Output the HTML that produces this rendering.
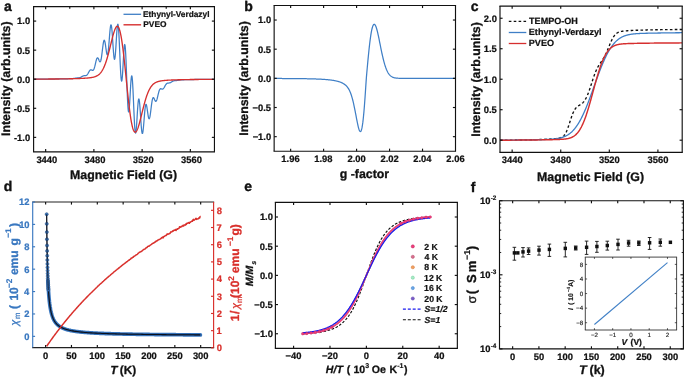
<!DOCTYPE html>
<html><head><meta charset="utf-8"><style>html,body{margin:0;padding:0;background:#fff;width:685px;height:378px;overflow:hidden}</style></head>
<body>
<svg width="685" height="378" viewBox="0 0 685 378" style="display:block;font-family:'Liberation Sans',sans-serif;will-change:transform" stroke-linejoin="round" text-rendering="geometricPrecision">
<rect width="685" height="378" fill="#fff"/>
<clipPath id="ca"><rect x="33.6" y="6.55" width="180.85" height="145.35"/></clipPath>
<g clip-path="url(#ca)" fill="none" stroke-linejoin="round">
<path d="M33.6,79.11 L33.86,79.11 L34.12,79.11 L34.38,79.11 L34.63,79.11 L34.89,79.11 L35.15,79.11 L35.41,79.11 L35.67,79.1 L35.93,79.1 L36.19,79.1 L36.45,79.1 L36.7,79.1 L36.96,79.1 L37.22,79.1 L37.48,79.1 L37.74,79.1 L38,79.1 L38.26,79.09 L38.52,79.09 L38.77,79.09 L39.03,79.09 L39.29,79.09 L39.55,79.09 L39.81,79.09 L40.07,79.09 L40.33,79.09 L40.59,79.09 L40.84,79.08 L41.1,79.08 L41.36,79.08 L41.62,79.08 L41.88,79.08 L42.14,79.08 L42.4,79.08 L42.66,79.08 L42.91,79.07 L43.17,79.07 L43.43,79.07 L43.69,79.07 L43.95,79.07 L44.21,79.07 L44.47,79.07 L44.73,79.07 L44.98,79.06 L45.24,79.06 L45.5,79.06 L45.76,79.06 L46.02,79.06 L46.28,79.06 L46.54,79.06 L46.8,79.05 L47.05,79.05 L47.31,79.05 L47.57,79.05 L47.83,79.05 L48.09,79.05 L48.35,79.05 L48.61,79.04 L48.86,79.04 L49.12,79.04 L49.38,79.04 L49.64,79.04 L49.9,79.04 L50.16,79.03 L50.42,79.03 L50.68,79.03 L50.93,79.03 L51.19,79.03 L51.45,79.03 L51.71,79.02 L51.97,79.02 L52.23,79.02 L52.49,79.02 L52.75,79.02 L53,79.01 L53.26,79.01 L53.52,79.01 L53.78,79.01 L54.04,79.01 L54.3,79 L54.56,79 L54.82,79 L55.07,79 L55.33,78.99 L55.59,78.99 L55.85,78.99 L56.11,78.99 L56.37,78.98 L56.63,78.98 L56.89,78.98 L57.14,78.98 L57.4,78.98 L57.66,78.97 L57.92,78.97 L58.18,78.97 L58.44,78.96 L58.7,78.96 L58.96,78.96 L59.21,78.96 L59.47,78.95 L59.73,78.95 L59.99,78.95 L60.25,78.94 L60.51,78.94 L60.77,78.93 L61.03,78.93 L61.28,78.93 L61.54,78.92 L61.8,78.92 L62.06,78.91 L62.32,78.91 L62.58,78.91 L62.84,78.9 L63.09,78.9 L63.35,78.89 L63.61,78.89 L63.87,78.89 L64.13,78.88 L64.39,78.88 L64.65,78.87 L64.91,78.87 L65.16,78.86 L65.42,78.86 L65.68,78.85 L65.94,78.85 L66.2,78.84 L66.46,78.83 L66.72,78.82 L66.98,78.81 L67.23,78.8 L67.49,78.79 L67.75,78.78 L68.01,78.76 L68.27,78.75 L68.53,78.74 L68.79,78.73 L69.05,78.72 L69.3,78.71 L69.56,78.7 L69.82,78.69 L70.08,78.68 L70.34,78.67 L70.6,78.66 L70.86,78.66 L71.12,78.65 L71.37,78.64 L71.63,78.63 L71.89,78.62 L72.15,78.61 L72.41,78.59 L72.67,78.57 L72.93,78.55 L73.19,78.52 L73.44,78.49 L73.7,78.46 L73.96,78.42 L74.22,78.38 L74.48,78.34 L74.74,78.29 L75,78.25 L75.26,78.2 L75.51,78.16 L75.77,78.12 L76.03,78.08 L76.29,78.05 L76.55,78.02 L76.81,77.99 L77.07,77.97 L77.32,77.96 L77.58,77.94 L77.84,77.93 L78.1,77.91 L78.36,77.9 L78.62,77.88 L78.88,77.85 L79.14,77.81 L79.39,77.76 L79.65,77.7 L79.91,77.62 L80.17,77.53 L80.43,77.42 L80.69,77.3 L80.95,77.16 L81.21,77.01 L81.46,76.86 L81.72,76.7 L81.98,76.54 L82.24,76.39 L82.5,76.24 L82.76,76.11 L83.02,75.99 L83.28,75.89 L83.53,75.81 L83.79,75.75 L84.05,75.71 L84.31,75.69 L84.57,75.68 L84.83,75.68 L85.09,75.68 L85.35,75.67 L85.6,75.64 L85.86,75.59 L86.12,75.51 L86.38,75.38 L86.64,75.21 L86.9,74.99 L87.16,74.72 L87.42,74.39 L87.67,74.02 L87.93,73.61 L88.19,73.16 L88.45,72.7 L88.71,72.22 L88.97,71.76 L89.23,71.32 L89.48,70.91 L89.74,70.55 L90,70.26 L90.26,70.03 L90.52,69.88 L90.78,69.8 L91.04,69.8 L91.3,69.85 L91.55,69.94 L91.81,70.07 L92.07,70.19 L92.33,70.3 L92.59,70.36 L92.85,70.35 L93.11,70.25 L93.37,70.03 L93.62,69.68 L93.88,69.19 L94.14,68.55 L94.4,67.78 L94.66,66.88 L94.92,65.88 L95.18,64.8 L95.44,63.68 L95.69,62.55 L95.95,61.46 L96.21,60.46 L96.47,59.57 L96.73,58.83 L96.99,58.28 L97.25,57.93 L97.51,57.79 L97.76,57.85 L98.02,58.11 L98.28,58.54 L98.54,59.08 L98.8,59.71 L99.06,60.35 L99.32,60.95 L99.58,61.44 L99.83,61.76 L100.09,61.85 L100.35,61.67 L100.61,61.19 L100.87,60.38 L101.13,59.24 L101.39,57.79 L101.65,56.07 L101.9,54.13 L102.16,52.04 L102.42,49.88 L102.68,47.74 L102.94,45.72 L103.2,43.9 L103.46,42.38 L103.71,41.23 L103.97,40.51 L104.23,40.24 L104.49,40.45 L104.75,41.13 L105.01,42.22 L105.27,43.67 L105.53,45.38 L105.78,47.25 L106.04,49.16 L106.3,50.98 L106.56,52.58 L106.82,53.83 L107.08,54.64 L107.34,54.91 L107.6,54.58 L107.85,53.63 L108.11,52.07 L108.37,49.93 L108.63,47.3 L108.89,44.28 L109.15,41.02 L109.41,37.66 L109.67,34.38 L109.92,31.36 L110.18,28.75 L110.44,26.72 L110.7,25.37 L110.96,24.81 L111.22,25.09 L111.48,26.21 L111.74,28.14 L111.99,30.79 L112.25,34.04 L112.51,37.74 L112.77,41.68 L113.03,45.67 L113.29,49.47 L113.55,52.9 L113.81,55.74 L114.06,57.84 L114.32,59.06 L114.58,59.33 L114.84,58.6 L115.1,56.92 L115.36,54.37 L115.62,51.07 L115.88,47.2 L116.13,43 L116.39,38.69 L116.65,34.54 L116.91,30.8 L117.17,27.71 L117.43,25.48 L117.69,24.28 L117.94,24.23 L118.2,25.38 L118.46,27.73 L118.72,31.2 L118.98,35.66 L119.24,40.92 L119.5,46.75 L119.76,52.86 L120.01,58.98 L120.27,64.81 L120.53,70.08 L120.79,74.53 L121.05,77.95 L121.31,80.19 L121.57,81.17 L121.83,80.86 L122.08,79.32 L122.34,76.67 L122.6,73.1 L122.86,68.84 L123.12,64.18 L123.38,59.42 L123.64,54.88 L123.9,50.86 L124.15,47.64 L124.41,45.46 L124.67,44.49 L124.93,44.87 L125.19,46.63 L125.45,49.74 L125.71,54.1 L125.97,59.53 L126.22,65.8 L126.48,72.64 L126.74,79.73 L127,86.76 L127.26,93.4 L127.52,99.35 L127.78,104.36 L128.04,108.21 L128.29,110.77 L128.55,111.96 L128.81,111.78 L129.07,110.31 L129.33,107.69 L129.59,104.14 L129.85,99.9 L130.11,95.26 L130.36,90.55 L130.62,86.07 L130.88,82.12 L131.14,78.95 L131.4,76.79 L131.66,75.8 L131.92,76.07 L132.17,77.61 L132.43,80.39 L132.69,84.29 L132.95,89.12 L133.21,94.67 L133.47,100.66 L133.73,106.82 L133.99,112.85 L134.24,118.48 L134.5,123.44 L134.76,127.52 L135.02,130.56 L135.28,132.44 L135.54,133.13 L135.8,132.64 L136.06,131.06 L136.31,128.52 L136.57,125.22 L136.83,121.36 L137.09,117.21 L137.35,113 L137.61,109.01 L137.87,105.44 L138.13,102.52 L138.38,100.39 L138.64,99.17 L138.9,98.92 L139.16,99.63 L139.42,101.26 L139.68,103.71 L139.94,106.83 L140.2,110.44 L140.45,114.34 L140.71,118.32 L140.97,122.18 L141.23,125.7 L141.49,128.72 L141.75,131.09 L142.01,132.7 L142.27,133.49 L142.52,133.45 L142.78,132.6 L143.04,131.01 L143.3,128.78 L143.56,126.06 L143.82,122.99 L144.08,119.74 L144.34,116.48 L144.59,113.39 L144.85,110.59 L145.11,108.22 L145.37,106.37 L145.63,105.1 L145.89,104.45 L146.15,104.39 L146.4,104.9 L146.66,105.9 L146.92,107.3 L147.18,108.99 L147.44,110.83 L147.7,112.71 L147.96,114.5 L148.22,116.09 L148.47,117.37 L148.73,118.28 L148.99,118.75 L149.25,118.77 L149.51,118.31 L149.77,117.42 L150.03,116.13 L150.29,114.51 L150.54,112.64 L150.8,110.59 L151.06,108.48 L151.32,106.38 L151.58,104.38 L151.84,102.56 L152.1,100.97 L152.36,99.67 L152.61,98.68 L152.87,98.01 L153.13,97.65 L153.39,97.58 L153.65,97.75 L153.91,98.12 L154.17,98.63 L154.43,99.22 L154.68,99.83 L154.94,100.39 L155.2,100.86 L155.46,101.19 L155.72,101.34 L155.98,101.31 L156.24,101.06 L156.5,100.61 L156.75,99.98 L157.01,99.17 L157.27,98.23 L157.53,97.19 L157.79,96.09 L158.05,94.97 L158.31,93.88 L158.57,92.83 L158.82,91.88 L159.08,91.03 L159.34,90.31 L159.6,89.73 L159.86,89.29 L160.12,88.99 L160.38,88.8 L160.63,88.72 L160.89,88.72 L161.15,88.78 L161.41,88.87 L161.67,88.97 L161.93,89.06 L162.19,89.11 L162.45,89.11 L162.7,89.06 L162.96,88.93 L163.22,88.73 L163.48,88.47 L163.74,88.14 L164,87.75 L164.26,87.32 L164.52,86.87 L164.77,86.39 L165.03,85.92 L165.29,85.46 L165.55,85.02 L165.81,84.63 L166.07,84.27 L166.33,83.96 L166.59,83.7 L166.84,83.49 L167.1,83.33 L167.36,83.21 L167.62,83.13 L167.88,83.08 L168.14,83.04 L168.4,83.02 L168.66,83.01 L168.91,82.99 L169.17,82.96 L169.43,82.92 L169.69,82.87 L169.95,82.79 L170.21,82.7 L170.47,82.58 L170.73,82.45 L170.98,82.31 L171.24,82.15 L171.5,81.99 L171.76,81.83 L172.02,81.67 L172.28,81.51 L172.54,81.37 L172.79,81.24 L173.05,81.12 L173.31,81.01 L173.57,80.92 L173.83,80.84 L174.09,80.78 L174.35,80.73 L174.61,80.69 L174.86,80.66 L175.12,80.64 L175.38,80.62 L175.64,80.6 L175.9,80.58 L176.16,80.56 L176.42,80.54 L176.68,80.51 L176.93,80.48 L177.19,80.45 L177.45,80.41 L177.71,80.37 L177.97,80.33 L178.23,80.28 L178.49,80.23 L178.75,80.19 L179,80.14 L179.26,80.1 L179.52,80.06 L179.78,80.02 L180.04,79.99 L180.3,79.96 L180.56,79.93 L180.82,79.91 L181.07,79.89 L181.33,79.87 L181.59,79.86 L181.85,79.84 L182.11,79.83 L182.37,79.82 L182.63,79.82 L182.89,79.81 L183.14,79.8 L183.4,79.79 L183.66,79.78 L183.92,79.77 L184.18,79.76 L184.44,79.75 L184.7,79.73 L184.96,79.72 L185.21,79.71 L185.47,79.7 L185.73,79.68 L185.99,79.67 L186.25,79.66 L186.51,79.65 L186.77,79.64 L187.02,79.63 L187.28,79.62 L187.54,79.61 L187.8,79.61 L188.06,79.6 L188.32,79.59 L188.58,79.59 L188.84,79.58 L189.09,79.58 L189.35,79.57 L189.61,79.57 L189.87,79.57 L190.13,79.56 L190.39,79.56 L190.65,79.55 L190.91,79.55 L191.16,79.55 L191.42,79.54 L191.68,79.54 L191.94,79.53 L192.2,79.53 L192.46,79.52 L192.72,79.52 L192.98,79.52 L193.23,79.51 L193.49,79.51 L193.75,79.51 L194.01,79.5 L194.27,79.5 L194.53,79.49 L194.79,79.49 L195.05,79.49 L195.3,79.49 L195.56,79.48 L195.82,79.48 L196.08,79.48 L196.34,79.48 L196.6,79.47 L196.86,79.47 L197.12,79.47 L197.37,79.47 L197.63,79.46 L197.89,79.46 L198.15,79.46 L198.41,79.46 L198.67,79.45 L198.93,79.45 L199.19,79.45 L199.44,79.45 L199.7,79.45 L199.96,79.44 L200.22,79.44 L200.48,79.44 L200.74,79.44 L201,79.43 L201.25,79.43 L201.51,79.43 L201.77,79.43 L202.03,79.43 L202.29,79.43 L202.55,79.42 L202.81,79.42 L203.07,79.42 L203.32,79.42 L203.58,79.42 L203.84,79.42 L204.1,79.41 L204.36,79.41 L204.62,79.41 L204.88,79.41 L205.14,79.41 L205.39,79.41 L205.65,79.4 L205.91,79.4 L206.17,79.4 L206.43,79.4 L206.69,79.4 L206.95,79.4 L207.21,79.39 L207.46,79.39 L207.72,79.39 L207.98,79.39 L208.24,79.39 L208.5,79.39 L208.76,79.39 L209.02,79.38 L209.28,79.38 L209.53,79.38 L209.79,79.38 L210.05,79.38 L210.31,79.38 L210.57,79.38 L210.83,79.38 L211.09,79.37 L211.35,79.37 L211.6,79.37 L211.86,79.37 L212.12,79.37 L212.38,79.37 L212.64,79.37 L212.9,79.37 L213.16,79.37 L213.42,79.36 L213.67,79.36 L213.93,79.36 L214.19,79.36 L214.45,79.36" stroke="#3f7fc6" stroke-width="1.25"/>
<path d="M33.6,79.12 L33.86,79.11 L34.12,79.11 L34.38,79.11 L34.63,79.11 L34.89,79.11 L35.15,79.11 L35.41,79.11 L35.67,79.11 L35.93,79.11 L36.19,79.11 L36.45,79.11 L36.7,79.1 L36.96,79.1 L37.22,79.1 L37.48,79.1 L37.74,79.1 L38,79.1 L38.26,79.1 L38.52,79.1 L38.77,79.1 L39.03,79.09 L39.29,79.09 L39.55,79.09 L39.81,79.09 L40.07,79.09 L40.33,79.09 L40.59,79.09 L40.84,79.09 L41.1,79.09 L41.36,79.08 L41.62,79.08 L41.88,79.08 L42.14,79.08 L42.4,79.08 L42.66,79.08 L42.91,79.08 L43.17,79.07 L43.43,79.07 L43.69,79.07 L43.95,79.07 L44.21,79.07 L44.47,79.07 L44.73,79.07 L44.98,79.07 L45.24,79.06 L45.5,79.06 L45.76,79.06 L46.02,79.06 L46.28,79.06 L46.54,79.06 L46.8,79.05 L47.05,79.05 L47.31,79.05 L47.57,79.05 L47.83,79.05 L48.09,79.05 L48.35,79.04 L48.61,79.04 L48.86,79.04 L49.12,79.04 L49.38,79.04 L49.64,79.04 L49.9,79.03 L50.16,79.03 L50.42,79.03 L50.68,79.03 L50.93,79.03 L51.19,79.02 L51.45,79.02 L51.71,79.02 L51.97,79.02 L52.23,79.02 L52.49,79.01 L52.75,79.01 L53,79.01 L53.26,79.01 L53.52,79.01 L53.78,79 L54.04,79 L54.3,79 L54.56,79 L54.82,78.99 L55.07,78.99 L55.33,78.99 L55.59,78.99 L55.85,78.98 L56.11,78.98 L56.37,78.98 L56.63,78.98 L56.89,78.97 L57.14,78.97 L57.4,78.97 L57.66,78.97 L57.92,78.96 L58.18,78.96 L58.44,78.96 L58.7,78.96 L58.96,78.95 L59.21,78.95 L59.47,78.95 L59.73,78.94 L59.99,78.94 L60.25,78.94 L60.51,78.93 L60.77,78.93 L61.03,78.93 L61.28,78.92 L61.54,78.92 L61.8,78.92 L62.06,78.91 L62.32,78.91 L62.58,78.91 L62.84,78.9 L63.09,78.9 L63.35,78.9 L63.61,78.89 L63.87,78.89 L64.13,78.88 L64.39,78.88 L64.65,78.88 L64.91,78.87 L65.16,78.87 L65.42,78.86 L65.68,78.86 L65.94,78.86 L66.2,78.85 L66.46,78.85 L66.72,78.84 L66.98,78.84 L67.23,78.83 L67.49,78.83 L67.75,78.82 L68.01,78.82 L68.27,78.81 L68.53,78.81 L68.79,78.8 L69.05,78.8 L69.3,78.79 L69.56,78.79 L69.82,78.78 L70.08,78.78 L70.34,78.77 L70.6,78.76 L70.86,78.76 L71.12,78.75 L71.37,78.75 L71.63,78.74 L71.89,78.73 L72.15,78.73 L72.41,78.72 L72.67,78.71 L72.93,78.71 L73.19,78.7 L73.44,78.69 L73.7,78.69 L73.96,78.68 L74.22,78.67 L74.48,78.67 L74.74,78.66 L75,78.65 L75.26,78.64 L75.51,78.63 L75.77,78.63 L76.03,78.62 L76.29,78.61 L76.55,78.6 L76.81,78.59 L77.07,78.58 L77.32,78.57 L77.58,78.57 L77.84,78.56 L78.1,78.55 L78.36,78.54 L78.62,78.53 L78.88,78.52 L79.14,78.51 L79.39,78.5 L79.65,78.49 L79.91,78.47 L80.17,78.46 L80.43,78.45 L80.69,78.44 L80.95,78.43 L81.21,78.42 L81.46,78.41 L81.72,78.39 L81.98,78.38 L82.24,78.37 L82.5,78.35 L82.76,78.34 L83.02,78.33 L83.28,78.31 L83.53,78.3 L83.79,78.28 L84.05,78.27 L84.31,78.25 L84.57,78.24 L84.83,78.22 L85.09,78.2 L85.35,78.19 L85.6,78.17 L85.86,78.15 L86.12,78.13 L86.38,78.11 L86.64,78.09 L86.9,78.07 L87.16,78.05 L87.42,78.03 L87.67,78 L87.93,77.98 L88.19,77.96 L88.45,77.93 L88.71,77.91 L88.97,77.88 L89.23,77.85 L89.48,77.82 L89.74,77.79 L90,77.76 L90.26,77.73 L90.52,77.69 L90.78,77.65 L91.04,77.62 L91.3,77.58 L91.55,77.53 L91.81,77.49 L92.07,77.44 L92.33,77.39 L92.59,77.34 L92.85,77.29 L93.11,77.23 L93.37,77.17 L93.62,77.11 L93.88,77.04 L94.14,76.97 L94.4,76.89 L94.66,76.81 L94.92,76.73 L95.18,76.63 L95.44,76.54 L95.69,76.44 L95.95,76.33 L96.21,76.21 L96.47,76.09 L96.73,75.96 L96.99,75.83 L97.25,75.68 L97.51,75.53 L97.76,75.36 L98.02,75.19 L98.28,75.01 L98.54,74.81 L98.8,74.6 L99.06,74.39 L99.32,74.16 L99.58,73.91 L99.83,73.65 L100.09,73.38 L100.35,73.09 L100.61,72.79 L100.87,72.47 L101.13,72.13 L101.39,71.78 L101.65,71.4 L101.9,71.01 L102.16,70.6 L102.42,70.16 L102.68,69.71 L102.94,69.24 L103.2,68.74 L103.46,68.22 L103.71,67.68 L103.97,67.11 L104.23,66.52 L104.49,65.91 L104.75,65.27 L105.01,64.61 L105.27,63.93 L105.53,63.22 L105.78,62.48 L106.04,61.72 L106.3,60.94 L106.56,60.13 L106.82,59.3 L107.08,58.44 L107.34,57.56 L107.6,56.66 L107.85,55.74 L108.11,54.8 L108.37,53.84 L108.63,52.86 L108.89,51.87 L109.15,50.86 L109.41,49.84 L109.67,48.81 L109.92,47.77 L110.18,46.72 L110.44,45.66 L110.7,44.6 L110.96,43.54 L111.22,42.49 L111.48,41.44 L111.74,40.39 L111.99,39.36 L112.25,38.34 L112.51,37.34 L112.77,36.36 L113.03,35.4 L113.29,34.47 L113.55,33.57 L113.81,32.71 L114.06,31.88 L114.32,31.1 L114.58,30.36 L114.84,29.67 L115.1,29.03 L115.36,28.45 L115.62,27.94 L115.88,27.48 L116.13,27.09 L116.39,26.78 L116.65,26.54 L116.91,26.38 L117.17,26.29 L117.43,26.3 L117.69,26.38 L117.94,26.56 L118.2,26.83 L118.46,27.19 L118.72,27.65 L118.98,28.21 L119.24,28.86 L119.5,29.61 L119.76,30.46 L120.01,31.42 L120.27,32.47 L120.53,33.62 L120.79,34.88 L121.05,36.23 L121.31,37.68 L121.57,39.22 L121.83,40.86 L122.08,42.58 L122.34,44.4 L122.6,46.29 L122.86,48.27 L123.12,50.33 L123.38,52.45 L123.64,54.65 L123.9,56.91 L124.15,59.22 L124.41,61.59 L124.67,64 L124.93,66.45 L125.19,68.93 L125.45,71.44 L125.71,73.98 L125.97,76.52 L126.22,79.08 L126.48,81.63 L126.74,84.18 L127,86.71 L127.26,89.22 L127.52,91.71 L127.78,94.17 L128.04,96.58 L128.29,98.95 L128.55,101.28 L128.81,103.54 L129.07,105.74 L129.33,107.88 L129.59,109.94 L129.85,111.93 L130.11,113.84 L130.36,115.66 L130.62,117.4 L130.88,119.04 L131.14,120.6 L131.4,122.06 L131.66,123.42 L131.92,124.68 L132.17,125.85 L132.43,126.91 L132.69,127.88 L132.95,128.74 L133.21,129.51 L133.47,130.17 L133.73,130.74 L133.99,131.21 L134.24,131.58 L134.5,131.86 L134.76,132.05 L135.02,132.15 L135.28,132.16 L135.54,132.09 L135.8,131.93 L136.06,131.7 L136.31,131.4 L136.57,131.02 L136.83,130.57 L137.09,130.06 L137.35,129.49 L137.61,128.86 L137.87,128.18 L138.13,127.44 L138.38,126.66 L138.64,125.84 L138.9,124.98 L139.16,124.09 L139.42,123.16 L139.68,122.21 L139.94,121.23 L140.2,120.23 L140.45,119.21 L140.71,118.18 L140.97,117.14 L141.23,116.09 L141.49,115.03 L141.75,113.97 L142.01,112.91 L142.27,111.86 L142.52,110.81 L142.78,109.76 L143.04,108.73 L143.3,107.71 L143.56,106.7 L143.82,105.7 L144.08,104.72 L144.34,103.76 L144.59,102.82 L144.85,101.89 L145.11,100.99 L145.37,100.11 L145.63,99.25 L145.89,98.42 L146.15,97.61 L146.4,96.82 L146.66,96.06 L146.92,95.32 L147.18,94.61 L147.44,93.92 L147.7,93.25 L147.96,92.61 L148.22,92 L148.47,91.4 L148.73,90.84 L148.99,90.29 L149.25,89.77 L149.51,89.27 L149.77,88.79 L150.03,88.34 L150.29,87.9 L150.54,87.49 L150.8,87.09 L151.06,86.72 L151.32,86.36 L151.58,86.02 L151.84,85.7 L152.1,85.39 L152.36,85.1 L152.61,84.83 L152.87,84.57 L153.13,84.32 L153.39,84.09 L153.65,83.87 L153.91,83.66 L154.17,83.47 L154.43,83.28 L154.68,83.11 L154.94,82.94 L155.2,82.79 L155.46,82.64 L155.72,82.5 L155.98,82.37 L156.24,82.25 L156.5,82.13 L156.75,82.03 L157.01,81.92 L157.27,81.83 L157.53,81.74 L157.79,81.65 L158.05,81.57 L158.31,81.49 L158.57,81.42 L158.82,81.35 L159.08,81.29 L159.34,81.23 L159.6,81.17 L159.86,81.11 L160.12,81.06 L160.38,81.01 L160.63,80.96 L160.89,80.92 L161.15,80.88 L161.41,80.84 L161.67,80.8 L161.93,80.76 L162.19,80.73 L162.45,80.69 L162.7,80.66 L162.96,80.63 L163.22,80.6 L163.48,80.57 L163.74,80.55 L164,80.52 L164.26,80.5 L164.52,80.47 L164.77,80.45 L165.03,80.43 L165.29,80.4 L165.55,80.38 L165.81,80.36 L166.07,80.34 L166.33,80.32 L166.59,80.3 L166.84,80.28 L167.1,80.27 L167.36,80.25 L167.62,80.23 L167.88,80.22 L168.14,80.2 L168.4,80.18 L168.66,80.17 L168.91,80.15 L169.17,80.14 L169.43,80.13 L169.69,80.11 L169.95,80.1 L170.21,80.08 L170.47,80.07 L170.73,80.06 L170.98,80.05 L171.24,80.03 L171.5,80.02 L171.76,80.01 L172.02,80 L172.28,79.99 L172.54,79.98 L172.79,79.97 L173.05,79.95 L173.31,79.94 L173.57,79.93 L173.83,79.92 L174.09,79.91 L174.35,79.9 L174.61,79.89 L174.86,79.89 L175.12,79.88 L175.38,79.87 L175.64,79.86 L175.9,79.85 L176.16,79.84 L176.42,79.83 L176.68,79.82 L176.93,79.82 L177.19,79.81 L177.45,79.8 L177.71,79.79 L177.97,79.79 L178.23,79.78 L178.49,79.77 L178.75,79.76 L179,79.76 L179.26,79.75 L179.52,79.74 L179.78,79.74 L180.04,79.73 L180.3,79.72 L180.56,79.72 L180.82,79.71 L181.07,79.7 L181.33,79.7 L181.59,79.69 L181.85,79.69 L182.11,79.68 L182.37,79.67 L182.63,79.67 L182.89,79.66 L183.14,79.66 L183.4,79.65 L183.66,79.65 L183.92,79.64 L184.18,79.64 L184.44,79.63 L184.7,79.63 L184.96,79.62 L185.21,79.62 L185.47,79.61 L185.73,79.61 L185.99,79.6 L186.25,79.6 L186.51,79.6 L186.77,79.59 L187.02,79.59 L187.28,79.58 L187.54,79.58 L187.8,79.57 L188.06,79.57 L188.32,79.57 L188.58,79.56 L188.84,79.56 L189.09,79.55 L189.35,79.55 L189.61,79.55 L189.87,79.54 L190.13,79.54 L190.39,79.54 L190.65,79.53 L190.91,79.53 L191.16,79.53 L191.42,79.52 L191.68,79.52 L191.94,79.52 L192.2,79.51 L192.46,79.51 L192.72,79.51 L192.98,79.5 L193.23,79.5 L193.49,79.5 L193.75,79.5 L194.01,79.49 L194.27,79.49 L194.53,79.49 L194.79,79.48 L195.05,79.48 L195.3,79.48 L195.56,79.48 L195.82,79.47 L196.08,79.47 L196.34,79.47 L196.6,79.47 L196.86,79.46 L197.12,79.46 L197.37,79.46 L197.63,79.46 L197.89,79.45 L198.15,79.45 L198.41,79.45 L198.67,79.45 L198.93,79.44 L199.19,79.44 L199.44,79.44 L199.7,79.44 L199.96,79.44 L200.22,79.43 L200.48,79.43 L200.74,79.43 L201,79.43 L201.25,79.43 L201.51,79.42 L201.77,79.42 L202.03,79.42 L202.29,79.42 L202.55,79.42 L202.81,79.41 L203.07,79.41 L203.32,79.41 L203.58,79.41 L203.84,79.41 L204.1,79.41 L204.36,79.4 L204.62,79.4 L204.88,79.4 L205.14,79.4 L205.39,79.4 L205.65,79.4 L205.91,79.39 L206.17,79.39 L206.43,79.39 L206.69,79.39 L206.95,79.39 L207.21,79.39 L207.46,79.39 L207.72,79.38 L207.98,79.38 L208.24,79.38 L208.5,79.38 L208.76,79.38 L209.02,79.38 L209.28,79.38 L209.53,79.37 L209.79,79.37 L210.05,79.37 L210.31,79.37 L210.57,79.37 L210.83,79.37 L211.09,79.37 L211.35,79.37 L211.6,79.36 L211.86,79.36 L212.12,79.36 L212.38,79.36 L212.64,79.36 L212.9,79.36 L213.16,79.36 L213.42,79.36 L213.67,79.35 L213.93,79.35 L214.19,79.35 L214.45,79.35" stroke="#d62f2f" stroke-width="1.35"/>
</g>
<line x1="33.02" y1="6.55" x2="215.02" y2="6.55" stroke="#111" stroke-width="1.15"/>
<line x1="33.02" y1="151.9" x2="215.02" y2="151.9" stroke="#111" stroke-width="1.15"/>
<line x1="33.6" y1="6.55" x2="33.6" y2="151.9" stroke="#111" stroke-width="1.15"/>
<line x1="214.45" y1="6.55" x2="214.45" y2="151.9" stroke="#111" stroke-width="1.15"/>
<line x1="45.66" y1="151.9" x2="45.66" y2="149.1" stroke="#111" stroke-width="1.15"/>
<line x1="45.66" y1="6.55" x2="45.66" y2="9.35" stroke="#111" stroke-width="1.15"/>
<line x1="93.88" y1="151.9" x2="93.88" y2="149.1" stroke="#111" stroke-width="1.15"/>
<line x1="93.88" y1="6.55" x2="93.88" y2="9.35" stroke="#111" stroke-width="1.15"/>
<line x1="142.11" y1="151.9" x2="142.11" y2="149.1" stroke="#111" stroke-width="1.15"/>
<line x1="142.11" y1="6.55" x2="142.11" y2="9.35" stroke="#111" stroke-width="1.15"/>
<line x1="190.34" y1="151.9" x2="190.34" y2="149.1" stroke="#111" stroke-width="1.15"/>
<line x1="190.34" y1="6.55" x2="190.34" y2="9.35" stroke="#111" stroke-width="1.15"/>
<line x1="69.77" y1="6.55" x2="69.77" y2="8.75" stroke="#111" stroke-width="1.15"/>
<line x1="118" y1="6.55" x2="118" y2="8.75" stroke="#111" stroke-width="1.15"/>
<line x1="166.22" y1="6.55" x2="166.22" y2="8.75" stroke="#111" stroke-width="1.15"/>
<line x1="33.6" y1="21.09" x2="36.2" y2="21.09" stroke="#111" stroke-width="1.15"/>
<line x1="214.45" y1="21.09" x2="211.85" y2="21.09" stroke="#111" stroke-width="1.15"/>
<line x1="33.6" y1="50.15" x2="36.2" y2="50.15" stroke="#111" stroke-width="1.15"/>
<line x1="214.45" y1="50.15" x2="211.85" y2="50.15" stroke="#111" stroke-width="1.15"/>
<line x1="33.6" y1="79.22" x2="36.2" y2="79.22" stroke="#111" stroke-width="1.15"/>
<line x1="214.45" y1="79.22" x2="211.85" y2="79.22" stroke="#111" stroke-width="1.15"/>
<line x1="33.6" y1="108.29" x2="36.2" y2="108.29" stroke="#111" stroke-width="1.15"/>
<line x1="214.45" y1="108.29" x2="211.85" y2="108.29" stroke="#111" stroke-width="1.15"/>
<line x1="33.6" y1="137.37" x2="36.2" y2="137.37" stroke="#111" stroke-width="1.15"/>
<line x1="214.45" y1="137.37" x2="211.85" y2="137.37" stroke="#111" stroke-width="1.15"/>
<text x="36.39" y="162.8" font-size="9.4" font-weight="bold" fill="#111" stroke="#111" stroke-width="0.24">3440</text>
<text x="84.61" y="162.8" font-size="9.4" font-weight="bold" fill="#111" stroke="#111" stroke-width="0.24">3480</text>
<text x="132.84" y="162.8" font-size="9.4" font-weight="bold" fill="#111" stroke="#111" stroke-width="0.24">3520</text>
<text x="181.07" y="162.8" font-size="9.4" font-weight="bold" fill="#111" stroke="#111" stroke-width="0.24">3560</text>
<text x="17.12" y="24.45" font-size="9.4" font-weight="bold" fill="#111" stroke="#111" stroke-width="0.24">1.0</text>
<text x="16.99" y="53.52" font-size="9.4" font-weight="bold" fill="#111" stroke="#111" stroke-width="0.24">0.5</text>
<text x="17.12" y="82.59" font-size="9.4" font-weight="bold" fill="#111" stroke="#111" stroke-width="0.24">0.0</text>
<text x="13.86" y="111.66" font-size="9.4" font-weight="bold" fill="#111" stroke="#111" stroke-width="0.24">-0.5</text>
<text x="13.99" y="140.73" font-size="9.4" font-weight="bold" fill="#111" stroke="#111" stroke-width="0.24">-1.0</text>
<text x="70.07" y="178.8" font-size="12.35" font-weight="bold" fill="#111" stroke="#111" stroke-width="0.31">Magnetic Field (G)</text>
<text transform="translate(10,136.03) rotate(-90)" font-size="12.35" font-weight="bold" fill="#111" stroke="#111" stroke-width="0.31">Intensity (arb.units)</text>
<text x="3.89" y="10.5" font-size="14" font-weight="bold" fill="#111" stroke="#111" stroke-width="0.35">a</text>
<line x1="123.5" y1="14.3" x2="141.1" y2="14.3" stroke="#3f7fc6" stroke-width="1.3"/>
<line x1="123.5" y1="24.8" x2="141.1" y2="24.8" stroke="#d62f2f" stroke-width="1.4"/>
<text x="143.04" y="17.15" font-size="8.3" font-weight="bold" fill="#111" stroke="#111" stroke-width="0.21">Ethynyl-Verdazyl</text>
<text x="143.24" y="27.25" font-size="8.4" font-weight="bold" fill="#111" stroke="#111" stroke-width="0.21">PVEO</text>
<clipPath id="cb"><rect x="274.15" y="5.45" width="181.35" height="145.8"/></clipPath>
<g clip-path="url(#cb)" fill="none"><path d="M274.15,78.46 L274.51,78.46 L274.88,78.46 L275.24,78.46 L275.6,78.47 L275.97,78.47 L276.33,78.47 L276.69,78.47 L277.06,78.47 L277.42,78.47 L277.78,78.47 L278.15,78.48 L278.51,78.48 L278.87,78.48 L279.24,78.48 L279.6,78.48 L279.96,78.48 L280.33,78.49 L280.69,78.49 L281.06,78.49 L281.42,78.49 L281.78,78.49 L282.15,78.5 L282.51,78.5 L282.87,78.5 L283.24,78.5 L283.6,78.5 L283.96,78.5 L284.33,78.51 L284.69,78.51 L285.05,78.51 L285.42,78.51 L285.78,78.52 L286.14,78.52 L286.51,78.52 L286.87,78.52 L287.23,78.52 L287.6,78.53 L287.96,78.53 L288.32,78.53 L288.69,78.53 L289.05,78.54 L289.41,78.54 L289.78,78.54 L290.14,78.54 L290.5,78.55 L290.87,78.55 L291.23,78.55 L291.59,78.56 L291.96,78.56 L292.32,78.56 L292.68,78.56 L293.05,78.57 L293.41,78.57 L293.78,78.57 L294.14,78.58 L294.5,78.58 L294.87,78.58 L295.23,78.59 L295.59,78.59 L295.96,78.6 L296.32,78.6 L296.68,78.6 L297.05,78.61 L297.41,78.61 L297.77,78.61 L298.14,78.62 L298.5,78.62 L298.86,78.63 L299.23,78.63 L299.59,78.64 L299.95,78.64 L300.32,78.65 L300.68,78.65 L301.04,78.65 L301.41,78.66 L301.77,78.67 L302.13,78.67 L302.5,78.68 L302.86,78.68 L303.22,78.69 L303.59,78.69 L303.95,78.7 L304.31,78.7 L304.68,78.71 L305.04,78.72 L305.4,78.72 L305.77,78.73 L306.13,78.74 L306.49,78.74 L306.86,78.75 L307.22,78.76 L307.59,78.76 L307.95,78.77 L308.31,78.78 L308.68,78.79 L309.04,78.79 L309.4,78.8 L309.77,78.81 L310.13,78.82 L310.49,78.83 L310.86,78.84 L311.22,78.85 L311.58,78.86 L311.95,78.87 L312.31,78.88 L312.67,78.89 L313.04,78.9 L313.4,78.91 L313.76,78.92 L314.13,78.93 L314.49,78.94 L314.85,78.95 L315.22,78.97 L315.58,78.98 L315.94,78.99 L316.31,79.01 L316.67,79.02 L317.03,79.03 L317.4,79.05 L317.76,79.06 L318.12,79.08 L318.49,79.09 L318.85,79.11 L319.21,79.13 L319.58,79.14 L319.94,79.16 L320.31,79.18 L320.67,79.2 L321.03,79.22 L321.4,79.24 L321.76,79.26 L322.12,79.28 L322.49,79.3 L322.85,79.32 L323.21,79.35 L323.58,79.37 L323.94,79.39 L324.3,79.42 L324.67,79.45 L325.03,79.47 L325.39,79.5 L325.76,79.53 L326.12,79.56 L326.48,79.59 L326.85,79.62 L327.21,79.65 L327.57,79.69 L327.94,79.72 L328.3,79.76 L328.66,79.8 L329.03,79.83 L329.39,79.87 L329.75,79.92 L330.12,79.96 L330.48,80 L330.84,80.05 L331.21,80.1 L331.57,80.15 L331.93,80.2 L332.3,80.25 L332.66,80.31 L333.03,80.36 L333.39,80.42 L333.75,80.48 L334.12,80.55 L334.48,80.61 L334.84,80.68 L335.21,80.76 L335.57,80.83 L335.93,80.91 L336.3,80.99 L336.66,81.07 L337.02,81.16 L337.39,81.25 L337.75,81.35 L338.11,81.45 L338.48,81.55 L338.84,81.66 L339.2,81.77 L339.57,81.89 L339.93,82.02 L340.29,82.15 L340.66,82.28 L341.02,82.43 L341.38,82.58 L341.75,82.74 L342.11,82.9 L342.47,83.08 L342.84,83.27 L343.2,83.47 L343.56,83.68 L343.93,83.9 L344.29,84.14 L344.65,84.4 L345.02,84.67 L345.38,84.96 L345.75,85.28 L346.11,85.62 L346.47,85.99 L346.84,86.39 L347.2,86.82 L347.56,87.28 L347.93,87.79 L348.29,88.34 L348.65,88.94 L349.02,89.58 L349.38,90.29 L349.74,91.05 L350.11,91.88 L350.47,92.77 L350.83,93.74 L351.2,94.78 L351.56,95.9 L351.92,97.1 L352.29,98.38 L352.65,99.74 L353.01,101.19 L353.38,102.72 L353.74,104.33 L354.1,106.01 L354.47,107.76 L354.83,109.56 L355.19,111.42 L355.56,113.32 L355.92,115.23 L356.28,117.16 L356.65,119.07 L357.01,120.94 L357.37,122.75 L357.74,124.48 L358.1,126.09 L358.47,127.56 L358.83,128.85 L359.19,129.93 L359.56,130.77 L359.92,131.33 L360.28,131.58 L360.65,131.49 L361.01,131.03 L361.37,130.17 L361.74,128.89 L362.1,127.18 L362.46,125.01 L362.83,122.38 L363.19,119.3 L363.55,115.77 L363.92,111.83 L364.28,107.49 L364.64,102.8 L365.01,97.81 L365.37,92.57 L365.73,87.14 L366.1,81.6 L366.46,76.64 L366.82,72.56 L367.19,68.52 L367.55,64.53 L367.91,60.64 L368.28,56.85 L368.64,53.2 L369,49.7 L369.37,46.37 L369.73,43.24 L370.09,40.32 L370.46,37.62 L370.82,35.15 L371.18,32.92 L371.55,30.95 L371.91,29.23 L372.28,27.77 L372.64,26.57 L373,25.63 L373.37,24.94 L373.73,24.5 L374.09,24.3 L374.46,24.33 L374.82,24.59 L375.18,25.05 L375.55,25.71 L375.91,26.55 L376.27,27.55 L376.64,28.71 L377,30 L377.36,31.42 L377.73,32.93 L378.09,34.54 L378.45,36.22 L378.82,37.95 L379.18,39.73 L379.54,41.54 L379.91,43.36 L380.27,45.18 L380.63,47 L381,48.8 L381.36,50.58 L381.72,52.31 L382.09,54 L382.45,55.65 L382.81,57.23 L383.18,58.76 L383.54,60.22 L383.9,61.62 L384.27,62.95 L384.63,64.21 L385,65.4 L385.36,66.51 L385.72,67.56 L386.09,68.54 L386.45,69.45 L386.81,70.3 L387.18,71.08 L387.54,71.81 L387.9,72.47 L388.27,73.08 L388.63,73.64 L388.99,74.15 L389.36,74.61 L389.72,75.03 L390.08,75.41 L390.45,75.76 L390.81,76.06 L391.17,76.34 L391.54,76.59 L391.9,76.81 L392.26,77 L392.63,77.17 L392.99,77.33 L393.35,77.46 L393.72,77.58 L394.08,77.69 L394.44,77.78 L394.81,77.86 L395.17,77.93 L395.53,77.99 L395.9,78.04 L396.26,78.09 L396.62,78.13 L396.99,78.16 L397.35,78.19 L397.72,78.22 L398.08,78.24 L398.44,78.25 L398.81,78.27 L399.17,78.28 L399.53,78.29 L399.9,78.3 L400.26,78.31 L400.62,78.32 L400.99,78.32 L401.35,78.33 L401.71,78.33 L402.08,78.34 L402.44,78.34 L402.8,78.34 L403.17,78.34 L403.53,78.34 L403.89,78.34 L404.26,78.35 L404.62,78.35 L404.98,78.35 L405.35,78.35 L405.71,78.35 L406.07,78.35 L406.44,78.35 L406.8,78.35 L407.16,78.35 L407.53,78.35 L407.89,78.35 L408.25,78.35 L408.62,78.35 L408.98,78.35 L409.34,78.35 L409.71,78.35 L410.07,78.35 L410.44,78.35 L410.8,78.35 L411.16,78.35 L411.53,78.35 L411.89,78.35 L412.25,78.35 L412.62,78.35 L412.98,78.35 L413.34,78.35 L413.71,78.35 L414.07,78.35 L414.43,78.35 L414.8,78.35 L415.16,78.35 L415.52,78.35 L415.89,78.35 L416.25,78.35 L416.61,78.35 L416.98,78.35 L417.34,78.35 L417.7,78.35 L418.07,78.35 L418.43,78.35 L418.79,78.35 L419.16,78.35 L419.52,78.35 L419.88,78.35 L420.25,78.35 L420.61,78.35 L420.97,78.35 L421.34,78.35 L421.7,78.35 L422.06,78.35 L422.43,78.35 L422.79,78.35 L423.16,78.35 L423.52,78.35 L423.88,78.35 L424.25,78.35 L424.61,78.35 L424.97,78.35 L425.34,78.35 L425.7,78.35 L426.06,78.35 L426.43,78.35 L426.79,78.35 L427.15,78.35 L427.52,78.35 L427.88,78.35 L428.24,78.35 L428.61,78.35 L428.97,78.35 L429.33,78.35 L429.7,78.35 L430.06,78.35 L430.42,78.35 L430.79,78.35 L431.15,78.35 L431.51,78.35 L431.88,78.35 L432.24,78.35 L432.6,78.35 L432.97,78.35 L433.33,78.35 L433.69,78.35 L434.06,78.35 L434.42,78.35 L434.78,78.35 L435.15,78.35 L435.51,78.35 L435.87,78.35 L436.24,78.35 L436.6,78.35 L436.97,78.35 L437.33,78.35 L437.69,78.35 L438.06,78.35 L438.42,78.35 L438.78,78.35 L439.15,78.35 L439.51,78.35 L439.87,78.35 L440.24,78.35 L440.6,78.35 L440.96,78.35 L441.33,78.35 L441.69,78.35 L442.05,78.35 L442.42,78.35 L442.78,78.35 L443.14,78.35 L443.51,78.35 L443.87,78.35 L444.23,78.35 L444.6,78.35 L444.96,78.35 L445.32,78.35 L445.69,78.35 L446.05,78.35 L446.41,78.35 L446.78,78.35 L447.14,78.35 L447.5,78.35 L447.87,78.35 L448.23,78.35 L448.59,78.35 L448.96,78.35 L449.32,78.35 L449.69,78.35 L450.05,78.35 L450.41,78.35 L450.78,78.35 L451.14,78.35 L451.5,78.35 L451.87,78.35 L452.23,78.35 L452.59,78.35 L452.96,78.35 L453.32,78.35 L453.68,78.35 L454.05,78.35 L454.41,78.35 L454.77,78.35 L455.14,78.35 L455.5,78.35" stroke="#3f7fc6" stroke-width="1.25"/></g>
<line x1="273.57" y1="5.45" x2="456.07" y2="5.45" stroke="#111" stroke-width="1.15"/>
<line x1="273.57" y1="151.25" x2="456.07" y2="151.25" stroke="#111" stroke-width="1.15"/>
<line x1="274.15" y1="5.45" x2="274.15" y2="151.25" stroke="#111" stroke-width="1.15"/>
<line x1="455.5" y1="5.45" x2="455.5" y2="151.25" stroke="#111" stroke-width="1.15"/>
<line x1="290.64" y1="151.25" x2="290.64" y2="148.65" stroke="#111" stroke-width="1.15"/>
<line x1="290.64" y1="5.45" x2="290.64" y2="8.05" stroke="#111" stroke-width="1.15"/>
<line x1="323.61" y1="151.25" x2="323.61" y2="148.65" stroke="#111" stroke-width="1.15"/>
<line x1="323.61" y1="5.45" x2="323.61" y2="8.05" stroke="#111" stroke-width="1.15"/>
<line x1="356.58" y1="151.25" x2="356.58" y2="148.65" stroke="#111" stroke-width="1.15"/>
<line x1="356.58" y1="5.45" x2="356.58" y2="8.05" stroke="#111" stroke-width="1.15"/>
<line x1="389.55" y1="151.25" x2="389.55" y2="148.65" stroke="#111" stroke-width="1.15"/>
<line x1="389.55" y1="5.45" x2="389.55" y2="8.05" stroke="#111" stroke-width="1.15"/>
<line x1="422.53" y1="151.25" x2="422.53" y2="148.65" stroke="#111" stroke-width="1.15"/>
<line x1="422.53" y1="5.45" x2="422.53" y2="8.05" stroke="#111" stroke-width="1.15"/>
<line x1="274.15" y1="20.03" x2="276.75" y2="20.03" stroke="#111" stroke-width="1.15"/>
<line x1="455.5" y1="20.03" x2="452.9" y2="20.03" stroke="#111" stroke-width="1.15"/>
<line x1="274.15" y1="49.19" x2="276.75" y2="49.19" stroke="#111" stroke-width="1.15"/>
<line x1="455.5" y1="49.19" x2="452.9" y2="49.19" stroke="#111" stroke-width="1.15"/>
<line x1="274.15" y1="78.35" x2="276.75" y2="78.35" stroke="#111" stroke-width="1.15"/>
<line x1="455.5" y1="78.35" x2="452.9" y2="78.35" stroke="#111" stroke-width="1.15"/>
<line x1="274.15" y1="107.51" x2="276.75" y2="107.51" stroke="#111" stroke-width="1.15"/>
<line x1="455.5" y1="107.51" x2="452.9" y2="107.51" stroke="#111" stroke-width="1.15"/>
<line x1="274.15" y1="136.67" x2="276.75" y2="136.67" stroke="#111" stroke-width="1.15"/>
<line x1="455.5" y1="136.67" x2="452.9" y2="136.67" stroke="#111" stroke-width="1.15"/>
<text x="281.36" y="161.7" font-size="9.4" font-weight="bold" fill="#111" stroke="#111" stroke-width="0.24">1.96</text>
<text x="314.31" y="161.7" font-size="9.4" font-weight="bold" fill="#111" stroke="#111" stroke-width="0.24">1.98</text>
<text x="347.46" y="161.7" font-size="9.4" font-weight="bold" fill="#111" stroke="#111" stroke-width="0.24">2.00</text>
<text x="380.43" y="161.7" font-size="9.4" font-weight="bold" fill="#111" stroke="#111" stroke-width="0.24">2.02</text>
<text x="413.24" y="161.7" font-size="9.4" font-weight="bold" fill="#111" stroke="#111" stroke-width="0.24">2.04</text>
<text x="446.36" y="161.7" font-size="9.4" font-weight="bold" fill="#111" stroke="#111" stroke-width="0.24">2.06</text>
<text x="258.12" y="23.4" font-size="9.4" font-weight="bold" fill="#111" stroke="#111" stroke-width="0.24">1.0</text>
<text x="257.99" y="52.56" font-size="9.4" font-weight="bold" fill="#111" stroke="#111" stroke-width="0.24">0.5</text>
<text x="258.12" y="81.72" font-size="9.4" font-weight="bold" fill="#111" stroke="#111" stroke-width="0.24">0.0</text>
<text x="252.5" y="110.88" font-size="9.4" font-weight="bold" fill="#111" stroke="#111" stroke-width="0.24">−0.5</text>
<text x="252.63" y="140.04" font-size="9.4" font-weight="bold" fill="#111" stroke="#111" stroke-width="0.24">−1.0</text>
<text x="339.79" y="177.5" font-size="12.35" font-weight="bold" fill="#111" stroke="#111" stroke-width="0.31">g -factor</text>
<text transform="translate(247.5,135.73) rotate(-90)" font-size="12.35" font-weight="bold" fill="#111" stroke="#111" stroke-width="0.31">Intensity (arb.units)</text>
<text x="244.18" y="10.5" font-size="14" font-weight="bold" fill="#111" stroke="#111" stroke-width="0.35">b</text>
<clipPath id="cc"><rect x="500.0" y="6.05" width="182.2" height="146.35"/></clipPath>
<g clip-path="url(#cc)" fill="none">
<path d="M500,140.2 L500.26,140.2 L500.52,140.2 L500.78,140.2 L501.04,140.2 L501.3,140.19 L501.56,140.19 L501.82,140.19 L502.09,140.19 L502.35,140.18 L502.61,140.18 L502.87,140.18 L503.13,140.18 L503.39,140.17 L503.65,140.17 L503.91,140.17 L504.17,140.17 L504.43,140.16 L504.69,140.16 L504.95,140.16 L505.21,140.16 L505.47,140.15 L505.73,140.15 L506,140.15 L506.26,140.15 L506.52,140.14 L506.78,140.14 L507.04,140.14 L507.3,140.14 L507.56,140.13 L507.82,140.13 L508.08,140.13 L508.34,140.13 L508.6,140.12 L508.86,140.12 L509.12,140.12 L509.38,140.11 L509.64,140.11 L509.91,140.11 L510.17,140.11 L510.43,140.1 L510.69,140.1 L510.95,140.1 L511.21,140.09 L511.47,140.09 L511.73,140.09 L511.99,140.08 L512.25,140.08 L512.51,140.08 L512.77,140.08 L513.03,140.07 L513.29,140.07 L513.55,140.07 L513.81,140.06 L514.08,140.06 L514.34,140.06 L514.6,140.05 L514.86,140.05 L515.12,140.05 L515.38,140.04 L515.64,140.04 L515.9,140.04 L516.16,140.03 L516.42,140.03 L516.68,140.03 L516.94,140.02 L517.2,140.02 L517.46,140.02 L517.72,140.01 L517.99,140.01 L518.25,140 L518.51,140 L518.77,140 L519.03,139.99 L519.29,139.99 L519.55,139.99 L519.81,139.98 L520.07,139.98 L520.33,139.97 L520.59,139.97 L520.85,139.97 L521.11,139.96 L521.37,139.96 L521.63,139.95 L521.9,139.95 L522.16,139.95 L522.42,139.94 L522.68,139.94 L522.94,139.93 L523.2,139.93 L523.46,139.92 L523.72,139.92 L523.98,139.92 L524.24,139.91 L524.5,139.91 L524.76,139.9 L525.02,139.9 L525.28,139.89 L525.54,139.89 L525.81,139.88 L526.07,139.88 L526.33,139.87 L526.59,139.87 L526.85,139.86 L527.11,139.86 L527.37,139.85 L527.63,139.85 L527.89,139.84 L528.15,139.84 L528.41,139.83 L528.67,139.83 L528.93,139.82 L529.19,139.82 L529.45,139.81 L529.72,139.81 L529.98,139.8 L530.24,139.8 L530.5,139.79 L530.76,139.78 L531.02,139.78 L531.28,139.77 L531.54,139.77 L531.8,139.76 L532.06,139.75 L532.32,139.75 L532.58,139.74 L532.84,139.74 L533.1,139.73 L533.36,139.72 L533.62,139.72 L533.89,139.71 L534.15,139.7 L534.41,139.7 L534.67,139.69 L534.93,139.68 L535.19,139.68 L535.45,139.67 L535.71,139.66 L535.97,139.65 L536.23,139.65 L536.49,139.64 L536.75,139.63 L537.01,139.62 L537.27,139.62 L537.53,139.61 L537.8,139.6 L538.06,139.59 L538.32,139.59 L538.58,139.58 L538.84,139.57 L539.1,139.56 L539.36,139.55 L539.62,139.54 L539.88,139.53 L540.14,139.53 L540.4,139.52 L540.66,139.51 L540.92,139.5 L541.18,139.49 L541.44,139.48 L541.71,139.47 L541.97,139.46 L542.23,139.45 L542.49,139.44 L542.75,139.43 L543.01,139.42 L543.27,139.41 L543.53,139.4 L543.79,139.39 L544.05,139.38 L544.31,139.37 L544.57,139.35 L544.83,139.34 L545.09,139.33 L545.35,139.32 L545.62,139.31 L545.88,139.29 L546.14,139.28 L546.4,139.27 L546.66,139.26 L546.92,139.24 L547.18,139.23 L547.44,139.22 L547.7,139.2 L547.96,139.19 L548.22,139.17 L548.48,139.16 L548.74,139.14 L549,139.13 L549.26,139.11 L549.53,139.1 L549.79,139.08 L550.05,139.06 L550.31,139.05 L550.57,139.03 L550.83,139.01 L551.09,139 L551.35,138.98 L551.61,138.96 L551.87,138.94 L552.13,138.92 L552.39,138.9 L552.65,138.88 L552.91,138.86 L553.17,138.84 L553.43,138.82 L553.7,138.79 L553.96,138.77 L554.22,138.75 L554.48,138.72 L554.74,138.7 L555,138.67 L555.26,138.65 L555.52,138.62 L555.78,138.59 L556.04,138.56 L556.3,138.53 L556.56,138.5 L556.82,138.47 L557.08,138.44 L557.34,138.4 L557.61,138.37 L557.87,138.33 L558.13,138.29 L558.39,138.24 L558.65,138.2 L558.91,138.15 L559.17,138.1 L559.43,138.04 L559.69,137.98 L559.95,137.91 L560.21,137.84 L560.47,137.76 L560.73,137.67 L560.99,137.58 L561.25,137.47 L561.52,137.36 L561.78,137.23 L562.04,137.09 L562.3,136.93 L562.56,136.77 L562.82,136.58 L563.08,136.37 L563.34,136.15 L563.6,135.9 L563.86,135.63 L564.12,135.34 L564.38,135.02 L564.64,134.68 L564.9,134.31 L565.16,133.91 L565.43,133.47 L565.69,133.01 L565.95,132.52 L566.21,132 L566.47,131.44 L566.73,130.86 L566.99,130.25 L567.25,129.6 L567.51,128.93 L567.77,128.24 L568.03,127.52 L568.29,126.78 L568.55,126.02 L568.81,125.24 L569.07,124.45 L569.34,123.65 L569.6,122.84 L569.86,122.03 L570.12,121.22 L570.38,120.41 L570.64,119.6 L570.9,118.81 L571.16,118.02 L571.42,117.26 L571.68,116.51 L571.94,115.78 L572.2,115.07 L572.46,114.39 L572.72,113.74 L572.98,113.11 L573.24,112.51 L573.51,111.94 L573.77,111.4 L574.03,110.89 L574.29,110.41 L574.55,109.95 L574.81,109.53 L575.07,109.13 L575.33,108.76 L575.59,108.42 L575.85,108.1 L576.11,107.8 L576.37,107.52 L576.63,107.26 L576.89,107.02 L577.15,106.79 L577.42,106.58 L577.68,106.38 L577.94,106.19 L578.2,106.01 L578.46,105.84 L578.72,105.67 L578.98,105.5 L579.24,105.34 L579.5,105.18 L579.76,105.02 L580.02,104.86 L580.28,104.7 L580.54,104.53 L580.8,104.35 L581.06,104.17 L581.33,103.99 L581.59,103.79 L581.85,103.58 L582.11,103.36 L582.37,103.14 L582.63,102.89 L582.89,102.64 L583.15,102.37 L583.41,102.08 L583.67,101.78 L583.93,101.46 L584.19,101.12 L584.45,100.77 L584.71,100.39 L584.97,100 L585.24,99.58 L585.5,99.14 L585.76,98.68 L586.02,98.2 L586.28,97.7 L586.54,97.18 L586.8,96.63 L587.06,96.06 L587.32,95.47 L587.58,94.86 L587.84,94.22 L588.1,93.57 L588.36,92.9 L588.62,92.2 L588.88,91.49 L589.15,90.76 L589.41,90.02 L589.67,89.26 L589.93,88.49 L590.19,87.71 L590.45,86.92 L590.71,86.12 L590.97,85.31 L591.23,84.5 L591.49,83.69 L591.75,82.87 L592.01,82.06 L592.27,81.25 L592.53,80.44 L592.79,79.64 L593.05,78.85 L593.32,78.07 L593.58,77.3 L593.84,76.54 L594.1,75.8 L594.36,75.07 L594.62,74.36 L594.88,73.67 L595.14,72.99 L595.4,72.33 L595.66,71.69 L595.92,71.07 L596.18,70.47 L596.44,69.89 L596.7,69.32 L596.96,68.78 L597.23,68.25 L597.49,67.75 L597.75,67.26 L598.01,66.78 L598.27,66.32 L598.53,65.88 L598.79,65.45 L599.05,65.03 L599.31,64.62 L599.57,64.22 L599.83,63.83 L600.09,63.44 L600.35,63.07 L600.61,62.69 L600.87,62.32 L601.14,61.94 L601.4,61.57 L601.66,61.2 L601.92,60.82 L602.18,60.43 L602.44,60.04 L602.7,59.64 L602.96,59.23 L603.22,58.82 L603.48,58.39 L603.74,57.95 L604,57.49 L604.26,57.03 L604.52,56.55 L604.78,56.05 L605.05,55.54 L605.31,55.02 L605.57,54.48 L605.83,53.93 L606.09,53.36 L606.35,52.79 L606.61,52.2 L606.87,51.6 L607.13,50.99 L607.39,50.37 L607.65,49.74 L607.91,49.1 L608.17,48.46 L608.43,47.82 L608.69,47.18 L608.96,46.54 L609.22,45.89 L609.48,45.26 L609.74,44.62 L610,44 L610.26,43.38 L610.52,42.77 L610.78,42.18 L611.04,41.59 L611.3,41.02 L611.56,40.47 L611.82,39.93 L612.08,39.41 L612.34,38.91 L612.6,38.42 L612.86,37.96 L613.13,37.51 L613.39,37.08 L613.65,36.67 L613.91,36.29 L614.17,35.92 L614.43,35.57 L614.69,35.24 L614.95,34.93 L615.21,34.64 L615.47,34.36 L615.73,34.11 L615.99,33.87 L616.25,33.64 L616.51,33.43 L616.77,33.24 L617.04,33.05 L617.3,32.89 L617.56,32.73 L617.82,32.58 L618.08,32.45 L618.34,32.33 L618.6,32.21 L618.86,32.11 L619.12,32.01 L619.38,31.92 L619.64,31.83 L619.9,31.76 L620.16,31.69 L620.42,31.62 L620.68,31.56 L620.95,31.5 L621.21,31.45 L621.47,31.4 L621.73,31.35 L621.99,31.31 L622.25,31.26 L622.51,31.23 L622.77,31.19 L623.03,31.15 L623.29,31.12 L623.55,31.09 L623.81,31.06 L624.07,31.03 L624.33,31 L624.59,30.98 L624.86,30.95 L625.12,30.93 L625.38,30.9 L625.64,30.88 L625.9,30.86 L626.16,30.84 L626.42,30.82 L626.68,30.8 L626.94,30.78 L627.2,30.76 L627.46,30.74 L627.72,30.72 L627.98,30.7 L628.24,30.68 L628.5,30.67 L628.77,30.65 L629.03,30.63 L629.29,30.62 L629.55,30.6 L629.81,30.58 L630.07,30.57 L630.33,30.55 L630.59,30.54 L630.85,30.52 L631.11,30.51 L631.37,30.5 L631.63,30.48 L631.89,30.47 L632.15,30.46 L632.41,30.44 L632.67,30.43 L632.94,30.42 L633.2,30.4 L633.46,30.39 L633.72,30.38 L633.98,30.37 L634.24,30.36 L634.5,30.35 L634.76,30.33 L635.02,30.32 L635.28,30.31 L635.54,30.3 L635.8,30.29 L636.06,30.28 L636.32,30.27 L636.58,30.26 L636.85,30.25 L637.11,30.24 L637.37,30.23 L637.63,30.22 L637.89,30.21 L638.15,30.2 L638.41,30.19 L638.67,30.18 L638.93,30.17 L639.19,30.16 L639.45,30.16 L639.71,30.15 L639.97,30.14 L640.23,30.13 L640.49,30.12 L640.76,30.11 L641.02,30.11 L641.28,30.1 L641.54,30.09 L641.8,30.08 L642.06,30.07 L642.32,30.07 L642.58,30.06 L642.84,30.05 L643.1,30.05 L643.36,30.04 L643.62,30.03 L643.88,30.02 L644.14,30.02 L644.4,30.01 L644.67,30 L644.93,30 L645.19,29.99 L645.45,29.98 L645.71,29.98 L645.97,29.97 L646.23,29.96 L646.49,29.96 L646.75,29.95 L647.01,29.95 L647.27,29.94 L647.53,29.93 L647.79,29.93 L648.05,29.92 L648.31,29.92 L648.58,29.91 L648.84,29.9 L649.1,29.9 L649.36,29.89 L649.62,29.89 L649.88,29.88 L650.14,29.88 L650.4,29.87 L650.66,29.87 L650.92,29.86 L651.18,29.86 L651.44,29.85 L651.7,29.84 L651.96,29.84 L652.22,29.83 L652.48,29.83 L652.75,29.82 L653.01,29.82 L653.27,29.82 L653.53,29.81 L653.79,29.81 L654.05,29.8 L654.31,29.8 L654.57,29.79 L654.83,29.79 L655.09,29.78 L655.35,29.78 L655.61,29.77 L655.87,29.77 L656.13,29.77 L656.39,29.76 L656.66,29.76 L656.92,29.75 L657.18,29.75 L657.44,29.74 L657.7,29.74 L657.96,29.74 L658.22,29.73 L658.48,29.73 L658.74,29.72 L659,29.72 L659.26,29.72 L659.52,29.71 L659.78,29.71 L660.04,29.7 L660.3,29.7 L660.57,29.7 L660.83,29.69 L661.09,29.69 L661.35,29.69 L661.61,29.68 L661.87,29.68 L662.13,29.68 L662.39,29.67 L662.65,29.67 L662.91,29.66 L663.17,29.66 L663.43,29.66 L663.69,29.65 L663.95,29.65 L664.21,29.65 L664.48,29.64 L664.74,29.64 L665,29.64 L665.26,29.63 L665.52,29.63 L665.78,29.63 L666.04,29.62 L666.3,29.62 L666.56,29.62 L666.82,29.62 L667.08,29.61 L667.34,29.61 L667.6,29.61 L667.86,29.6 L668.12,29.6 L668.39,29.6 L668.65,29.59 L668.91,29.59 L669.17,29.59 L669.43,29.59 L669.69,29.58 L669.95,29.58 L670.21,29.58 L670.47,29.57 L670.73,29.57 L670.99,29.57 L671.25,29.57 L671.51,29.56 L671.77,29.56 L672.03,29.56 L672.29,29.56 L672.56,29.55 L672.82,29.55 L673.08,29.55 L673.34,29.54 L673.6,29.54 L673.86,29.54 L674.12,29.54 L674.38,29.53 L674.64,29.53 L674.9,29.53 L675.16,29.53 L675.42,29.52 L675.68,29.52 L675.94,29.52 L676.2,29.52 L676.47,29.51 L676.73,29.51 L676.99,29.51 L677.25,29.51 L677.51,29.51 L677.77,29.5 L678.03,29.5 L678.29,29.5 L678.55,29.5 L678.81,29.49 L679.07,29.49 L679.33,29.49 L679.59,29.49 L679.85,29.49 L680.11,29.48 L680.38,29.48 L680.64,29.48 L680.9,29.48 L681.16,29.47 L681.42,29.47 L681.68,29.47 L681.94,29.47 L682.2,29.47" stroke="#111" stroke-width="1.35" stroke-dasharray="2.6,2.3"/>
<path d="M500,140.2 L500.26,140.2 L500.52,140.2 L500.78,140.2 L501.04,140.19 L501.3,140.19 L501.56,140.19 L501.82,140.19 L502.09,140.18 L502.35,140.18 L502.61,140.18 L502.87,140.18 L503.13,140.17 L503.39,140.17 L503.65,140.17 L503.91,140.17 L504.17,140.16 L504.43,140.16 L504.69,140.16 L504.95,140.16 L505.21,140.15 L505.47,140.15 L505.73,140.15 L506,140.14 L506.26,140.14 L506.52,140.14 L506.78,140.14 L507.04,140.13 L507.3,140.13 L507.56,140.13 L507.82,140.13 L508.08,140.12 L508.34,140.12 L508.6,140.12 L508.86,140.11 L509.12,140.11 L509.38,140.11 L509.64,140.11 L509.91,140.1 L510.17,140.1 L510.43,140.1 L510.69,140.09 L510.95,140.09 L511.21,140.09 L511.47,140.08 L511.73,140.08 L511.99,140.08 L512.25,140.08 L512.51,140.07 L512.77,140.07 L513.03,140.07 L513.29,140.06 L513.55,140.06 L513.81,140.06 L514.08,140.05 L514.34,140.05 L514.6,140.05 L514.86,140.04 L515.12,140.04 L515.38,140.04 L515.64,140.03 L515.9,140.03 L516.16,140.03 L516.42,140.02 L516.68,140.02 L516.94,140.02 L517.2,140.01 L517.46,140.01 L517.72,140.01 L517.99,140 L518.25,140 L518.51,140 L518.77,139.99 L519.03,139.99 L519.29,139.99 L519.55,139.98 L519.81,139.98 L520.07,139.98 L520.33,139.97 L520.59,139.97 L520.85,139.97 L521.11,139.96 L521.37,139.96 L521.63,139.96 L521.9,139.95 L522.16,139.95 L522.42,139.94 L522.68,139.94 L522.94,139.94 L523.2,139.93 L523.46,139.93 L523.72,139.93 L523.98,139.92 L524.24,139.92 L524.5,139.91 L524.76,139.91 L525.02,139.91 L525.28,139.9 L525.54,139.9 L525.81,139.89 L526.07,139.89 L526.33,139.89 L526.59,139.88 L526.85,139.88 L527.11,139.87 L527.37,139.87 L527.63,139.87 L527.89,139.86 L528.15,139.86 L528.41,139.85 L528.67,139.85 L528.93,139.85 L529.19,139.84 L529.45,139.84 L529.72,139.83 L529.98,139.83 L530.24,139.82 L530.5,139.82 L530.76,139.82 L531.02,139.81 L531.28,139.81 L531.54,139.8 L531.8,139.8 L532.06,139.79 L532.32,139.79 L532.58,139.78 L532.84,139.78 L533.1,139.77 L533.36,139.77 L533.62,139.76 L533.89,139.76 L534.15,139.75 L534.41,139.75 L534.67,139.75 L534.93,139.74 L535.19,139.74 L535.45,139.73 L535.71,139.73 L535.97,139.72 L536.23,139.71 L536.49,139.71 L536.75,139.7 L537.01,139.7 L537.27,139.69 L537.53,139.69 L537.8,139.68 L538.06,139.68 L538.32,139.67 L538.58,139.67 L538.84,139.66 L539.1,139.65 L539.36,139.65 L539.62,139.64 L539.88,139.64 L540.14,139.63 L540.4,139.62 L540.66,139.62 L540.92,139.61 L541.18,139.6 L541.44,139.6 L541.71,139.59 L541.97,139.58 L542.23,139.58 L542.49,139.57 L542.75,139.56 L543.01,139.55 L543.27,139.55 L543.53,139.54 L543.79,139.53 L544.05,139.52 L544.31,139.51 L544.57,139.5 L544.83,139.5 L545.09,139.49 L545.35,139.48 L545.62,139.47 L545.88,139.46 L546.14,139.45 L546.4,139.44 L546.66,139.43 L546.92,139.42 L547.18,139.41 L547.44,139.4 L547.7,139.38 L547.96,139.37 L548.22,139.36 L548.48,139.35 L548.74,139.33 L549,139.32 L549.26,139.31 L549.53,139.29 L549.79,139.28 L550.05,139.26 L550.31,139.25 L550.57,139.23 L550.83,139.21 L551.09,139.2 L551.35,139.18 L551.61,139.16 L551.87,139.14 L552.13,139.12 L552.39,139.1 L552.65,139.08 L552.91,139.05 L553.17,139.03 L553.43,139.01 L553.7,138.98 L553.96,138.96 L554.22,138.93 L554.48,138.9 L554.74,138.87 L555,138.84 L555.26,138.81 L555.52,138.78 L555.78,138.75 L556.04,138.71 L556.3,138.68 L556.56,138.64 L556.82,138.6 L557.08,138.56 L557.34,138.52 L557.61,138.48 L557.87,138.44 L558.13,138.39 L558.39,138.34 L558.65,138.29 L558.91,138.24 L559.17,138.19 L559.43,138.13 L559.69,138.08 L559.95,138.02 L560.21,137.96 L560.47,137.89 L560.73,137.83 L560.99,137.76 L561.25,137.69 L561.52,137.62 L561.78,137.54 L562.04,137.46 L562.3,137.38 L562.56,137.3 L562.82,137.21 L563.08,137.12 L563.34,137.03 L563.6,136.93 L563.86,136.84 L564.12,136.73 L564.38,136.63 L564.64,136.52 L564.9,136.41 L565.16,136.29 L565.43,136.17 L565.69,136.05 L565.95,135.92 L566.21,135.79 L566.47,135.65 L566.73,135.51 L566.99,135.37 L567.25,135.22 L567.51,135.06 L567.77,134.91 L568.03,134.74 L568.29,134.58 L568.55,134.4 L568.81,134.23 L569.07,134.04 L569.34,133.86 L569.6,133.66 L569.86,133.46 L570.12,133.26 L570.38,133.05 L570.64,132.84 L570.9,132.61 L571.16,132.39 L571.42,132.15 L571.68,131.92 L571.94,131.67 L572.2,131.42 L572.46,131.16 L572.72,130.9 L572.98,130.63 L573.24,130.35 L573.51,130.07 L573.77,129.78 L574.03,129.48 L574.29,129.18 L574.55,128.87 L574.81,128.55 L575.07,128.22 L575.33,127.89 L575.59,127.55 L575.85,127.2 L576.11,126.85 L576.37,126.49 L576.63,126.12 L576.89,125.74 L577.15,125.36 L577.42,124.97 L577.68,124.57 L577.94,124.17 L578.2,123.75 L578.46,123.33 L578.72,122.9 L578.98,122.47 L579.24,122.02 L579.5,121.57 L579.76,121.11 L580.02,120.64 L580.28,120.17 L580.54,119.69 L580.8,119.2 L581.06,118.7 L581.33,118.19 L581.59,117.68 L581.85,117.16 L582.11,116.63 L582.37,116.1 L582.63,115.56 L582.89,115.01 L583.15,114.45 L583.41,113.89 L583.67,113.32 L583.93,112.74 L584.19,112.16 L584.45,111.57 L584.71,110.97 L584.97,110.37 L585.24,109.76 L585.5,109.14 L585.76,108.52 L586.02,107.89 L586.28,107.26 L586.54,106.62 L586.8,105.97 L587.06,105.32 L587.32,104.66 L587.58,104 L587.84,103.33 L588.1,102.66 L588.36,101.99 L588.62,101.31 L588.88,100.62 L589.15,99.93 L589.41,99.24 L589.67,98.54 L589.93,97.84 L590.19,97.14 L590.45,96.43 L590.71,95.73 L590.97,95.01 L591.23,94.3 L591.49,93.58 L591.75,92.86 L592.01,92.14 L592.27,91.42 L592.53,90.69 L592.79,89.97 L593.05,89.24 L593.32,88.51 L593.58,87.78 L593.84,87.06 L594.1,86.33 L594.36,85.6 L594.62,84.87 L594.88,84.14 L595.14,83.41 L595.4,82.69 L595.66,81.96 L595.92,81.24 L596.18,80.52 L596.44,79.79 L596.7,79.08 L596.96,78.36 L597.23,77.65 L597.49,76.93 L597.75,76.22 L598.01,75.52 L598.27,74.82 L598.53,74.12 L598.79,73.42 L599.05,72.73 L599.31,72.04 L599.57,71.36 L599.83,70.68 L600.09,70.01 L600.35,69.34 L600.61,68.67 L600.87,68.01 L601.14,67.35 L601.4,66.71 L601.66,66.06 L601.92,65.42 L602.18,64.79 L602.44,64.16 L602.7,63.54 L602.96,62.93 L603.22,62.32 L603.48,61.72 L603.74,61.12 L604,60.53 L604.26,59.95 L604.52,59.38 L604.78,58.81 L605.05,58.25 L605.31,57.69 L605.57,57.14 L605.83,56.6 L606.09,56.07 L606.35,55.55 L606.61,55.03 L606.87,54.52 L607.13,54.02 L607.39,53.52 L607.65,53.03 L607.91,52.55 L608.17,52.08 L608.43,51.61 L608.69,51.16 L608.96,50.71 L609.22,50.26 L609.48,49.83 L609.74,49.4 L610,48.98 L610.26,48.57 L610.52,48.17 L610.78,47.77 L611.04,47.38 L611.3,47 L611.56,46.63 L611.82,46.26 L612.08,45.9 L612.34,45.55 L612.6,45.2 L612.86,44.87 L613.13,44.54 L613.39,44.21 L613.65,43.9 L613.91,43.59 L614.17,43.29 L614.43,42.99 L614.69,42.7 L614.95,42.42 L615.21,42.14 L615.47,41.88 L615.73,41.61 L615.99,41.36 L616.25,41.11 L616.51,40.86 L616.77,40.63 L617.04,40.4 L617.3,40.17 L617.56,39.95 L617.82,39.74 L618.08,39.53 L618.34,39.33 L618.6,39.13 L618.86,38.94 L619.12,38.75 L619.38,38.57 L619.64,38.39 L619.9,38.22 L620.16,38.06 L620.42,37.9 L620.68,37.74 L620.95,37.59 L621.21,37.44 L621.47,37.3 L621.73,37.16 L621.99,37.02 L622.25,36.89 L622.51,36.76 L622.77,36.64 L623.03,36.52 L623.29,36.41 L623.55,36.3 L623.81,36.19 L624.07,36.08 L624.33,35.98 L624.59,35.88 L624.86,35.79 L625.12,35.7 L625.38,35.61 L625.64,35.52 L625.9,35.44 L626.16,35.36 L626.42,35.28 L626.68,35.21 L626.94,35.14 L627.2,35.07 L627.46,35 L627.72,34.93 L627.98,34.87 L628.24,34.81 L628.5,34.75 L628.77,34.69 L629.03,34.64 L629.29,34.59 L629.55,34.54 L629.81,34.49 L630.07,34.44 L630.33,34.4 L630.59,34.35 L630.85,34.31 L631.11,34.27 L631.37,34.23 L631.63,34.19 L631.89,34.15 L632.15,34.12 L632.41,34.09 L632.67,34.05 L632.94,34.02 L633.2,33.99 L633.46,33.96 L633.72,33.93 L633.98,33.91 L634.24,33.88 L634.5,33.85 L634.76,33.83 L635.02,33.81 L635.28,33.78 L635.54,33.76 L635.8,33.74 L636.06,33.72 L636.32,33.7 L636.58,33.68 L636.85,33.66 L637.11,33.64 L637.37,33.63 L637.63,33.61 L637.89,33.59 L638.15,33.58 L638.41,33.56 L638.67,33.55 L638.93,33.53 L639.19,33.52 L639.45,33.51 L639.71,33.49 L639.97,33.48 L640.23,33.47 L640.49,33.46 L640.76,33.44 L641.02,33.43 L641.28,33.42 L641.54,33.41 L641.8,33.4 L642.06,33.39 L642.32,33.38 L642.58,33.37 L642.84,33.36 L643.1,33.35 L643.36,33.34 L643.62,33.34 L643.88,33.33 L644.14,33.32 L644.4,33.31 L644.67,33.3 L644.93,33.3 L645.19,33.29 L645.45,33.28 L645.71,33.27 L645.97,33.27 L646.23,33.26 L646.49,33.25 L646.75,33.24 L647.01,33.24 L647.27,33.23 L647.53,33.23 L647.79,33.22 L648.05,33.21 L648.31,33.21 L648.58,33.2 L648.84,33.19 L649.1,33.19 L649.36,33.18 L649.62,33.18 L649.88,33.17 L650.14,33.16 L650.4,33.16 L650.66,33.15 L650.92,33.15 L651.18,33.14 L651.44,33.14 L651.7,33.13 L651.96,33.13 L652.22,33.12 L652.48,33.12 L652.75,33.11 L653.01,33.11 L653.27,33.1 L653.53,33.1 L653.79,33.09 L654.05,33.09 L654.31,33.08 L654.57,33.08 L654.83,33.07 L655.09,33.07 L655.35,33.06 L655.61,33.06 L655.87,33.05 L656.13,33.05 L656.39,33.04 L656.66,33.04 L656.92,33.04 L657.18,33.03 L657.44,33.03 L657.7,33.02 L657.96,33.02 L658.22,33.01 L658.48,33.01 L658.74,33.01 L659,33 L659.26,33 L659.52,32.99 L659.78,32.99 L660.04,32.98 L660.3,32.98 L660.57,32.98 L660.83,32.97 L661.09,32.97 L661.35,32.96 L661.61,32.96 L661.87,32.96 L662.13,32.95 L662.39,32.95 L662.65,32.94 L662.91,32.94 L663.17,32.94 L663.43,32.93 L663.69,32.93 L663.95,32.92 L664.21,32.92 L664.48,32.92 L664.74,32.91 L665,32.91 L665.26,32.91 L665.52,32.9 L665.78,32.9 L666.04,32.89 L666.3,32.89 L666.56,32.89 L666.82,32.88 L667.08,32.88 L667.34,32.88 L667.6,32.87 L667.86,32.87 L668.12,32.87 L668.39,32.86 L668.65,32.86 L668.91,32.85 L669.17,32.85 L669.43,32.85 L669.69,32.84 L669.95,32.84 L670.21,32.84 L670.47,32.83 L670.73,32.83 L670.99,32.83 L671.25,32.82 L671.51,32.82 L671.77,32.82 L672.03,32.81 L672.29,32.81 L672.56,32.81 L672.82,32.8 L673.08,32.8 L673.34,32.8 L673.6,32.8 L673.86,32.79 L674.12,32.79 L674.38,32.79 L674.64,32.78 L674.9,32.78 L675.16,32.78 L675.42,32.77 L675.68,32.77 L675.94,32.77 L676.2,32.76 L676.47,32.76 L676.73,32.76 L676.99,32.76 L677.25,32.75 L677.51,32.75 L677.77,32.75 L678.03,32.74 L678.29,32.74 L678.55,32.74 L678.81,32.73 L679.07,32.73 L679.33,32.73 L679.59,32.73 L679.85,32.72 L680.11,32.72 L680.38,32.72 L680.64,32.71 L680.9,32.71 L681.16,32.71 L681.42,32.71 L681.68,32.7 L681.94,32.7 L682.2,32.7" stroke="#3f7fc6" stroke-width="1.3"/>
<path d="M500,140.2 L500.26,140.2 L500.52,140.2 L500.78,140.2 L501.04,140.2 L501.3,140.2 L501.56,140.2 L501.82,140.2 L502.09,140.19 L502.35,140.19 L502.61,140.19 L502.87,140.19 L503.13,140.19 L503.39,140.19 L503.65,140.19 L503.91,140.18 L504.17,140.18 L504.43,140.18 L504.69,140.18 L504.95,140.18 L505.21,140.18 L505.47,140.18 L505.73,140.17 L506,140.17 L506.26,140.17 L506.52,140.17 L506.78,140.17 L507.04,140.17 L507.3,140.17 L507.56,140.16 L507.82,140.16 L508.08,140.16 L508.34,140.16 L508.6,140.16 L508.86,140.16 L509.12,140.16 L509.38,140.15 L509.64,140.15 L509.91,140.15 L510.17,140.15 L510.43,140.15 L510.69,140.15 L510.95,140.14 L511.21,140.14 L511.47,140.14 L511.73,140.14 L511.99,140.14 L512.25,140.14 L512.51,140.13 L512.77,140.13 L513.03,140.13 L513.29,140.13 L513.55,140.13 L513.81,140.13 L514.08,140.12 L514.34,140.12 L514.6,140.12 L514.86,140.12 L515.12,140.12 L515.38,140.12 L515.64,140.11 L515.9,140.11 L516.16,140.11 L516.42,140.11 L516.68,140.11 L516.94,140.1 L517.2,140.1 L517.46,140.1 L517.72,140.1 L517.99,140.1 L518.25,140.09 L518.51,140.09 L518.77,140.09 L519.03,140.09 L519.29,140.09 L519.55,140.08 L519.81,140.08 L520.07,140.08 L520.33,140.08 L520.59,140.08 L520.85,140.07 L521.11,140.07 L521.37,140.07 L521.63,140.07 L521.9,140.07 L522.16,140.06 L522.42,140.06 L522.68,140.06 L522.94,140.06 L523.2,140.06 L523.46,140.05 L523.72,140.05 L523.98,140.05 L524.24,140.05 L524.5,140.04 L524.76,140.04 L525.02,140.04 L525.28,140.04 L525.54,140.04 L525.81,140.03 L526.07,140.03 L526.33,140.03 L526.59,140.03 L526.85,140.02 L527.11,140.02 L527.37,140.02 L527.63,140.02 L527.89,140.01 L528.15,140.01 L528.41,140.01 L528.67,140.01 L528.93,140 L529.19,140 L529.45,140 L529.72,140 L529.98,139.99 L530.24,139.99 L530.5,139.99 L530.76,139.99 L531.02,139.98 L531.28,139.98 L531.54,139.98 L531.8,139.97 L532.06,139.97 L532.32,139.97 L532.58,139.97 L532.84,139.96 L533.1,139.96 L533.36,139.96 L533.62,139.95 L533.89,139.95 L534.15,139.95 L534.41,139.95 L534.67,139.94 L534.93,139.94 L535.19,139.94 L535.45,139.93 L535.71,139.93 L535.97,139.93 L536.23,139.92 L536.49,139.92 L536.75,139.92 L537.01,139.91 L537.27,139.91 L537.53,139.91 L537.8,139.9 L538.06,139.9 L538.32,139.9 L538.58,139.89 L538.84,139.89 L539.1,139.89 L539.36,139.88 L539.62,139.88 L539.88,139.88 L540.14,139.87 L540.4,139.87 L540.66,139.86 L540.92,139.86 L541.18,139.86 L541.44,139.85 L541.71,139.85 L541.97,139.85 L542.23,139.84 L542.49,139.84 L542.75,139.83 L543.01,139.83 L543.27,139.83 L543.53,139.82 L543.79,139.82 L544.05,139.81 L544.31,139.81 L544.57,139.81 L544.83,139.8 L545.09,139.8 L545.35,139.79 L545.62,139.79 L545.88,139.78 L546.14,139.78 L546.4,139.77 L546.66,139.77 L546.92,139.77 L547.18,139.76 L547.44,139.76 L547.7,139.75 L547.96,139.75 L548.22,139.74 L548.48,139.74 L548.74,139.73 L549,139.73 L549.26,139.72 L549.53,139.72 L549.79,139.71 L550.05,139.71 L550.31,139.7 L550.57,139.69 L550.83,139.69 L551.09,139.68 L551.35,139.68 L551.61,139.67 L551.87,139.67 L552.13,139.66 L552.39,139.65 L552.65,139.65 L552.91,139.64 L553.17,139.64 L553.43,139.63 L553.7,139.62 L553.96,139.62 L554.22,139.61 L554.48,139.6 L554.74,139.6 L555,139.59 L555.26,139.58 L555.52,139.57 L555.78,139.57 L556.04,139.56 L556.3,139.55 L556.56,139.54 L556.82,139.53 L557.08,139.53 L557.34,139.52 L557.61,139.51 L557.87,139.5 L558.13,139.49 L558.39,139.48 L558.65,139.47 L558.91,139.46 L559.17,139.45 L559.43,139.44 L559.69,139.42 L559.95,139.41 L560.21,139.4 L560.47,139.39 L560.73,139.37 L560.99,139.36 L561.25,139.34 L561.52,139.33 L561.78,139.31 L562.04,139.29 L562.3,139.27 L562.56,139.26 L562.82,139.24 L563.08,139.22 L563.34,139.19 L563.6,139.17 L563.86,139.15 L564.12,139.12 L564.38,139.1 L564.64,139.07 L564.9,139.04 L565.16,139.01 L565.43,138.98 L565.69,138.94 L565.95,138.91 L566.21,138.87 L566.47,138.83 L566.73,138.79 L566.99,138.74 L567.25,138.69 L567.51,138.64 L567.77,138.59 L568.03,138.54 L568.29,138.48 L568.55,138.42 L568.81,138.35 L569.07,138.29 L569.34,138.21 L569.6,138.14 L569.86,138.06 L570.12,137.98 L570.38,137.89 L570.64,137.8 L570.9,137.7 L571.16,137.6 L571.42,137.49 L571.68,137.38 L571.94,137.26 L572.2,137.13 L572.46,137 L572.72,136.87 L572.98,136.72 L573.24,136.57 L573.51,136.41 L573.77,136.25 L574.03,136.08 L574.29,135.9 L574.55,135.71 L574.81,135.51 L575.07,135.3 L575.33,135.09 L575.59,134.86 L575.85,134.63 L576.11,134.38 L576.37,134.13 L576.63,133.87 L576.89,133.59 L577.15,133.31 L577.42,133.01 L577.68,132.7 L577.94,132.38 L578.2,132.05 L578.46,131.7 L578.72,131.34 L578.98,130.97 L579.24,130.59 L579.5,130.2 L579.76,129.79 L580.02,129.36 L580.28,128.93 L580.54,128.48 L580.8,128.01 L581.06,127.53 L581.33,127.04 L581.59,126.53 L581.85,126.01 L582.11,125.48 L582.37,124.93 L582.63,124.36 L582.89,123.78 L583.15,123.18 L583.41,122.57 L583.67,121.95 L583.93,121.31 L584.19,120.66 L584.45,119.99 L584.71,119.31 L584.97,118.61 L585.24,117.9 L585.5,117.17 L585.76,116.43 L586.02,115.68 L586.28,114.92 L586.54,114.14 L586.8,113.35 L587.06,112.54 L587.32,111.73 L587.58,110.9 L587.84,110.06 L588.1,109.21 L588.36,108.35 L588.62,107.48 L588.88,106.6 L589.15,105.71 L589.41,104.81 L589.67,103.91 L589.93,102.99 L590.19,102.07 L590.45,101.14 L590.71,100.21 L590.97,99.27 L591.23,98.32 L591.49,97.38 L591.75,96.42 L592.01,95.47 L592.27,94.51 L592.53,93.55 L592.79,92.59 L593.05,91.62 L593.32,90.66 L593.58,89.7 L593.84,88.74 L594.1,87.78 L594.36,86.83 L594.62,85.87 L594.88,84.92 L595.14,83.98 L595.4,83.04 L595.66,82.1 L595.92,81.17 L596.18,80.25 L596.44,79.33 L596.7,78.43 L596.96,77.53 L597.23,76.64 L597.49,75.75 L597.75,74.88 L598.01,74.02 L598.27,73.17 L598.53,72.33 L598.79,71.5 L599.05,70.68 L599.31,69.87 L599.57,69.08 L599.83,68.3 L600.09,67.53 L600.35,66.78 L600.61,66.03 L600.87,65.31 L601.14,64.59 L601.4,63.89 L601.66,63.21 L601.92,62.54 L602.18,61.88 L602.44,61.24 L602.7,60.61 L602.96,60 L603.22,59.4 L603.48,58.82 L603.74,58.25 L604,57.69 L604.26,57.15 L604.52,56.63 L604.78,56.12 L605.05,55.62 L605.31,55.14 L605.57,54.68 L605.83,54.22 L606.09,53.78 L606.35,53.36 L606.61,52.95 L606.87,52.55 L607.13,52.16 L607.39,51.79 L607.65,51.43 L607.91,51.08 L608.17,50.75 L608.43,50.43 L608.69,50.12 L608.96,49.82 L609.22,49.53 L609.48,49.25 L609.74,48.98 L610,48.73 L610.26,48.48 L610.52,48.25 L610.78,48.02 L611.04,47.8 L611.3,47.6 L611.56,47.4 L611.82,47.21 L612.08,47.02 L612.34,46.85 L612.6,46.68 L612.86,46.52 L613.13,46.37 L613.39,46.23 L613.65,46.09 L613.91,45.96 L614.17,45.83 L614.43,45.71 L614.69,45.6 L614.95,45.49 L615.21,45.39 L615.47,45.29 L615.73,45.19 L615.99,45.11 L616.25,45.02 L616.51,44.94 L616.77,44.87 L617.04,44.79 L617.3,44.72 L617.56,44.66 L617.82,44.6 L618.08,44.54 L618.34,44.48 L618.6,44.43 L618.86,44.38 L619.12,44.33 L619.38,44.29 L619.64,44.25 L619.9,44.21 L620.16,44.17 L620.42,44.13 L620.68,44.1 L620.95,44.06 L621.21,44.03 L621.47,44 L621.73,43.97 L621.99,43.95 L622.25,43.92 L622.51,43.9 L622.77,43.88 L623.03,43.85 L623.29,43.83 L623.55,43.81 L623.81,43.79 L624.07,43.78 L624.33,43.76 L624.59,43.74 L624.86,43.73 L625.12,43.71 L625.38,43.7 L625.64,43.68 L625.9,43.67 L626.16,43.66 L626.42,43.64 L626.68,43.63 L626.94,43.62 L627.2,43.61 L627.46,43.6 L627.72,43.59 L627.98,43.58 L628.24,43.57 L628.5,43.56 L628.77,43.55 L629.03,43.54 L629.29,43.53 L629.55,43.52 L629.81,43.52 L630.07,43.51 L630.33,43.5 L630.59,43.49 L630.85,43.48 L631.11,43.48 L631.37,43.47 L631.63,43.46 L631.89,43.46 L632.15,43.45 L632.41,43.44 L632.67,43.44 L632.94,43.43 L633.2,43.42 L633.46,43.42 L633.72,43.41 L633.98,43.41 L634.24,43.4 L634.5,43.39 L634.76,43.39 L635.02,43.38 L635.28,43.38 L635.54,43.37 L635.8,43.37 L636.06,43.36 L636.32,43.36 L636.58,43.35 L636.85,43.35 L637.11,43.34 L637.37,43.33 L637.63,43.33 L637.89,43.32 L638.15,43.32 L638.41,43.32 L638.67,43.31 L638.93,43.31 L639.19,43.3 L639.45,43.3 L639.71,43.29 L639.97,43.29 L640.23,43.28 L640.49,43.28 L640.76,43.27 L641.02,43.27 L641.28,43.27 L641.54,43.26 L641.8,43.26 L642.06,43.25 L642.32,43.25 L642.58,43.24 L642.84,43.24 L643.1,43.24 L643.36,43.23 L643.62,43.23 L643.88,43.22 L644.14,43.22 L644.4,43.22 L644.67,43.21 L644.93,43.21 L645.19,43.21 L645.45,43.2 L645.71,43.2 L645.97,43.19 L646.23,43.19 L646.49,43.19 L646.75,43.18 L647.01,43.18 L647.27,43.18 L647.53,43.17 L647.79,43.17 L648.05,43.17 L648.31,43.16 L648.58,43.16 L648.84,43.16 L649.1,43.15 L649.36,43.15 L649.62,43.15 L649.88,43.14 L650.14,43.14 L650.4,43.14 L650.66,43.13 L650.92,43.13 L651.18,43.13 L651.44,43.12 L651.7,43.12 L651.96,43.12 L652.22,43.11 L652.48,43.11 L652.75,43.11 L653.01,43.11 L653.27,43.1 L653.53,43.1 L653.79,43.1 L654.05,43.09 L654.31,43.09 L654.57,43.09 L654.83,43.09 L655.09,43.08 L655.35,43.08 L655.61,43.08 L655.87,43.08 L656.13,43.07 L656.39,43.07 L656.66,43.07 L656.92,43.06 L657.18,43.06 L657.44,43.06 L657.7,43.06 L657.96,43.05 L658.22,43.05 L658.48,43.05 L658.74,43.05 L659,43.04 L659.26,43.04 L659.52,43.04 L659.78,43.04 L660.04,43.04 L660.3,43.03 L660.57,43.03 L660.83,43.03 L661.09,43.03 L661.35,43.02 L661.61,43.02 L661.87,43.02 L662.13,43.02 L662.39,43.01 L662.65,43.01 L662.91,43.01 L663.17,43.01 L663.43,43.01 L663.69,43 L663.95,43 L664.21,43 L664.48,43 L664.74,43 L665,42.99 L665.26,42.99 L665.52,42.99 L665.78,42.99 L666.04,42.98 L666.3,42.98 L666.56,42.98 L666.82,42.98 L667.08,42.98 L667.34,42.98 L667.6,42.97 L667.86,42.97 L668.12,42.97 L668.39,42.97 L668.65,42.97 L668.91,42.96 L669.17,42.96 L669.43,42.96 L669.69,42.96 L669.95,42.96 L670.21,42.95 L670.47,42.95 L670.73,42.95 L670.99,42.95 L671.25,42.95 L671.51,42.95 L671.77,42.94 L672.03,42.94 L672.29,42.94 L672.56,42.94 L672.82,42.94 L673.08,42.93 L673.34,42.93 L673.6,42.93 L673.86,42.93 L674.12,42.93 L674.38,42.93 L674.64,42.93 L674.9,42.92 L675.16,42.92 L675.42,42.92 L675.68,42.92 L675.94,42.92 L676.2,42.92 L676.47,42.91 L676.73,42.91 L676.99,42.91 L677.25,42.91 L677.51,42.91 L677.77,42.91 L678.03,42.9 L678.29,42.9 L678.55,42.9 L678.81,42.9 L679.07,42.9 L679.33,42.9 L679.59,42.9 L679.85,42.89 L680.11,42.89 L680.38,42.89 L680.64,42.89 L680.9,42.89 L681.16,42.89 L681.42,42.89 L681.68,42.88 L681.94,42.88 L682.2,42.88" stroke="#d62f2f" stroke-width="1.45"/>
</g>
<line x1="499.43" y1="6.05" x2="682.78" y2="6.05" stroke="#111" stroke-width="1.15"/>
<line x1="499.43" y1="152.4" x2="682.78" y2="152.4" stroke="#111" stroke-width="1.15"/>
<line x1="500" y1="6.05" x2="500" y2="152.4" stroke="#111" stroke-width="1.15"/>
<line x1="682.2" y1="6.05" x2="682.2" y2="152.4" stroke="#111" stroke-width="1.15"/>
<line x1="512.15" y1="152.4" x2="512.15" y2="149.6" stroke="#111" stroke-width="1.15"/>
<line x1="512.15" y1="6.05" x2="512.15" y2="8.85" stroke="#111" stroke-width="1.15"/>
<line x1="560.73" y1="152.4" x2="560.73" y2="149.6" stroke="#111" stroke-width="1.15"/>
<line x1="560.73" y1="6.05" x2="560.73" y2="8.85" stroke="#111" stroke-width="1.15"/>
<line x1="609.32" y1="152.4" x2="609.32" y2="149.6" stroke="#111" stroke-width="1.15"/>
<line x1="609.32" y1="6.05" x2="609.32" y2="8.85" stroke="#111" stroke-width="1.15"/>
<line x1="657.91" y1="152.4" x2="657.91" y2="149.6" stroke="#111" stroke-width="1.15"/>
<line x1="657.91" y1="6.05" x2="657.91" y2="8.85" stroke="#111" stroke-width="1.15"/>
<line x1="500" y1="18.25" x2="502.6" y2="18.25" stroke="#111" stroke-width="1.15"/>
<line x1="682.2" y1="18.25" x2="679.6" y2="18.25" stroke="#111" stroke-width="1.15"/>
<line x1="500" y1="48.74" x2="502.6" y2="48.74" stroke="#111" stroke-width="1.15"/>
<line x1="682.2" y1="48.74" x2="679.6" y2="48.74" stroke="#111" stroke-width="1.15"/>
<line x1="500" y1="79.23" x2="502.6" y2="79.23" stroke="#111" stroke-width="1.15"/>
<line x1="682.2" y1="79.23" x2="679.6" y2="79.23" stroke="#111" stroke-width="1.15"/>
<line x1="500" y1="109.71" x2="502.6" y2="109.71" stroke="#111" stroke-width="1.15"/>
<line x1="682.2" y1="109.71" x2="679.6" y2="109.71" stroke="#111" stroke-width="1.15"/>
<line x1="500" y1="140.2" x2="502.6" y2="140.2" stroke="#111" stroke-width="1.15"/>
<line x1="682.2" y1="140.2" x2="679.6" y2="140.2" stroke="#111" stroke-width="1.15"/>
<text x="501.78" y="162.8" font-size="9.4" font-weight="bold" fill="#111" stroke="#111" stroke-width="0.24">3440</text>
<text x="550.36" y="162.8" font-size="9.4" font-weight="bold" fill="#111" stroke="#111" stroke-width="0.24">3480</text>
<text x="598.95" y="162.8" font-size="9.4" font-weight="bold" fill="#111" stroke="#111" stroke-width="0.24">3520</text>
<text x="647.54" y="162.8" font-size="9.4" font-weight="bold" fill="#111" stroke="#111" stroke-width="0.24">3560</text>
<text x="483.82" y="21.61" font-size="9.4" font-weight="bold" fill="#111" stroke="#111" stroke-width="0.24">2.0</text>
<text x="483.69" y="52.1" font-size="9.4" font-weight="bold" fill="#111" stroke="#111" stroke-width="0.24">1.5</text>
<text x="483.82" y="82.59" font-size="9.4" font-weight="bold" fill="#111" stroke="#111" stroke-width="0.24">1.0</text>
<text x="483.69" y="113.08" font-size="9.4" font-weight="bold" fill="#111" stroke="#111" stroke-width="0.24">0.5</text>
<text x="483.82" y="143.57" font-size="9.4" font-weight="bold" fill="#111" stroke="#111" stroke-width="0.24">0.0</text>
<text x="537.07" y="180.8" font-size="12.35" font-weight="bold" fill="#111" stroke="#111" stroke-width="0.31">Magnetic Field (G)</text>
<text transform="translate(479.6,136.73) rotate(-90)" font-size="12.35" font-weight="bold" fill="#111" stroke="#111" stroke-width="0.31">Intensity (arb.units)</text>
<text x="470.65" y="10.6" font-size="14" font-weight="bold" fill="#111" stroke="#111" stroke-width="0.35">c</text>
<line x1="508.8" y1="21.4" x2="526.3" y2="21.4" stroke="#111" stroke-width="1.35" stroke-dasharray="2.6,2.3"/>
<line x1="508.8" y1="32.5" x2="526.3" y2="32.5" stroke="#3f7fc6" stroke-width="1.3"/>
<line x1="508.8" y1="43.5" x2="526.3" y2="43.5" stroke="#d62f2f" stroke-width="1.3"/>
<text x="529.1" y="23.8" font-size="9.05" font-weight="bold" fill="#111" stroke="#111" stroke-width="0.23">TEMPO-OH</text>
<text x="528.79" y="35" font-size="9.1" font-weight="bold" fill="#111" stroke="#111" stroke-width="0.23">Ethynyl-Verdazyl</text>
<text x="528.79" y="46.2" font-size="9.1" font-weight="bold" fill="#111" stroke="#111" stroke-width="0.23">PVEO</text>
<clipPath id="cd"><rect x="32.7" y="202.0" width="180.9" height="145.55"/></clipPath>
<g clip-path="url(#cd)" fill="none" stroke-linejoin="round" stroke-linecap="round">
<path d="M47.95,280.53 L48,281.71 L48.05,282.84 L48.1,283.92 L48.15,284.96 L48.21,285.96 L48.26,286.92 L48.31,287.85 L48.36,288.74 L48.41,289.59 L48.46,290.42 L48.52,291.22 L48.57,291.99 L48.62,292.73 L48.67,293.45 L48.72,294.15 L48.77,294.82 L48.83,295.47 L48.88,296.1 L48.93,296.71 L48.98,297.31 L49.03,297.88 L49.08,298.44 L49.14,298.98 L49.19,299.51 L49.24,300.02 L49.29,300.52 L49.34,301 L49.39,301.47 L49.45,301.93 L49.5,302.37 L49.55,302.81 L49.6,303.23 L49.65,303.64 L49.7,304.05 L49.76,304.44 L49.81,304.82 L49.86,305.19 L49.91,305.56 L49.96,305.91 L50.01,306.26 L50.07,306.6 L50.12,306.93 L50.17,307.26 L50.22,307.57 L50.27,307.88 L50.32,308.19 L50.38,308.48 L50.43,308.77 L50.48,309.06 L50.53,309.34 L50.58,309.61 L50.63,309.88 L50.69,310.14 L50.74,310.4 L50.79,310.65 L50.84,310.89 L50.89,311.13 L50.95,311.37 L51,311.6 L51.05,311.83 L51.1,312.06 L51.15,312.28 L51.2,312.49 L51.26,312.7 L51.31,312.91 L51.36,313.11 L51.41,313.31 L51.46,313.51 L51.51,313.71 L51.57,313.9 L51.62,314.08 L51.67,314.27 L51.72,314.45 L51.77,314.62 L51.82,314.8 L51.98,315.31 L52.13,315.79 L52.29,316.25 L52.44,316.69 L52.6,317.11 L52.75,317.51 L52.91,317.9 L53.06,318.27 L53.22,318.62 L53.37,318.96 L53.53,319.29 L53.68,319.6 L53.84,319.91 L53.99,320.2 L54.15,320.48 L54.3,320.75 L54.46,321.01 L54.61,321.26 L54.77,321.51 L54.92,321.74 L55.08,321.97 L55.23,322.19 L55.39,322.41 L55.55,322.61 L55.7,322.82 L55.86,323.01 L56.01,323.2 L56.17,323.38 L56.32,323.56 L56.48,323.73 L56.63,323.9 L56.79,324.07 L56.94,324.23 L57.1,324.38 L57.25,324.53 L57.41,324.68 L57.56,324.82 L57.72,324.96 L57.87,325.1 L58.03,325.23 L58.18,325.36 L58.34,325.48 L58.49,325.61 L58.65,325.73 L58.8,325.84 L58.96,325.96 L59.11,326.07 L59.27,326.18 L59.42,326.29 L59.58,326.39 L59.73,326.49 L59.89,326.59 L60.04,326.69 L60.2,326.79 L60.35,326.88 L60.51,326.97 L60.66,327.06 L60.82,327.15 L60.97,327.24 L61.13,327.32 L61.28,327.41 L61.44,327.49 L61.59,327.57 L61.75,327.64 L61.9,327.72 L62.06,327.8 L62.21,327.87 L62.37,327.94 L62.52,328.01 L62.68,328.08 L62.83,328.15 L62.99,328.22 L63.14,328.29 L63.3,328.35 L63.45,328.42 L63.61,328.48 L63.76,328.54 L63.92,328.6 L64.07,328.66 L64.23,328.72 L64.38,328.78 L64.54,328.83 L64.69,328.89 L64.85,328.95 L65,329 L65.16,329.05 L65.31,329.11 L65.47,329.16 L65.62,329.21 L65.78,329.26 L65.93,329.31 L66.09,329.36 L66.24,329.4 L66.3,329.42 L67.07,329.65 L67.85,329.86 L68.62,330.06 L69.4,330.24 L70.17,330.41 L70.95,330.58 L71.72,330.73 L72.5,330.87 L73.27,331.01 L74.05,331.14 L74.82,331.26 L75.6,331.37 L76.37,331.48 L77.15,331.59 L77.92,331.69 L78.7,331.78 L79.48,331.87 L80.25,331.96 L81.03,332.04 L81.8,332.12 L82.58,332.2 L83.35,332.27 L84.13,332.34 L84.9,332.4 L85.68,332.47 L86.45,332.53 L87.23,332.59 L88,332.65 L88.78,332.7 L89.55,332.76 L90.33,332.81 L91.1,332.86 L91.88,332.9 L92.66,332.95 L93.43,333 L94.21,333.04 L94.98,333.08 L95.76,333.12 L96.53,333.16 L97.31,333.2 L98.08,333.24 L98.86,333.27 L99.63,333.31 L100.41,333.34 L101.18,333.38 L101.96,333.41 L102.73,333.44 L103.51,333.47 L104.28,333.5 L105.06,333.53 L105.84,333.56 L106.61,333.59 L107.39,333.61 L108.16,333.64 L108.94,333.66 L109.71,333.69 L110.49,333.71 L111.26,333.74 L112.04,333.76 L112.81,333.78 L113.59,333.81 L114.36,333.83 L115.14,333.85 L115.91,333.87 L116.69,333.89 L117.46,333.91 L118.24,333.93 L119.02,333.95 L119.79,333.97 L120.57,333.98 L121.34,334 L122.12,334.02 L122.89,334.04 L123.67,334.05 L124.44,334.07 L125.22,334.09 L125.99,334.1 L126.77,334.12 L127.54,334.13 L128.32,334.15 L129.09,334.16 L129.87,334.18 L130.64,334.19 L131.42,334.2 L132.19,334.22 L132.97,334.23 L133.75,334.24 L134.52,334.26 L135.3,334.27 L136.07,334.28 L136.85,334.3 L137.62,334.31 L138.4,334.32 L139.17,334.33 L139.95,334.34 L140.72,334.35 L141.5,334.36 L142.27,334.38 L143.05,334.39 L143.82,334.4 L144.6,334.41 L145.37,334.42 L146.15,334.43 L146.93,334.44 L147.7,334.45 L148.48,334.46 L149.25,334.47 L150.03,334.48 L150.8,334.49 L151.58,334.49 L152.35,334.5 L153.13,334.51 L153.9,334.52 L154.68,334.53 L155.45,334.54 L156.23,334.55 L157,334.55 L157.78,334.56 L158.55,334.57 L159.33,334.58 L160.11,334.59 L160.88,334.59 L161.66,334.6 L162.43,334.61 L163.21,334.62 L163.98,334.62 L164.76,334.63 L165.53,334.64 L166.31,334.64 L167.08,334.65 L167.86,334.66 L168.63,334.66 L169.41,334.67 L170.18,334.68 L170.96,334.68 L171.73,334.69 L172.51,334.7 L173.29,334.7 L174.06,334.71 L174.84,334.72 L175.61,334.72 L176.39,334.73 L177.16,334.73 L177.94,334.74 L178.71,334.75 L179.49,334.75 L180.26,334.76 L181.04,334.76 L181.81,334.77 L182.59,334.77 L183.36,334.78 L184.14,334.78 L184.91,334.79 L185.69,334.79 L186.46,334.8 L187.24,334.8 L188.02,334.81 L188.79,334.81 L189.57,334.82 L190.34,334.82 L191.12,334.83 L191.89,334.83 L192.67,334.84 L193.44,334.84 L194.22,334.85 L194.99,334.85 L195.77,334.86 L196.54,334.86 L197.32,334.87 L198.09,334.87 L198.87,334.87 L199.64,334.88 L200.42,334.88" stroke="#3877c0" stroke-width="3.7"/>
<path d="M47.95,280.53 L48,281.71 L48.05,282.84 L48.1,283.92 L48.15,284.96 L48.21,285.96 L48.26,286.92 L48.31,287.85 L48.36,288.74 L48.41,289.59 L48.46,290.42 L48.52,291.22 L48.57,291.99 L48.62,292.73 L48.67,293.45 L48.72,294.15 L48.77,294.82 L48.83,295.47 L48.88,296.1 L48.93,296.71 L48.98,297.31 L49.03,297.88 L49.08,298.44 L49.14,298.98 L49.19,299.51 L49.24,300.02 L49.29,300.52 L49.34,301 L49.39,301.47 L49.45,301.93 L49.5,302.37 L49.55,302.81 L49.6,303.23 L49.65,303.64 L49.7,304.05 L49.76,304.44 L49.81,304.82 L49.86,305.19 L49.91,305.56 L49.96,305.91 L50.01,306.26 L50.07,306.6 L50.12,306.93 L50.17,307.26 L50.22,307.57 L50.27,307.88 L50.32,308.19 L50.38,308.48 L50.43,308.77 L50.48,309.06 L50.53,309.34 L50.58,309.61 L50.63,309.88 L50.69,310.14 L50.74,310.4 L50.79,310.65 L50.84,310.89 L50.89,311.13 L50.95,311.37 L51,311.6 L51.05,311.83 L51.1,312.06 L51.15,312.28 L51.2,312.49 L51.26,312.7 L51.31,312.91 L51.36,313.11 L51.41,313.31 L51.46,313.51 L51.51,313.71 L51.57,313.9 L51.62,314.08 L51.67,314.27 L51.72,314.45 L51.77,314.62 L51.82,314.8 L51.98,315.31 L52.13,315.79 L52.29,316.25 L52.44,316.69 L52.6,317.11 L52.75,317.51 L52.91,317.9 L53.06,318.27 L53.22,318.62 L53.37,318.96 L53.53,319.29 L53.68,319.6 L53.84,319.91 L53.99,320.2 L54.15,320.48 L54.3,320.75 L54.46,321.01 L54.61,321.26 L54.77,321.51 L54.92,321.74 L55.08,321.97 L55.23,322.19 L55.39,322.41 L55.55,322.61 L55.7,322.82 L55.86,323.01 L56.01,323.2 L56.17,323.38 L56.32,323.56 L56.48,323.73 L56.63,323.9 L56.79,324.07 L56.94,324.23 L57.1,324.38 L57.25,324.53 L57.41,324.68 L57.56,324.82 L57.72,324.96 L57.87,325.1 L58.03,325.23 L58.18,325.36 L58.34,325.48 L58.49,325.61 L58.65,325.73 L58.8,325.84 L58.96,325.96 L59.11,326.07 L59.27,326.18 L59.42,326.29 L59.58,326.39 L59.73,326.49 L59.89,326.59 L60.04,326.69 L60.2,326.79 L60.35,326.88 L60.51,326.97 L60.66,327.06 L60.82,327.15 L60.97,327.24 L61.13,327.32 L61.28,327.41 L61.44,327.49 L61.59,327.57 L61.75,327.64 L61.9,327.72 L62.06,327.8 L62.21,327.87 L62.37,327.94 L62.52,328.01 L62.68,328.08 L62.83,328.15 L62.99,328.22 L63.14,328.29 L63.3,328.35 L63.45,328.42 L63.61,328.48 L63.76,328.54 L63.92,328.6 L64.07,328.66 L64.23,328.72 L64.38,328.78 L64.54,328.83 L64.69,328.89 L64.85,328.95 L65,329 L65.16,329.05 L65.31,329.11 L65.47,329.16 L65.62,329.21 L65.78,329.26 L65.93,329.31 L66.09,329.36 L66.24,329.4 L66.3,329.42 L67.07,329.65 L67.85,329.86 L68.62,330.06 L69.4,330.24 L70.17,330.41 L70.95,330.58 L71.72,330.73 L72.5,330.87 L73.27,331.01 L74.05,331.14 L74.82,331.26 L75.6,331.37 L76.37,331.48 L77.15,331.59 L77.92,331.69 L78.7,331.78 L79.48,331.87 L80.25,331.96 L81.03,332.04 L81.8,332.12 L82.58,332.2 L83.35,332.27 L84.13,332.34 L84.9,332.4 L85.68,332.47 L86.45,332.53 L87.23,332.59 L88,332.65 L88.78,332.7 L89.55,332.76 L90.33,332.81 L91.1,332.86 L91.88,332.9 L92.66,332.95 L93.43,333 L94.21,333.04 L94.98,333.08 L95.76,333.12 L96.53,333.16 L97.31,333.2 L98.08,333.24 L98.86,333.27 L99.63,333.31 L100.41,333.34 L101.18,333.38 L101.96,333.41 L102.73,333.44 L103.51,333.47 L104.28,333.5 L105.06,333.53 L105.84,333.56 L106.61,333.59 L107.39,333.61 L108.16,333.64 L108.94,333.66 L109.71,333.69 L110.49,333.71 L111.26,333.74 L112.04,333.76 L112.81,333.78 L113.59,333.81 L114.36,333.83 L115.14,333.85 L115.91,333.87 L116.69,333.89 L117.46,333.91 L118.24,333.93 L119.02,333.95 L119.79,333.97 L120.57,333.98 L121.34,334 L122.12,334.02 L122.89,334.04 L123.67,334.05 L124.44,334.07 L125.22,334.09 L125.99,334.1 L126.77,334.12 L127.54,334.13 L128.32,334.15 L129.09,334.16 L129.87,334.18 L130.64,334.19 L131.42,334.2 L132.19,334.22 L132.97,334.23 L133.75,334.24 L134.52,334.26 L135.3,334.27 L136.07,334.28 L136.85,334.3 L137.62,334.31 L138.4,334.32 L139.17,334.33 L139.95,334.34 L140.72,334.35 L141.5,334.36 L142.27,334.38 L143.05,334.39 L143.82,334.4 L144.6,334.41 L145.37,334.42 L146.15,334.43 L146.93,334.44 L147.7,334.45 L148.48,334.46 L149.25,334.47 L150.03,334.48 L150.8,334.49 L151.58,334.49 L152.35,334.5 L153.13,334.51 L153.9,334.52 L154.68,334.53 L155.45,334.54 L156.23,334.55 L157,334.55 L157.78,334.56 L158.55,334.57 L159.33,334.58 L160.11,334.59 L160.88,334.59 L161.66,334.6 L162.43,334.61 L163.21,334.62 L163.98,334.62 L164.76,334.63 L165.53,334.64 L166.31,334.64 L167.08,334.65 L167.86,334.66 L168.63,334.66 L169.41,334.67 L170.18,334.68 L170.96,334.68 L171.73,334.69 L172.51,334.7 L173.29,334.7 L174.06,334.71 L174.84,334.72 L175.61,334.72 L176.39,334.73 L177.16,334.73 L177.94,334.74 L178.71,334.75 L179.49,334.75 L180.26,334.76 L181.04,334.76 L181.81,334.77 L182.59,334.77 L183.36,334.78 L184.14,334.78 L184.91,334.79 L185.69,334.79 L186.46,334.8 L187.24,334.8 L188.02,334.81 L188.79,334.81 L189.57,334.82 L190.34,334.82 L191.12,334.83 L191.89,334.83 L192.67,334.84 L193.44,334.84 L194.22,334.85 L194.99,334.85 L195.77,334.86 L196.54,334.86 L197.32,334.87 L198.09,334.87 L198.87,334.87 L199.64,334.88 L200.42,334.88" stroke="#2a5a96" stroke-width="1.9"/>
<path d="M46.66,214.18 L46.71,219.76 L46.76,224.85 L46.81,229.5 L46.86,233.79 L46.91,237.74 L46.97,241.4 L47.02,244.79 L47.07,247.95 L47.12,250.89 L47.17,253.65 L47.22,256.23 L47.28,258.65 L47.33,260.93 L47.38,263.08 L47.43,265.11 L47.48,267.03 L47.53,268.85 L47.59,270.57 L47.64,272.21 L47.69,273.76 L47.74,275.25 L47.79,276.66 L47.84,278.01 L47.9,279.3 L47.95,280.53 L48,281.71 L48.05,282.84 L48.1,283.92 L48.15,284.96 L48.21,285.96 L48.26,286.92 L48.31,287.85 L48.36,288.74 L48.41,289.59 L48.46,290.42 L48.52,291.22 L48.57,291.99 L48.62,292.73 L48.67,293.45 L48.72,294.15 L48.77,294.82 L48.83,295.47 L48.88,296.1 L48.93,296.71 L48.98,297.31 L49.03,297.88 L49.08,298.44 L49.14,298.98 L49.19,299.51 L49.24,300.02 L49.29,300.52 L49.34,301 L49.39,301.47 L49.45,301.93 L49.5,302.37 L49.55,302.81 L49.6,303.23 L49.65,303.64 L49.7,304.05 L49.76,304.44 L49.81,304.82 L49.86,305.19 L49.91,305.56 L49.96,305.91 L50.01,306.26 L50.07,306.6 L50.12,306.93 L50.17,307.26 L50.22,307.57 L50.27,307.88 L50.32,308.19 L50.38,308.48 L50.43,308.77 L50.48,309.06 L50.53,309.34 L50.58,309.61 L50.63,309.88 L50.69,310.14 L50.74,310.4 L50.79,310.65 L50.84,310.89 L50.89,311.13 L50.95,311.37 L51,311.6 L51.05,311.83 L51.1,312.06 L51.15,312.28 L51.2,312.49 L51.26,312.7 L51.31,312.91 L51.36,313.11 L51.41,313.31 L51.46,313.51 L51.51,313.71 L51.57,313.9 L51.62,314.08 L51.67,314.27 L51.72,314.45 L51.77,314.62 L51.82,314.8 L52.08,315.63 L52.34,316.4 L52.6,317.11 L52.86,317.77 L53.12,318.39 L53.37,318.96 L53.63,319.5 L53.89,320 L54.15,320.48 L54.41,320.93 L54.67,321.35 L54.92,321.74 L55.18,322.12 L55.44,322.48 L55.7,322.82 L55.96,323.14 L56.22,323.44 L56.48,323.73 L56.73,324.01 L56.99,324.28 L57.25,324.53 L57.51,324.77 L57.77,325.01 L58.03,325.23 L58.28,325.44 L58.54,325.65 L58.8,325.84 L59.06,326.03 L59.32,326.22 L59.58,326.39 L59.83,326.56 L60.09,326.72 L60.35,326.88 L60.61,327.03 L60.87,327.18 L61.13,327.32 L61.39,327.46 L61.64,327.59 L61.9,327.72 L62.16,327.85 L62.42,327.97 L62.68,328.08 L62.94,328.2 L63.19,328.31 L63.45,328.42 L63.71,328.52 L63.97,328.62 L64.23,328.72 L64.49,328.82 L64.75,328.91 L65,329 L65.26,329.09 L65.52,329.17 L65.78,329.26 L66.04,329.34 L66.3,329.42 L67.85,329.86 L69.4,330.24 L70.95,330.58 L72.5,330.87 L74.05,331.14 L75.6,331.37 L77.15,331.59 L78.7,331.78 L80.25,331.96 L81.8,332.12 L83.35,332.27 L84.9,332.4 L86.45,332.53 L88,332.65 L89.55,332.76 L91.1,332.86 L92.66,332.95 L94.21,333.04 L95.76,333.12 L97.31,333.2 L98.86,333.27 L100.41,333.34 L101.96,333.41 L103.51,333.47 L105.06,333.53 L106.61,333.59 L108.16,333.64 L109.71,333.69 L111.26,333.74 L112.81,333.78 L114.36,333.83 L115.91,333.87 L117.46,333.91 L119.02,333.95 L120.57,333.98 L122.12,334.02 L123.67,334.05 L125.22,334.09 L126.77,334.12 L128.32,334.15 L129.87,334.18 L131.42,334.2 L132.97,334.23 L134.52,334.26 L136.07,334.28 L137.62,334.31 L139.17,334.33 L140.72,334.35 L142.27,334.38 L143.82,334.4 L145.37,334.42 L146.93,334.44 L148.48,334.46 L150.03,334.48 L151.58,334.49 L153.13,334.51 L154.68,334.53 L156.23,334.55 L157.78,334.56 L159.33,334.58 L160.88,334.59 L162.43,334.61 L163.98,334.62 L165.53,334.64 L167.08,334.65 L168.63,334.66 L170.18,334.68 L171.73,334.69 L173.29,334.7 L174.84,334.72 L176.39,334.73 L177.94,334.74 L179.49,334.75 L181.04,334.76 L182.59,334.77 L184.14,334.78 L185.69,334.79 L187.24,334.8 L188.79,334.81 L190.34,334.82 L191.89,334.83 L193.44,334.84 L194.99,334.85 L196.54,334.86 L198.09,334.87 L199.64,334.88" stroke="#0a0f1a" stroke-width="1.05"/>
</g>
<circle cx="48.42" cy="289.76" r="1.55" fill="#3a78c0" stroke="#23497a" stroke-width="0.55"/>
<circle cx="48.33" cy="288.21" r="1.55" fill="#3a78c0" stroke="#23497a" stroke-width="0.55"/>
<circle cx="48.24" cy="286.54" r="1.55" fill="#3a78c0" stroke="#23497a" stroke-width="0.55"/>
<circle cx="48.14" cy="284.76" r="1.55" fill="#3a78c0" stroke="#23497a" stroke-width="0.55"/>
<circle cx="48.05" cy="282.84" r="1.55" fill="#3a78c0" stroke="#23497a" stroke-width="0.55"/>
<circle cx="47.96" cy="280.77" r="1.55" fill="#3a78c0" stroke="#23497a" stroke-width="0.55"/>
<circle cx="47.86" cy="278.53" r="1.55" fill="#3a78c0" stroke="#23497a" stroke-width="0.55"/>
<circle cx="47.77" cy="276.1" r="1.55" fill="#3a78c0" stroke="#23497a" stroke-width="0.55"/>
<circle cx="47.68" cy="273.46" r="1.55" fill="#3a78c0" stroke="#23497a" stroke-width="0.55"/>
<circle cx="47.59" cy="270.57" r="1.55" fill="#3a78c0" stroke="#23497a" stroke-width="0.55"/>
<circle cx="47.49" cy="267.4" r="1.55" fill="#3a78c0" stroke="#23497a" stroke-width="0.55"/>
<circle cx="47.4" cy="263.91" r="1.55" fill="#3a78c0" stroke="#23497a" stroke-width="0.55"/>
<circle cx="47.31" cy="260.04" r="1.55" fill="#3a78c0" stroke="#23497a" stroke-width="0.55"/>
<circle cx="47.21" cy="255.72" r="1.55" fill="#3a78c0" stroke="#23497a" stroke-width="0.55"/>
<circle cx="47.12" cy="250.89" r="1.55" fill="#3a78c0" stroke="#23497a" stroke-width="0.55"/>
<circle cx="47.03" cy="245.44" r="1.55" fill="#3a78c0" stroke="#23497a" stroke-width="0.55"/>
<circle cx="46.93" cy="239.23" r="1.55" fill="#3a78c0" stroke="#23497a" stroke-width="0.55"/>
<circle cx="46.84" cy="232.12" r="1.55" fill="#3a78c0" stroke="#23497a" stroke-width="0.55"/>
<circle cx="46.75" cy="223.86" r="1.55" fill="#3a78c0" stroke="#23497a" stroke-width="0.55"/>
<circle cx="46.66" cy="214.18" r="1.55" fill="#3a78c0" stroke="#23497a" stroke-width="0.55"/>
<path d="M46.66,214.18 L46.75,223.86 L46.84,232.12 L46.93,239.23 L47.03,245.44 L47.12,250.89 L47.21,255.72 L47.31,260.04 L47.4,263.91 L47.49,267.4 L47.59,270.57 L47.68,273.46 L47.77,276.1 L47.86,278.53 L47.96,280.77 L48.05,282.84 L48.14,284.76 L48.24,286.54 L48.33,288.21 L48.42,289.76" stroke="#0a0f1a" stroke-width="0.7" fill="none"/>
<path d="M46.66,346.27 L47.17,345.53 L47.69,344.78 L48.2,344.04 L48.72,343.3 L49.23,342.57 L49.75,341.83 L50.26,341.11 L50.78,340.38 L51.29,339.66 L51.81,338.95 L52.32,338.23 L52.84,337.52 L53.35,336.81 L53.87,336.11 L54.38,335.41 L54.9,334.71 L55.41,334.02 L55.93,333.33 L56.44,332.65 L56.96,331.96 L57.47,331.28 L57.99,330.6 L58.5,329.93 L59.02,329.26 L59.53,328.59 L60.05,327.92 L60.56,327.26 L61.08,326.61 L61.59,325.95 L62.11,325.29 L62.62,324.63 L63.14,324 L63.65,323.36 L64.17,322.72 L64.68,322.09 L65.2,321.45 L65.71,320.81 L66.23,320.17 L66.75,319.55 L67.26,318.94 L67.78,318.3 L68.29,317.69 L68.81,317.09 L69.32,316.46 L69.84,315.85 L70.35,315.25 L70.87,314.64 L71.38,314.06 L71.9,313.44 L72.41,312.82 L72.93,312.23 L73.44,311.63 L73.96,311.04 L74.47,310.45 L74.99,309.91 L75.5,309.3 L76.02,308.77 L76.53,308.17 L77.05,307.62 L77.56,306.99 L78.08,306.41 L78.59,305.88 L79.11,305.27 L79.62,304.76 L80.14,304.18 L80.65,303.63 L81.17,303.1 L81.68,302.51 L82.2,301.92 L82.71,301.45 L83.23,300.86 L83.74,300.34 L84.26,299.74 L84.77,299.24 L85.29,298.7 L85.8,298.17 L86.32,297.65 L86.84,297.17 L87.35,296.55 L87.87,296.12 L88.38,295.54 L88.9,295 L89.41,294.54 L89.93,293.99 L90.44,293.43 L90.96,292.97 L91.47,292.49 L91.99,292.07 L92.5,291.48 L93.02,290.96 L93.53,290.46 L94.05,289.98 L94.56,289.41 L95.08,288.96 L95.59,288.45 L96.11,287.91 L96.62,287.5 L97.14,286.99 L97.65,286.37 L98.17,285.95 L98.68,285.59 L99.2,285.04 L99.71,284.52 L100.23,284.01 L100.74,283.59 L101.26,283.16 L101.77,282.7 L102.29,282.15 L102.8,281.7 L103.32,281.29 L103.83,280.8 L104.35,280.36 L104.86,279.82 L105.38,279.46 L105.89,278.92 L106.41,278.43 L106.93,278.01 L107.44,277.65 L107.96,277.03 L108.47,276.74 L108.99,276.21 L109.5,275.86 L110.02,275.5 L110.53,274.89 L111.05,274.45 L111.56,274.04 L112.08,273.57 L112.59,273.22 L113.11,272.8 L113.62,272.31 L114.14,271.69 L114.65,271.36 L115.17,271.06 L115.68,270.53 L116.2,270.21 L116.71,269.78 L117.23,269.23 L117.74,268.95 L118.26,268.66 L118.77,268.16 L119.29,267.64 L119.8,267.22 L120.32,266.68 L120.83,266.49 L121.35,265.92 L121.86,265.55 L122.38,265.21 L122.89,264.69 L123.41,264.32 L123.92,264.09 L124.44,263.45 L124.95,263.34 L125.47,262.78 L125.98,262.39 L126.5,261.94 L127.02,261.7 L127.53,261.22 L128.05,260.84 L128.56,260.3 L129.08,260.16 L129.59,259.65 L130.11,259.31 L130.62,259.08 L131.14,258.12 L131.65,258.14 L132.17,257.97 L132.68,257.16 L133.2,257.16 L133.71,256.56 L134.23,256.11 L134.74,255.98 L135.26,255.57 L135.77,255.22 L136.29,254.78 L136.8,254.66 L137.32,254.24 L137.83,253.69 L138.35,253.12 L138.86,252.83 L139.38,252.27 L139.89,252.09 L140.41,251.95 L140.92,251.52 L141.44,251.51 L141.95,250.96 L142.47,250.62 L142.98,250.03 L143.5,249.6 L144.01,249.48 L144.53,249.14 L145.04,248.98 L145.56,248.36 L146.07,247.93 L146.59,247.55 L147.11,247.46 L147.62,246.54 L148.14,246.36 L148.65,246.29 L149.17,246.05 L149.68,245.66 L150.2,245.22 L150.71,244.93 L151.23,244.48 L151.74,244.08 L152.26,243.61 L152.77,243.33 L153.29,243.29 L153.8,242.84 L154.32,242.69 L154.83,242.42 L155.35,241.49 L155.86,241.74 L156.38,240.81 L156.89,241.06 L157.41,240.59 L157.92,240.06 L158.44,240.01 L158.95,239.59 L159.47,239.44 L159.98,239.19 L160.5,238.79 L161.01,238.6 L161.53,237.68 L162.04,237.85 L162.56,237.02 L163.07,237.92 L163.59,236.87 L164.1,236.41 L164.62,236.34 L165.13,235.64 L165.65,235.46 L166.16,235.42 L166.68,234.91 L167.2,233.9 L167.71,234.35 L168.23,234.04 L168.74,233.96 L169.26,233.49 L169.77,233.63 L170.29,232.99 L170.8,231.86 L171.32,232 L171.83,231.84 L172.35,231.4 L172.86,230.85 L173.38,230.97 L173.89,230.19 L174.41,230.23 L174.92,230.24 L175.44,229.43 L175.95,230.52 L176.47,229.63 L176.98,229.06 L177.5,229.18 L178.01,228.63 L178.53,228.52 L179.04,228.25 L179.56,226.76 L180.07,227.22 L180.59,227.19 L181.1,226.41 L181.62,226.7 L182.13,226.01 L182.65,225.93 L183.16,225.17 L183.68,226.05 L184.19,224.94 L184.71,224.91 L185.22,225.14 L185.74,224 L186.25,224.49 L186.77,223.23 L187.29,223.4 L187.8,223.06 L188.32,223.04 L188.83,222.43 L189.35,223.31 L189.86,222.24 L190.38,222.27 L190.89,221.63 L191.41,221.5 L191.92,220.96 L192.44,221.32 L192.95,219.9 L193.47,219.42 L193.98,220.27 L194.5,219.93 L195.01,219.53 L195.53,218.84 L196.04,218.29 L196.56,219.44 L197.07,218.92 L197.59,218.88 L198.1,218.65 L198.62,218.65 L199.13,217.46 L199.65,217.93 L200.16,216.41 L200.68,216.44" stroke="#d9302c" stroke-width="1.5" fill="none" stroke-linejoin="round"/>
<line x1="32.12" y1="202" x2="214.17" y2="202" stroke="#222" stroke-width="1.15"/>
<line x1="32.12" y1="347.55" x2="214.17" y2="347.55" stroke="#222" stroke-width="1.15"/>
<line x1="32.7" y1="202" x2="32.7" y2="347.55" stroke="#3a78c0" stroke-width="1.15"/>
<line x1="213.6" y1="202" x2="213.6" y2="347.55" stroke="#d9302c" stroke-width="1.15"/>
<line x1="45.62" y1="347.55" x2="45.62" y2="344.95" stroke="#111" stroke-width="1.15"/>
<line x1="45.62" y1="202" x2="45.62" y2="204.6" stroke="#111" stroke-width="1.15"/>
<line x1="71.46" y1="347.55" x2="71.46" y2="344.95" stroke="#111" stroke-width="1.15"/>
<line x1="71.46" y1="202" x2="71.46" y2="204.6" stroke="#111" stroke-width="1.15"/>
<line x1="97.31" y1="347.55" x2="97.31" y2="344.95" stroke="#111" stroke-width="1.15"/>
<line x1="97.31" y1="202" x2="97.31" y2="204.6" stroke="#111" stroke-width="1.15"/>
<line x1="123.15" y1="347.55" x2="123.15" y2="344.95" stroke="#111" stroke-width="1.15"/>
<line x1="123.15" y1="202" x2="123.15" y2="204.6" stroke="#111" stroke-width="1.15"/>
<line x1="148.99" y1="347.55" x2="148.99" y2="344.95" stroke="#111" stroke-width="1.15"/>
<line x1="148.99" y1="202" x2="148.99" y2="204.6" stroke="#111" stroke-width="1.15"/>
<line x1="174.84" y1="347.55" x2="174.84" y2="344.95" stroke="#111" stroke-width="1.15"/>
<line x1="174.84" y1="202" x2="174.84" y2="204.6" stroke="#111" stroke-width="1.15"/>
<line x1="200.68" y1="347.55" x2="200.68" y2="344.95" stroke="#111" stroke-width="1.15"/>
<line x1="200.68" y1="202" x2="200.68" y2="204.6" stroke="#111" stroke-width="1.15"/>
<line x1="32.7" y1="336.35" x2="35.1" y2="336.35" stroke="#3a78c0" stroke-width="1.15"/>
<line x1="32.7" y1="313.96" x2="35.1" y2="313.96" stroke="#3a78c0" stroke-width="1.15"/>
<line x1="32.7" y1="291.57" x2="35.1" y2="291.57" stroke="#3a78c0" stroke-width="1.15"/>
<line x1="32.7" y1="269.18" x2="35.1" y2="269.18" stroke="#3a78c0" stroke-width="1.15"/>
<line x1="32.7" y1="246.78" x2="35.1" y2="246.78" stroke="#3a78c0" stroke-width="1.15"/>
<line x1="32.7" y1="224.39" x2="35.1" y2="224.39" stroke="#3a78c0" stroke-width="1.15"/>
<line x1="32.7" y1="202" x2="35.1" y2="202" stroke="#3a78c0" stroke-width="1.15"/>
<line x1="213.6" y1="347.85" x2="211" y2="347.85" stroke="#d9302c" stroke-width="1.15"/>
<line x1="213.6" y1="330.66" x2="211" y2="330.66" stroke="#d9302c" stroke-width="1.15"/>
<line x1="213.6" y1="313.47" x2="211" y2="313.47" stroke="#d9302c" stroke-width="1.15"/>
<line x1="213.6" y1="296.28" x2="211" y2="296.28" stroke="#d9302c" stroke-width="1.15"/>
<line x1="213.6" y1="279.09" x2="211" y2="279.09" stroke="#d9302c" stroke-width="1.15"/>
<line x1="213.6" y1="261.9" x2="211" y2="261.9" stroke="#d9302c" stroke-width="1.15"/>
<line x1="213.6" y1="244.71" x2="211" y2="244.71" stroke="#d9302c" stroke-width="1.15"/>
<line x1="213.6" y1="227.52" x2="211" y2="227.52" stroke="#d9302c" stroke-width="1.15"/>
<line x1="213.6" y1="210.33" x2="211" y2="210.33" stroke="#d9302c" stroke-width="1.15"/>
<text x="43.01" y="358.5" font-size="9.4" font-weight="bold" fill="#111" stroke="#111" stroke-width="0.24">0</text>
<text x="66.28" y="358.5" font-size="9.4" font-weight="bold" fill="#111" stroke="#111" stroke-width="0.24">50</text>
<text x="89.36" y="358.5" font-size="9.4" font-weight="bold" fill="#111" stroke="#111" stroke-width="0.24">100</text>
<text x="115.2" y="358.5" font-size="9.4" font-weight="bold" fill="#111" stroke="#111" stroke-width="0.24">150</text>
<text x="141.18" y="358.5" font-size="9.4" font-weight="bold" fill="#111" stroke="#111" stroke-width="0.24">200</text>
<text x="167.02" y="358.5" font-size="9.4" font-weight="bold" fill="#111" stroke="#111" stroke-width="0.24">250</text>
<text x="192.92" y="358.5" font-size="9.4" font-weight="bold" fill="#111" stroke="#111" stroke-width="0.24">300</text>
<text x="24.36" y="339.72" font-size="9.4" font-weight="bold" fill="#3a78c0" stroke="#3a78c0" stroke-width="0.24">0</text>
<text x="24.35" y="317.33" font-size="9.4" font-weight="bold" fill="#3a78c0" stroke="#3a78c0" stroke-width="0.24">2</text>
<text x="24.02" y="294.93" font-size="9.4" font-weight="bold" fill="#3a78c0" stroke="#3a78c0" stroke-width="0.24">4</text>
<text x="24.31" y="272.54" font-size="9.4" font-weight="bold" fill="#3a78c0" stroke="#3a78c0" stroke-width="0.24">6</text>
<text x="24.26" y="250.15" font-size="9.4" font-weight="bold" fill="#3a78c0" stroke="#3a78c0" stroke-width="0.24">8</text>
<text x="19.13" y="227.76" font-size="9.4" font-weight="bold" fill="#3a78c0" stroke="#3a78c0" stroke-width="0.24">10</text>
<text x="19.12" y="205.37" font-size="9.4" font-weight="bold" fill="#3a78c0" stroke="#3a78c0" stroke-width="0.24">12</text>
<text x="216.63" y="351.22" font-size="9.4" font-weight="bold" fill="#d9302c" stroke="#d9302c" stroke-width="0.24">0</text>
<text x="216.41" y="334.03" font-size="9.4" font-weight="bold" fill="#d9302c" stroke="#d9302c" stroke-width="0.24">1</text>
<text x="216.67" y="316.84" font-size="9.4" font-weight="bold" fill="#d9302c" stroke="#d9302c" stroke-width="0.24">2</text>
<text x="216.78" y="299.65" font-size="9.4" font-weight="bold" fill="#d9302c" stroke="#d9302c" stroke-width="0.24">3</text>
<text x="216.86" y="282.46" font-size="9.4" font-weight="bold" fill="#d9302c" stroke="#d9302c" stroke-width="0.24">4</text>
<text x="216.71" y="265.27" font-size="9.4" font-weight="bold" fill="#d9302c" stroke="#d9302c" stroke-width="0.24">5</text>
<text x="216.66" y="248.08" font-size="9.4" font-weight="bold" fill="#d9302c" stroke="#d9302c" stroke-width="0.24">6</text>
<text x="216.6" y="230.89" font-size="9.4" font-weight="bold" fill="#d9302c" stroke="#d9302c" stroke-width="0.24">7</text>
<text x="216.7" y="213.7" font-size="9.4" font-weight="bold" fill="#d9302c" stroke="#d9302c" stroke-width="0.24">8</text>
<text x="110.16" y="374.4" font-size="11.8" font-weight="bold" font-style="italic" fill="#111" stroke="#111" stroke-width="0.3">T</text>
<text x="119.81" y="374.4" font-size="11.8" font-weight="bold" fill="#111" stroke="#111" stroke-width="0.3">(K)</text>
<text transform="translate(17.8,325.8) rotate(-90)" font-size="11" font-weight="normal" font-style="italic" fill="#3a78c0" stroke="#3a78c0" stroke-width="0.28">χ</text>
<text transform="translate(20.4,318.92) rotate(-90)" font-size="7.8" font-weight="normal" fill="#3a78c0" stroke="#3a78c0" stroke-width="0.2">m</text>
<text transform="translate(17.8,309) rotate(-90)" font-size="12" font-weight="bold" fill="#3a78c0" stroke="#3a78c0" stroke-width="0.3">(</text>
<text transform="translate(17.8,300.56) rotate(-90)" font-size="12" font-weight="bold" fill="#3a78c0" stroke="#3a78c0" stroke-width="0.3">10</text>
<text transform="translate(11.9,288.04) rotate(-90)" font-size="8.2" font-weight="bold" fill="#3a78c0" stroke="#3a78c0" stroke-width="0.2">−2</text>
<text transform="translate(17.8,275.07) rotate(-90)" font-size="12" font-weight="bold" fill="#3a78c0" stroke="#3a78c0" stroke-width="0.3">emu</text>
<text transform="translate(17.8,245.39) rotate(-90)" font-size="12" font-weight="bold" fill="#3a78c0" stroke="#3a78c0" stroke-width="0.3">g</text>
<text transform="translate(10.6,237.84) rotate(-90)" font-size="8.2" font-weight="bold" fill="#3a78c0" stroke="#3a78c0" stroke-width="0.2">−1</text>
<text transform="translate(17.8,226.91) rotate(-90)" font-size="12" font-weight="bold" fill="#3a78c0" stroke="#3a78c0" stroke-width="0.3">)</text>
<text transform="translate(239.4,321.26) rotate(-90)" font-size="12" font-weight="bold" fill="#d9302c" stroke="#d9302c" stroke-width="0.3">1</text>
<text transform="translate(239.4,314.02) rotate(-90)" font-size="12.5" font-weight="bold" fill="#d9302c" stroke="#d9302c" stroke-width="0.31">/</text>
<text transform="translate(239.4,309) rotate(-90)" font-size="11" font-weight="normal" font-style="italic" fill="#d9302c" stroke="#d9302c" stroke-width="0.28">χ</text>
<text transform="translate(242.2,303.12) rotate(-90)" font-size="7.8" font-weight="normal" fill="#d9302c" stroke="#d9302c" stroke-width="0.2">m</text>
<text transform="translate(239.4,297.9) rotate(-90)" font-size="12" font-weight="bold" fill="#d9302c" stroke="#d9302c" stroke-width="0.3">(10</text>
<text transform="translate(233.9,280.78) rotate(-90)" font-size="8.2" font-weight="bold" fill="#d9302c" stroke="#d9302c" stroke-width="0.2">2</text>
<text transform="translate(239.4,273.17) rotate(-90)" font-size="12" font-weight="bold" fill="#d9302c" stroke="#d9302c" stroke-width="0.3">emu</text>
<text transform="translate(232.5,246.04) rotate(-90)" font-size="8.2" font-weight="bold" fill="#d9302c" stroke="#d9302c" stroke-width="0.2">−1</text>
<text transform="translate(239.4,235.59) rotate(-90)" font-size="12" font-weight="bold" fill="#d9302c" stroke="#d9302c" stroke-width="0.3">g)</text>
<text x="3.83" y="191.1" font-size="14" font-weight="bold" fill="#111" stroke="#111" stroke-width="0.35">d</text>
<clipPath id="ce"><rect x="275.4" y="202.4" width="181.95" height="145.95"/></clipPath>
<g clip-path="url(#ce)" fill="none">
<path d="M302.69,333.58 L303.12,333.56 L303.54,333.54 L303.97,333.53 L304.4,333.51 L304.82,333.49 L305.25,333.47 L305.67,333.45 L306.1,333.42 L306.53,333.4 L306.95,333.38 L307.38,333.35 L307.8,333.33 L308.23,333.3 L308.66,333.28 L309.08,333.25 L309.51,333.22 L309.93,333.19 L310.36,333.16 L310.79,333.13 L311.21,333.1 L311.64,333.07 L312.06,333.03 L312.49,333 L312.92,332.96 L313.34,332.92 L313.77,332.89 L314.19,332.85 L314.62,332.8 L315.05,332.76 L315.47,332.72 L315.9,332.67 L316.32,332.62 L316.75,332.58 L317.18,332.53 L317.6,332.47 L318.03,332.42 L318.45,332.36 L318.88,332.31 L319.31,332.25 L319.73,332.19 L320.16,332.12 L320.58,332.06 L321.01,331.99 L321.44,331.92 L321.86,331.85 L322.29,331.77 L322.71,331.69 L323.14,331.61 L323.57,331.53 L323.99,331.45 L324.42,331.36 L324.84,331.27 L325.27,331.17 L325.69,331.07 L326.12,330.97 L326.55,330.87 L326.97,330.76 L327.4,330.65 L327.82,330.53 L328.25,330.41 L328.68,330.29 L329.1,330.16 L329.53,330.03 L329.95,329.89 L330.38,329.75 L330.81,329.6 L331.23,329.45 L331.66,329.29 L332.08,329.13 L332.51,328.96 L332.94,328.79 L333.36,328.61 L333.79,328.42 L334.21,328.23 L334.64,328.03 L335.07,327.83 L335.49,327.61 L335.92,327.39 L336.34,327.17 L336.77,326.93 L337.2,326.69 L337.62,326.43 L338.05,326.17 L338.47,325.9 L338.9,325.62 L339.33,325.33 L339.75,325.04 L340.18,324.73 L340.6,324.41 L341.03,324.08 L341.46,323.73 L341.88,323.38 L342.31,323.02 L342.73,322.64 L343.16,322.25 L343.59,321.84 L344.01,321.43 L344.44,321 L344.86,320.55 L345.29,320.09 L345.72,319.62 L346.14,319.13 L346.57,318.62 L346.99,318.1 L347.42,317.57 L347.85,317.01 L348.27,316.44 L348.7,315.85 L349.12,315.24 L349.55,314.62 L349.98,313.98 L350.4,313.31 L350.83,312.63 L351.25,311.93 L351.68,311.21 L352.11,310.47 L352.53,309.71 L352.96,308.93 L353.38,308.13 L353.81,307.31 L354.23,306.47 L354.66,305.61 L355.09,304.73 L355.51,303.83 L355.94,302.9 L356.36,301.96 L356.79,301 L357.22,300.02 L357.64,299.02 L358.07,298 L358.49,296.96 L358.92,295.91 L359.35,294.84 L359.77,293.75 L360.2,292.64 L360.62,291.52 L361.05,290.39 L361.48,289.24 L361.9,288.08 L362.33,286.91 L362.75,285.72 L363.18,284.53 L363.61,283.33 L364.03,282.12 L364.46,280.9 L364.88,279.68 L365.31,278.45 L365.74,277.22 L366.16,275.99 L366.59,274.76 L367.01,273.53 L367.44,272.3 L367.87,271.07 L368.29,269.85 L368.72,268.63 L369.14,267.42 L369.57,266.22 L370,265.03 L370.42,263.84 L370.85,262.67 L371.27,261.51 L371.7,260.36 L372.13,259.23 L372.55,258.11 L372.98,257 L373.4,255.91 L373.83,254.84 L374.26,253.79 L374.68,252.75 L375.11,251.73 L375.53,250.73 L375.96,249.75 L376.39,248.79 L376.81,247.85 L377.24,246.92 L377.66,246.02 L378.09,245.14 L378.52,244.28 L378.94,243.44 L379.37,242.62 L379.79,241.82 L380.22,241.04 L380.64,240.28 L381.07,239.54 L381.5,238.82 L381.92,238.12 L382.35,237.44 L382.77,236.77 L383.2,236.13 L383.63,235.51 L384.05,234.9 L384.48,234.31 L384.9,233.74 L385.33,233.18 L385.76,232.65 L386.18,232.13 L386.61,231.62 L387.03,231.13 L387.46,230.66 L387.89,230.2 L388.31,229.75 L388.74,229.32 L389.16,228.91 L389.59,228.5 L390.02,228.11 L390.44,227.73 L390.87,227.37 L391.29,227.02 L391.72,226.67 L392.15,226.34 L392.57,226.02 L393,225.71 L393.42,225.42 L393.85,225.13 L394.28,224.85 L394.7,224.58 L395.13,224.32 L395.55,224.06 L395.98,223.82 L396.41,223.58 L396.83,223.36 L397.26,223.14 L397.68,222.92 L398.11,222.72 L398.54,222.52 L398.96,222.33 L399.39,222.14 L399.81,221.96 L400.24,221.79 L400.67,221.62 L401.09,221.46 L401.52,221.3 L401.94,221.15 L402.37,221 L402.8,220.86 L403.22,220.72 L403.65,220.59 L404.07,220.46 L404.5,220.34 L404.93,220.22 L405.35,220.1 L405.78,219.99 L406.2,219.88 L406.63,219.78 L407.06,219.68 L407.48,219.58 L407.91,219.48 L408.33,219.39 L408.76,219.3 L409.18,219.22 L409.61,219.14 L410.04,219.06 L410.46,218.98 L410.89,218.9 L411.31,218.83 L411.74,218.76 L412.17,218.69 L412.59,218.63 L413.02,218.56 L413.44,218.5 L413.87,218.44 L414.3,218.39 L414.72,218.33 L415.15,218.28 L415.57,218.22 L416,218.17 L416.43,218.13 L416.85,218.08 L417.28,218.03 L417.7,217.99 L418.13,217.95 L418.56,217.9 L418.98,217.86 L419.41,217.83 L419.83,217.79 L420.26,217.75 L420.69,217.72 L421.11,217.68 L421.54,217.65 L421.96,217.62 L422.39,217.59 L422.82,217.56 L423.24,217.53 L423.67,217.5 L424.09,217.47 L424.52,217.45 L424.95,217.42 L425.37,217.4 L425.8,217.37 L426.22,217.35 L426.65,217.33 L427.08,217.3 L427.5,217.28 L427.93,217.26 L428.35,217.24 L428.78,217.22 L429.21,217.21 L429.63,217.19 L430.06,217.17" stroke="#111" stroke-width="1.15" stroke-dasharray="2.6,1.6"/>
<path d="M302.69,333.75 L303.12,333.72 L303.54,333.69 L303.97,333.65 L304.4,333.61 L304.82,333.58 L305.25,333.54 L305.67,333.5 L306.1,333.46 L306.53,333.41 L306.95,333.37 L307.38,333.32 L307.8,333.28 L308.23,333.23 L308.66,333.18 L309.08,333.13 L309.51,333.07 L309.93,333.02 L310.36,332.96 L310.79,332.9 L311.21,332.84 L311.64,332.78 L312.06,332.72 L312.49,332.65 L312.92,332.58 L313.34,332.51 L313.77,332.44 L314.19,332.37 L314.62,332.29 L315.05,332.21 L315.47,332.13 L315.9,332.05 L316.32,331.96 L316.75,331.87 L317.18,331.78 L317.6,331.69 L318.03,331.59 L318.45,331.49 L318.88,331.38 L319.31,331.28 L319.73,331.17 L320.16,331.06 L320.58,330.94 L321.01,330.82 L321.44,330.7 L321.86,330.57 L322.29,330.44 L322.71,330.3 L323.14,330.17 L323.57,330.02 L323.99,329.88 L324.42,329.73 L324.84,329.57 L325.27,329.41 L325.69,329.25 L326.12,329.08 L326.55,328.9 L326.97,328.72 L327.4,328.54 L327.82,328.35 L328.25,328.15 L328.68,327.95 L329.1,327.75 L329.53,327.53 L329.95,327.32 L330.38,327.09 L330.81,326.86 L331.23,326.62 L331.66,326.38 L332.08,326.13 L332.51,325.87 L332.94,325.61 L333.36,325.34 L333.79,325.06 L334.21,324.78 L334.64,324.48 L335.07,324.18 L335.49,323.87 L335.92,323.56 L336.34,323.23 L336.77,322.9 L337.2,322.56 L337.62,322.21 L338.05,321.85 L338.47,321.48 L338.9,321.1 L339.33,320.71 L339.75,320.32 L340.18,319.91 L340.6,319.5 L341.03,319.07 L341.46,318.64 L341.88,318.19 L342.31,317.73 L342.73,317.27 L343.16,316.79 L343.59,316.3 L344.01,315.81 L344.44,315.3 L344.86,314.78 L345.29,314.25 L345.72,313.71 L346.14,313.15 L346.57,312.59 L346.99,312.01 L347.42,311.43 L347.85,310.83 L348.27,310.22 L348.7,309.6 L349.12,308.96 L349.55,308.32 L349.98,307.66 L350.4,307 L350.83,306.32 L351.25,305.63 L351.68,304.93 L352.11,304.22 L352.53,303.49 L352.96,302.76 L353.38,302.01 L353.81,301.26 L354.23,300.49 L354.66,299.72 L355.09,298.93 L355.51,298.13 L355.94,297.33 L356.36,296.51 L356.79,295.68 L357.22,294.85 L357.64,294.01 L358.07,293.16 L358.49,292.3 L358.92,291.43 L359.35,290.55 L359.77,289.67 L360.2,288.78 L360.62,287.89 L361.05,286.98 L361.48,286.08 L361.9,285.16 L362.33,284.25 L362.75,283.32 L363.18,282.4 L363.61,281.47 L364.03,280.54 L364.46,279.6 L364.88,278.66 L365.31,277.73 L365.74,276.79 L366.16,275.85 L366.59,274.9 L367.01,273.96 L367.44,273.02 L367.87,272.09 L368.29,271.15 L368.72,270.21 L369.14,269.28 L369.57,268.35 L370,267.43 L370.42,266.5 L370.85,265.59 L371.27,264.67 L371.7,263.77 L372.13,262.86 L372.55,261.97 L372.98,261.08 L373.4,260.2 L373.83,259.32 L374.26,258.45 L374.68,257.59 L375.11,256.74 L375.53,255.9 L375.96,255.07 L376.39,254.24 L376.81,253.42 L377.24,252.62 L377.66,251.82 L378.09,251.03 L378.52,250.26 L378.94,249.49 L379.37,248.74 L379.79,247.99 L380.22,247.26 L380.64,246.53 L381.07,245.82 L381.5,245.12 L381.92,244.43 L382.35,243.75 L382.77,243.09 L383.2,242.43 L383.63,241.79 L384.05,241.15 L384.48,240.53 L384.9,239.92 L385.33,239.32 L385.76,238.74 L386.18,238.16 L386.61,237.6 L387.03,237.04 L387.46,236.5 L387.89,235.97 L388.31,235.45 L388.74,234.94 L389.16,234.45 L389.59,233.96 L390.02,233.48 L390.44,233.02 L390.87,232.56 L391.29,232.11 L391.72,231.68 L392.15,231.25 L392.57,230.84 L393,230.43 L393.42,230.04 L393.85,229.65 L394.28,229.27 L394.7,228.9 L395.13,228.54 L395.55,228.19 L395.98,227.85 L396.41,227.52 L396.83,227.19 L397.26,226.88 L397.68,226.57 L398.11,226.27 L398.54,225.97 L398.96,225.69 L399.39,225.41 L399.81,225.14 L400.24,224.88 L400.67,224.62 L401.09,224.37 L401.52,224.13 L401.94,223.89 L402.37,223.66 L402.8,223.43 L403.22,223.22 L403.65,223 L404.07,222.8 L404.5,222.6 L404.93,222.4 L405.35,222.21 L405.78,222.03 L406.2,221.85 L406.63,221.67 L407.06,221.5 L407.48,221.34 L407.91,221.18 L408.33,221.02 L408.76,220.87 L409.18,220.73 L409.61,220.58 L410.04,220.45 L410.46,220.31 L410.89,220.18 L411.31,220.05 L411.74,219.93 L412.17,219.81 L412.59,219.69 L413.02,219.58 L413.44,219.47 L413.87,219.37 L414.3,219.26 L414.72,219.16 L415.15,219.06 L415.57,218.97 L416,218.88 L416.43,218.79 L416.85,218.7 L417.28,218.62 L417.7,218.54 L418.13,218.46 L418.56,218.38 L418.98,218.31 L419.41,218.24 L419.83,218.17 L420.26,218.1 L420.69,218.03 L421.11,217.97 L421.54,217.91 L421.96,217.85 L422.39,217.79 L422.82,217.73 L423.24,217.68 L423.67,217.62 L424.09,217.57 L424.52,217.52 L424.95,217.47 L425.37,217.43 L425.8,217.38 L426.22,217.34 L426.65,217.29 L427.08,217.25 L427.5,217.21 L427.93,217.17 L428.35,217.14 L428.78,217.1 L429.21,217.06 L429.63,217.03 L430.06,217" stroke="#7a5cc8" stroke-width="1.5"/>
<path d="M302.69,333.75 L303.12,333.72 L303.54,333.69 L303.97,333.65 L304.4,333.62 L304.82,333.58 L305.25,333.54 L305.67,333.5 L306.1,333.46 L306.53,333.42 L306.95,333.38 L307.38,333.33 L307.8,333.29 L308.23,333.24 L308.66,333.19 L309.08,333.14 L309.51,333.09 L309.93,333.03 L310.36,332.98 L310.79,332.92 L311.21,332.86 L311.64,332.8 L312.06,332.74 L312.49,332.67 L312.92,332.61 L313.34,332.54 L313.77,332.47 L314.19,332.39 L314.62,332.32 L315.05,332.24 L315.47,332.16 L315.9,332.08 L316.32,331.99 L316.75,331.91 L317.18,331.82 L317.6,331.72 L318.03,331.63 L318.45,331.53 L318.88,331.43 L319.31,331.33 L319.73,331.22 L320.16,331.11 L320.58,330.99 L321.01,330.88 L321.44,330.75 L321.86,330.63 L322.29,330.5 L322.71,330.37 L323.14,330.23 L323.57,330.09 L323.99,329.95 L324.42,329.8 L324.84,329.65 L325.27,329.49 L325.69,329.33 L326.12,329.16 L326.55,328.99 L326.97,328.81 L327.4,328.63 L327.82,328.45 L328.25,328.25 L328.68,328.06 L329.1,327.85 L329.53,327.64 L329.95,327.43 L330.38,327.21 L330.81,326.98 L331.23,326.75 L331.66,326.51 L332.08,326.26 L332.51,326.01 L332.94,325.75 L333.36,325.48 L333.79,325.21 L334.21,324.93 L334.64,324.64 L335.07,324.34 L335.49,324.03 L335.92,323.72 L336.34,323.4 L336.77,323.07 L337.2,322.73 L337.62,322.39 L338.05,322.03 L338.47,321.67 L338.9,321.29 L339.33,320.91 L339.75,320.52 L340.18,320.12 L340.6,319.7 L341.03,319.28 L341.46,318.85 L341.88,318.41 L342.31,317.96 L342.73,317.5 L343.16,317.02 L343.59,316.54 L344.01,316.04 L344.44,315.54 L344.86,315.02 L345.29,314.49 L345.72,313.95 L346.14,313.4 L346.57,312.84 L346.99,312.27 L347.42,311.68 L347.85,311.09 L348.27,310.48 L348.7,309.86 L349.12,309.23 L349.55,308.58 L349.98,307.93 L350.4,307.26 L350.83,306.58 L351.25,305.89 L351.68,305.19 L352.11,304.48 L352.53,303.75 L352.96,303.02 L353.38,302.27 L353.81,301.51 L354.23,300.74 L354.66,299.96 L355.09,299.17 L355.51,298.37 L355.94,297.56 L356.36,296.74 L356.79,295.91 L357.22,295.07 L357.64,294.22 L358.07,293.36 L358.49,292.49 L358.92,291.61 L359.35,290.73 L359.77,289.84 L360.2,288.94 L360.62,288.04 L361.05,287.13 L361.48,286.21 L361.9,285.29 L362.33,284.36 L362.75,283.42 L363.18,282.49 L363.61,281.55 L364.03,280.6 L364.46,279.66 L364.88,278.71 L365.31,277.76 L365.74,276.8 L366.16,275.85 L366.59,274.9 L367.01,273.95 L367.44,272.99 L367.87,272.04 L368.29,271.09 L368.72,270.15 L369.14,269.2 L369.57,268.26 L370,267.33 L370.42,266.39 L370.85,265.46 L371.27,264.54 L371.7,263.62 L372.13,262.71 L372.55,261.81 L372.98,260.91 L373.4,260.02 L373.83,259.14 L374.26,258.26 L374.68,257.39 L375.11,256.53 L375.53,255.68 L375.96,254.84 L376.39,254.01 L376.81,253.19 L377.24,252.38 L377.66,251.58 L378.09,250.79 L378.52,250.01 L378.94,249.24 L379.37,248.48 L379.79,247.73 L380.22,247 L380.64,246.27 L381.07,245.56 L381.5,244.86 L381.92,244.17 L382.35,243.49 L382.77,242.82 L383.2,242.17 L383.63,241.52 L384.05,240.89 L384.48,240.27 L384.9,239.66 L385.33,239.07 L385.76,238.48 L386.18,237.91 L386.61,237.35 L387.03,236.8 L387.46,236.26 L387.89,235.73 L388.31,235.21 L388.74,234.71 L389.16,234.21 L389.59,233.73 L390.02,233.25 L390.44,232.79 L390.87,232.34 L391.29,231.9 L391.72,231.47 L392.15,231.05 L392.57,230.63 L393,230.23 L393.42,229.84 L393.85,229.46 L394.28,229.08 L394.7,228.72 L395.13,228.36 L395.55,228.02 L395.98,227.68 L396.41,227.35 L396.83,227.03 L397.26,226.72 L397.68,226.41 L398.11,226.11 L398.54,225.82 L398.96,225.54 L399.39,225.27 L399.81,225 L400.24,224.74 L400.67,224.49 L401.09,224.24 L401.52,224 L401.94,223.77 L402.37,223.54 L402.8,223.32 L403.22,223.11 L403.65,222.9 L404.07,222.69 L404.5,222.5 L404.93,222.3 L405.35,222.12 L405.78,221.94 L406.2,221.76 L406.63,221.59 L407.06,221.42 L407.48,221.26 L407.91,221.1 L408.33,220.95 L408.76,220.8 L409.18,220.66 L409.61,220.52 L410.04,220.38 L410.46,220.25 L410.89,220.12 L411.31,220 L411.74,219.87 L412.17,219.76 L412.59,219.64 L413.02,219.53 L413.44,219.42 L413.87,219.32 L414.3,219.22 L414.72,219.12 L415.15,219.03 L415.57,218.93 L416,218.84 L416.43,218.76 L416.85,218.67 L417.28,218.59 L417.7,218.51 L418.13,218.43 L418.56,218.36 L418.98,218.28 L419.41,218.21 L419.83,218.14 L420.26,218.08 L420.69,218.01 L421.11,217.95 L421.54,217.89 L421.96,217.83 L422.39,217.77 L422.82,217.72 L423.24,217.66 L423.67,217.61 L424.09,217.56 L424.52,217.51 L424.95,217.46 L425.37,217.42 L425.8,217.37 L426.22,217.33 L426.65,217.29 L427.08,217.25 L427.5,217.21 L427.93,217.17 L428.35,217.13 L428.78,217.1 L429.21,217.06 L429.63,217.03 L430.06,217" stroke="#6aa6e6" stroke-width="1.5"/>
<path d="M302.69,333.75 L303.12,333.72 L303.54,333.69 L303.97,333.66 L304.4,333.62 L304.82,333.59 L305.25,333.55 L305.67,333.51 L306.1,333.47 L306.53,333.43 L306.95,333.39 L307.38,333.34 L307.8,333.3 L308.23,333.25 L308.66,333.21 L309.08,333.16 L309.51,333.11 L309.93,333.05 L310.36,333 L310.79,332.94 L311.21,332.89 L311.64,332.83 L312.06,332.77 L312.49,332.7 L312.92,332.64 L313.34,332.57 L313.77,332.51 L314.19,332.43 L314.62,332.36 L315.05,332.29 L315.47,332.21 L315.9,332.13 L316.32,332.05 L316.75,331.96 L317.18,331.87 L317.6,331.78 L318.03,331.69 L318.45,331.6 L318.88,331.5 L319.31,331.4 L319.73,331.29 L320.16,331.18 L320.58,331.07 L321.01,330.96 L321.44,330.84 L321.86,330.72 L322.29,330.59 L322.71,330.47 L323.14,330.33 L323.57,330.2 L323.99,330.06 L324.42,329.91 L324.84,329.76 L325.27,329.61 L325.69,329.45 L326.12,329.29 L326.55,329.12 L326.97,328.95 L327.4,328.77 L327.82,328.59 L328.25,328.4 L328.68,328.21 L329.1,328.01 L329.53,327.81 L329.95,327.6 L330.38,327.38 L330.81,327.16 L331.23,326.93 L331.66,326.7 L332.08,326.46 L332.51,326.21 L332.94,325.95 L333.36,325.69 L333.79,325.42 L334.21,325.15 L334.64,324.86 L335.07,324.57 L335.49,324.27 L335.92,323.97 L336.34,323.65 L336.77,323.33 L337.2,323 L337.62,322.66 L338.05,322.31 L338.47,321.95 L338.9,321.58 L339.33,321.2 L339.75,320.82 L340.18,320.42 L340.6,320.02 L341.03,319.6 L341.46,319.17 L341.88,318.74 L342.31,318.29 L342.73,317.84 L343.16,317.37 L343.59,316.89 L344.01,316.4 L344.44,315.9 L344.86,315.39 L345.29,314.86 L345.72,314.33 L346.14,313.78 L346.57,313.22 L346.99,312.65 L347.42,312.07 L347.85,311.48 L348.27,310.87 L348.7,310.25 L349.12,309.62 L349.55,308.98 L349.98,308.32 L350.4,307.66 L350.83,306.98 L351.25,306.29 L351.68,305.59 L352.11,304.87 L352.53,304.14 L352.96,303.4 L353.38,302.65 L353.81,301.89 L354.23,301.12 L354.66,300.33 L355.09,299.53 L355.51,298.73 L355.94,297.91 L356.36,297.08 L356.79,296.24 L357.22,295.39 L357.64,294.53 L358.07,293.66 L358.49,292.78 L358.92,291.9 L359.35,291 L359.77,290.1 L360.2,289.18 L360.62,288.26 L361.05,287.34 L361.48,286.41 L361.9,285.47 L362.33,284.52 L362.75,283.57 L363.18,282.62 L363.61,281.66 L364.03,280.7 L364.46,279.74 L364.88,278.77 L365.31,277.8 L365.74,276.83 L366.16,275.86 L366.59,274.89 L367.01,273.92 L367.44,272.95 L367.87,271.98 L368.29,271.01 L368.72,270.05 L369.14,269.09 L369.57,268.13 L370,267.18 L370.42,266.23 L370.85,265.28 L371.27,264.34 L371.7,263.41 L372.13,262.49 L372.55,261.57 L372.98,260.65 L373.4,259.75 L373.83,258.85 L374.26,257.97 L374.68,257.09 L375.11,256.22 L375.53,255.36 L375.96,254.51 L376.39,253.67 L376.81,252.84 L377.24,252.02 L377.66,251.22 L378.09,250.42 L378.52,249.63 L378.94,248.86 L379.37,248.1 L379.79,247.35 L380.22,246.61 L380.64,245.88 L381.07,245.16 L381.5,244.46 L381.92,243.77 L382.35,243.09 L382.77,242.43 L383.2,241.77 L383.63,241.13 L384.05,240.5 L384.48,239.88 L384.9,239.27 L385.33,238.68 L385.76,238.1 L386.18,237.53 L386.61,236.97 L387.03,236.42 L387.46,235.89 L387.89,235.36 L388.31,234.85 L388.74,234.35 L389.16,233.86 L389.59,233.38 L390.02,232.91 L390.44,232.46 L390.87,232.01 L391.29,231.58 L391.72,231.15 L392.15,230.73 L392.57,230.33 L393,229.93 L393.42,229.55 L393.85,229.17 L394.28,228.8 L394.7,228.44 L395.13,228.09 L395.55,227.75 L395.98,227.42 L396.41,227.1 L396.83,226.78 L397.26,226.48 L397.68,226.18 L398.11,225.89 L398.54,225.6 L398.96,225.33 L399.39,225.06 L399.81,224.8 L400.24,224.54 L400.67,224.29 L401.09,224.05 L401.52,223.82 L401.94,223.59 L402.37,223.37 L402.8,223.15 L403.22,222.94 L403.65,222.74 L404.07,222.54 L404.5,222.35 L404.93,222.16 L405.35,221.98 L405.78,221.8 L406.2,221.63 L406.63,221.46 L407.06,221.3 L407.48,221.14 L407.91,220.99 L408.33,220.84 L408.76,220.69 L409.18,220.55 L409.61,220.42 L410.04,220.28 L410.46,220.16 L410.89,220.03 L411.31,219.91 L411.74,219.79 L412.17,219.68 L412.59,219.57 L413.02,219.46 L413.44,219.35 L413.87,219.25 L414.3,219.15 L414.72,219.06 L415.15,218.97 L415.57,218.88 L416,218.79 L416.43,218.7 L416.85,218.62 L417.28,218.54 L417.7,218.46 L418.13,218.39 L418.56,218.32 L418.98,218.24 L419.41,218.18 L419.83,218.11 L420.26,218.05 L420.69,217.98 L421.11,217.92 L421.54,217.86 L421.96,217.81 L422.39,217.75 L422.82,217.7 L423.24,217.64 L423.67,217.59 L424.09,217.54 L424.52,217.5 L424.95,217.45 L425.37,217.41 L425.8,217.36 L426.22,217.32 L426.65,217.28 L427.08,217.24 L427.5,217.2 L427.93,217.16 L428.35,217.13 L428.78,217.09 L429.21,217.06 L429.63,217.03 L430.06,217" stroke="#a6ecc6" stroke-width="1.5"/>
<path d="M302.69,333.75 L303.12,333.72 L303.54,333.69 L303.97,333.66 L304.4,333.63 L304.82,333.59 L305.25,333.56 L305.67,333.52 L306.1,333.48 L306.53,333.44 L306.95,333.4 L307.38,333.36 L307.8,333.32 L308.23,333.27 L308.66,333.23 L309.08,333.18 L309.51,333.13 L309.93,333.08 L310.36,333.03 L310.79,332.98 L311.21,332.92 L311.64,332.87 L312.06,332.81 L312.49,332.75 L312.92,332.69 L313.34,332.62 L313.77,332.56 L314.19,332.49 L314.62,332.42 L315.05,332.35 L315.47,332.27 L315.9,332.19 L316.32,332.12 L316.75,332.03 L317.18,331.95 L317.6,331.86 L318.03,331.77 L318.45,331.68 L318.88,331.59 L319.31,331.49 L319.73,331.39 L320.16,331.28 L320.58,331.18 L321.01,331.07 L321.44,330.95 L321.86,330.84 L322.29,330.72 L322.71,330.59 L323.14,330.47 L323.57,330.33 L323.99,330.2 L324.42,330.06 L324.84,329.92 L325.27,329.77 L325.69,329.61 L326.12,329.46 L326.55,329.3 L326.97,329.13 L327.4,328.96 L327.82,328.78 L328.25,328.6 L328.68,328.42 L329.1,328.22 L329.53,328.03 L329.95,327.82 L330.38,327.61 L330.81,327.4 L331.23,327.18 L331.66,326.95 L332.08,326.72 L332.51,326.48 L332.94,326.23 L333.36,325.97 L333.79,325.71 L334.21,325.45 L334.64,325.17 L335.07,324.89 L335.49,324.59 L335.92,324.3 L336.34,323.99 L336.77,323.67 L337.2,323.35 L337.62,323.02 L338.05,322.68 L338.47,322.32 L338.9,321.97 L339.33,321.6 L339.75,321.22 L340.18,320.83 L340.6,320.43 L341.03,320.02 L341.46,319.61 L341.88,319.18 L342.31,318.74 L342.73,318.29 L343.16,317.83 L343.59,317.36 L344.01,316.87 L344.44,316.38 L344.86,315.87 L345.29,315.35 L345.72,314.82 L346.14,314.28 L346.57,313.73 L346.99,313.16 L347.42,312.58 L347.85,311.99 L348.27,311.39 L348.7,310.78 L349.12,310.15 L349.55,309.51 L349.98,308.85 L350.4,308.19 L350.83,307.51 L351.25,306.82 L351.68,306.11 L352.11,305.39 L352.53,304.66 L352.96,303.92 L353.38,303.16 L353.81,302.4 L354.23,301.62 L354.66,300.82 L355.09,300.02 L355.51,299.2 L355.94,298.37 L356.36,297.53 L356.79,296.68 L357.22,295.82 L357.64,294.95 L358.07,294.06 L358.49,293.17 L358.92,292.27 L359.35,291.36 L359.77,290.43 L360.2,289.5 L360.62,288.57 L361.05,287.62 L361.48,286.67 L361.9,285.71 L362.33,284.74 L362.75,283.77 L363.18,282.8 L363.61,281.82 L364.03,280.83 L364.46,279.85 L364.88,278.85 L365.31,277.86 L365.74,276.87 L366.16,275.87 L366.59,274.88 L367.01,273.88 L367.44,272.89 L367.87,271.9 L368.29,270.9 L368.72,269.92 L369.14,268.93 L369.57,267.95 L370,266.98 L370.42,266.01 L370.85,265.04 L371.27,264.08 L371.7,263.13 L372.13,262.18 L372.55,261.25 L372.98,260.32 L373.4,259.39 L373.83,258.48 L374.26,257.58 L374.68,256.69 L375.11,255.8 L375.53,254.93 L375.96,254.07 L376.39,253.22 L376.81,252.38 L377.24,251.55 L377.66,250.73 L378.09,249.93 L378.52,249.13 L378.94,248.35 L379.37,247.59 L379.79,246.83 L380.22,246.09 L380.64,245.36 L381.07,244.64 L381.5,243.93 L381.92,243.24 L382.35,242.56 L382.77,241.9 L383.2,241.24 L383.63,240.6 L384.05,239.97 L384.48,239.36 L384.9,238.76 L385.33,238.17 L385.76,237.59 L386.18,237.02 L386.61,236.47 L387.03,235.93 L387.46,235.4 L387.89,234.88 L388.31,234.37 L388.74,233.88 L389.16,233.39 L389.59,232.92 L390.02,232.46 L390.44,232.01 L390.87,231.57 L391.29,231.14 L391.72,230.73 L392.15,230.32 L392.57,229.92 L393,229.53 L393.42,229.15 L393.85,228.78 L394.28,228.43 L394.7,228.07 L395.13,227.73 L395.55,227.4 L395.98,227.08 L396.41,226.76 L396.83,226.45 L397.26,226.16 L397.68,225.86 L398.11,225.58 L398.54,225.3 L398.96,225.04 L399.39,224.78 L399.81,224.52 L400.24,224.27 L400.67,224.03 L401.09,223.8 L401.52,223.57 L401.94,223.35 L402.37,223.14 L402.8,222.93 L403.22,222.72 L403.65,222.53 L404.07,222.33 L404.5,222.15 L404.93,221.97 L405.35,221.79 L405.78,221.62 L406.2,221.45 L406.63,221.29 L407.06,221.14 L407.48,220.98 L407.91,220.83 L408.33,220.69 L408.76,220.55 L409.18,220.42 L409.61,220.28 L410.04,220.16 L410.46,220.03 L410.89,219.91 L411.31,219.8 L411.74,219.68 L412.17,219.57 L412.59,219.47 L413.02,219.36 L413.44,219.26 L413.87,219.16 L414.3,219.07 L414.72,218.98 L415.15,218.89 L415.57,218.8 L416,218.72 L416.43,218.63 L416.85,218.56 L417.28,218.48 L417.7,218.4 L418.13,218.33 L418.56,218.26 L418.98,218.19 L419.41,218.13 L419.83,218.06 L420.26,218 L420.69,217.94 L421.11,217.88 L421.54,217.83 L421.96,217.77 L422.39,217.72 L422.82,217.67 L423.24,217.62 L423.67,217.57 L424.09,217.52 L424.52,217.48 L424.95,217.43 L425.37,217.39 L425.8,217.35 L426.22,217.31 L426.65,217.27 L427.08,217.23 L427.5,217.19 L427.93,217.16 L428.35,217.12 L428.78,217.09 L429.21,217.06 L429.63,217.03 L430.06,217" stroke="#f2a062" stroke-width="1.5"/>
<path d="M302.69,333.75 L303.12,333.73 L303.54,333.69 L303.97,333.66 L304.4,333.63 L304.82,333.6 L305.25,333.56 L305.67,333.53 L306.1,333.49 L306.53,333.45 L306.95,333.41 L307.38,333.37 L307.8,333.33 L308.23,333.29 L308.66,333.24 L309.08,333.2 L309.51,333.15 L309.93,333.1 L310.36,333.05 L310.79,333 L311.21,332.94 L311.64,332.89 L312.06,332.83 L312.49,332.77 L312.92,332.71 L313.34,332.65 L313.77,332.59 L314.19,332.52 L314.62,332.45 L315.05,332.38 L315.47,332.31 L315.9,332.24 L316.32,332.16 L316.75,332.08 L317.18,332 L317.6,331.91 L318.03,331.83 L318.45,331.74 L318.88,331.64 L319.31,331.55 L319.73,331.45 L320.16,331.35 L320.58,331.24 L321.01,331.14 L321.44,331.03 L321.86,330.91 L322.29,330.79 L322.71,330.67 L323.14,330.55 L323.57,330.42 L323.99,330.29 L324.42,330.15 L324.84,330.01 L325.27,329.87 L325.69,329.72 L326.12,329.56 L326.55,329.41 L326.97,329.24 L327.4,329.08 L327.82,328.9 L328.25,328.73 L328.68,328.54 L329.1,328.36 L329.53,328.16 L329.95,327.96 L330.38,327.76 L330.81,327.55 L331.23,327.33 L331.66,327.11 L332.08,326.88 L332.51,326.64 L332.94,326.4 L333.36,326.15 L333.79,325.89 L334.21,325.63 L334.64,325.36 L335.07,325.08 L335.49,324.79 L335.92,324.5 L336.34,324.2 L336.77,323.89 L337.2,323.57 L337.62,323.24 L338.05,322.9 L338.47,322.56 L338.9,322.21 L339.33,321.84 L339.75,321.47 L340.18,321.08 L340.6,320.69 L341.03,320.29 L341.46,319.87 L341.88,319.45 L342.31,319.02 L342.73,318.57 L343.16,318.11 L343.59,317.65 L344.01,317.17 L344.44,316.68 L344.86,316.17 L345.29,315.66 L345.72,315.13 L346.14,314.6 L346.57,314.04 L346.99,313.48 L347.42,312.91 L347.85,312.32 L348.27,311.72 L348.7,311.1 L349.12,310.48 L349.55,309.84 L349.98,309.18 L350.4,308.52 L350.83,307.84 L351.25,307.14 L351.68,306.44 L352.11,305.72 L352.53,304.99 L352.96,304.24 L353.38,303.48 L353.81,302.71 L354.23,301.93 L354.66,301.13 L355.09,300.32 L355.51,299.5 L355.94,298.66 L356.36,297.82 L356.79,296.96 L357.22,296.09 L357.64,295.21 L358.07,294.32 L358.49,293.41 L358.92,292.5 L359.35,291.58 L359.77,290.65 L360.2,289.71 L360.62,288.76 L361.05,287.8 L361.48,286.83 L361.9,285.86 L362.33,284.88 L362.75,283.9 L363.18,282.91 L363.61,281.91 L364.03,280.91 L364.46,279.91 L364.88,278.91 L365.31,277.9 L365.74,276.89 L366.16,275.88 L366.59,274.87 L367.01,273.86 L367.44,272.85 L367.87,271.84 L368.29,270.84 L368.72,269.84 L369.14,268.84 L369.57,267.84 L370,266.85 L370.42,265.87 L370.85,264.89 L371.27,263.92 L371.7,262.95 L372.13,261.99 L372.55,261.04 L372.98,260.1 L373.4,259.17 L373.83,258.25 L374.26,257.34 L374.68,256.43 L375.11,255.54 L375.53,254.66 L375.96,253.79 L376.39,252.93 L376.81,252.09 L377.24,251.25 L377.66,250.43 L378.09,249.62 L378.52,248.82 L378.94,248.04 L379.37,247.27 L379.79,246.51 L380.22,245.76 L380.64,245.03 L381.07,244.31 L381.5,243.61 L381.92,242.91 L382.35,242.23 L382.77,241.57 L383.2,240.91 L383.63,240.27 L384.05,239.65 L384.48,239.03 L384.9,238.43 L385.33,237.84 L385.76,237.27 L386.18,236.71 L386.61,236.15 L387.03,235.62 L387.46,235.09 L387.89,234.58 L388.31,234.07 L388.74,233.58 L389.16,233.1 L389.59,232.64 L390.02,232.18 L390.44,231.73 L390.87,231.3 L391.29,230.88 L391.72,230.46 L392.15,230.06 L392.57,229.67 L393,229.28 L393.42,228.91 L393.85,228.54 L394.28,228.19 L394.7,227.85 L395.13,227.51 L395.55,227.18 L395.98,226.86 L396.41,226.55 L396.83,226.25 L397.26,225.96 L397.68,225.67 L398.11,225.39 L398.54,225.12 L398.96,224.86 L399.39,224.6 L399.81,224.35 L400.24,224.11 L400.67,223.87 L401.09,223.64 L401.52,223.42 L401.94,223.2 L402.37,222.99 L402.8,222.79 L403.22,222.59 L403.65,222.39 L404.07,222.21 L404.5,222.02 L404.93,221.85 L405.35,221.67 L405.78,221.51 L406.2,221.34 L406.63,221.19 L407.06,221.03 L407.48,220.88 L407.91,220.74 L408.33,220.6 L408.76,220.46 L409.18,220.33 L409.61,220.2 L410.04,220.08 L410.46,219.96 L410.89,219.84 L411.31,219.72 L411.74,219.61 L412.17,219.51 L412.59,219.4 L413.02,219.3 L413.44,219.2 L413.87,219.11 L414.3,219.01 L414.72,218.92 L415.15,218.84 L415.57,218.75 L416,218.67 L416.43,218.59 L416.85,218.51 L417.28,218.44 L417.7,218.37 L418.13,218.3 L418.56,218.23 L418.98,218.16 L419.41,218.1 L419.83,218.04 L420.26,217.98 L420.69,217.92 L421.11,217.86 L421.54,217.81 L421.96,217.75 L422.39,217.7 L422.82,217.65 L423.24,217.6 L423.67,217.55 L424.09,217.51 L424.52,217.46 L424.95,217.42 L425.37,217.38 L425.8,217.34 L426.22,217.3 L426.65,217.26 L427.08,217.22 L427.5,217.19 L427.93,217.15 L428.35,217.12 L428.78,217.09 L429.21,217.06 L429.63,217.02 L430.06,217" stroke="#d9708e" stroke-width="1.5"/>
<path d="M302.69,333.75 L303.12,333.73 L303.54,333.7 L303.97,333.67 L304.4,333.63 L304.82,333.6 L305.25,333.57 L305.67,333.53 L306.1,333.5 L306.53,333.46 L306.95,333.42 L307.38,333.38 L307.8,333.34 L308.23,333.3 L308.66,333.26 L309.08,333.21 L309.51,333.17 L309.93,333.12 L310.36,333.07 L310.79,333.02 L311.21,332.97 L311.64,332.91 L312.06,332.86 L312.49,332.8 L312.92,332.74 L313.34,332.68 L313.77,332.62 L314.19,332.55 L314.62,332.49 L315.05,332.42 L315.47,332.35 L315.9,332.28 L316.32,332.2 L316.75,332.12 L317.18,332.04 L317.6,331.96 L318.03,331.88 L318.45,331.79 L318.88,331.7 L319.31,331.61 L319.73,331.51 L320.16,331.41 L320.58,331.31 L321.01,331.21 L321.44,331.1 L321.86,330.99 L322.29,330.87 L322.71,330.75 L323.14,330.63 L323.57,330.51 L323.99,330.38 L324.42,330.24 L324.84,330.11 L325.27,329.96 L325.69,329.82 L326.12,329.67 L326.55,329.52 L326.97,329.36 L327.4,329.19 L327.82,329.02 L328.25,328.85 L328.68,328.67 L329.1,328.49 L329.53,328.3 L329.95,328.1 L330.38,327.9 L330.81,327.7 L331.23,327.48 L331.66,327.27 L332.08,327.04 L332.51,326.81 L332.94,326.57 L333.36,326.33 L333.79,326.07 L334.21,325.82 L334.64,325.55 L335.07,325.28 L335.49,324.99 L335.92,324.71 L336.34,324.41 L336.77,324.1 L337.2,323.79 L337.62,323.47 L338.05,323.13 L338.47,322.79 L338.9,322.44 L339.33,322.09 L339.75,321.72 L340.18,321.34 L340.6,320.95 L341.03,320.55 L341.46,320.14 L341.88,319.72 L342.31,319.29 L342.73,318.85 L343.16,318.4 L343.59,317.94 L344.01,317.46 L344.44,316.98 L344.86,316.48 L345.29,315.97 L345.72,315.44 L346.14,314.91 L346.57,314.36 L346.99,313.8 L347.42,313.23 L347.85,312.64 L348.27,312.04 L348.7,311.43 L349.12,310.8 L349.55,310.16 L349.98,309.51 L350.4,308.85 L350.83,308.17 L351.25,307.47 L351.68,306.77 L352.11,306.05 L352.53,305.31 L352.96,304.56 L353.38,303.8 L353.81,303.03 L354.23,302.24 L354.66,301.44 L355.09,300.62 L355.51,299.79 L355.94,298.95 L356.36,298.1 L356.79,297.24 L357.22,296.36 L357.64,295.47 L358.07,294.57 L358.49,293.66 L358.92,292.73 L359.35,291.8 L359.77,290.86 L360.2,289.91 L360.62,288.94 L361.05,287.98 L361.48,287 L361.9,286.01 L362.33,285.02 L362.75,284.02 L363.18,283.02 L363.61,282.01 L364.03,281 L364.46,279.98 L364.88,278.96 L365.31,277.94 L365.74,276.91 L366.16,275.89 L366.59,274.86 L367.01,273.84 L367.44,272.81 L367.87,271.79 L368.29,270.77 L368.72,269.75 L369.14,268.74 L369.57,267.73 L370,266.73 L370.42,265.73 L370.85,264.74 L371.27,263.75 L371.7,262.77 L372.13,261.81 L372.55,260.84 L372.98,259.89 L373.4,258.95 L373.83,258.02 L374.26,257.09 L374.68,256.18 L375.11,255.28 L375.53,254.39 L375.96,253.51 L376.39,252.65 L376.81,251.8 L377.24,250.96 L377.66,250.13 L378.09,249.31 L378.52,248.51 L378.94,247.72 L379.37,246.95 L379.79,246.19 L380.22,245.44 L380.64,244.7 L381.07,243.98 L381.5,243.28 L381.92,242.58 L382.35,241.9 L382.77,241.24 L383.2,240.59 L383.63,239.95 L384.05,239.32 L384.48,238.71 L384.9,238.11 L385.33,237.52 L385.76,236.95 L386.18,236.39 L386.61,235.84 L387.03,235.31 L387.46,234.78 L387.89,234.27 L388.31,233.77 L388.74,233.29 L389.16,232.81 L389.59,232.35 L390.02,231.9 L390.44,231.46 L390.87,231.03 L391.29,230.61 L391.72,230.2 L392.15,229.8 L392.57,229.41 L393,229.03 L393.42,228.66 L393.85,228.31 L394.28,227.96 L394.7,227.62 L395.13,227.28 L395.55,226.96 L395.98,226.65 L396.41,226.34 L396.83,226.04 L397.26,225.76 L397.68,225.47 L398.11,225.2 L398.54,224.93 L398.96,224.68 L399.39,224.42 L399.81,224.18 L400.24,223.94 L400.67,223.71 L401.09,223.48 L401.52,223.27 L401.94,223.05 L402.37,222.85 L402.8,222.65 L403.22,222.45 L403.65,222.26 L404.07,222.08 L404.5,221.9 L404.93,221.73 L405.35,221.56 L405.78,221.39 L406.2,221.23 L406.63,221.08 L407.06,220.93 L407.48,220.79 L407.91,220.64 L408.33,220.51 L408.76,220.37 L409.18,220.24 L409.61,220.12 L410.04,220 L410.46,219.88 L410.89,219.76 L411.31,219.65 L411.74,219.54 L412.17,219.44 L412.59,219.34 L413.02,219.24 L413.44,219.14 L413.87,219.05 L414.3,218.96 L414.72,218.87 L415.15,218.79 L415.57,218.71 L416,218.63 L416.43,218.55 L416.85,218.47 L417.28,218.4 L417.7,218.33 L418.13,218.26 L418.56,218.2 L418.98,218.13 L419.41,218.07 L419.83,218.01 L420.26,217.95 L420.69,217.89 L421.11,217.84 L421.54,217.78 L421.96,217.73 L422.39,217.68 L422.82,217.63 L423.24,217.58 L423.67,217.54 L424.09,217.49 L424.52,217.45 L424.95,217.41 L425.37,217.37 L425.8,217.33 L426.22,217.29 L426.65,217.25 L427.08,217.22 L427.5,217.18 L427.93,217.15 L428.35,217.12 L428.78,217.08 L429.21,217.05 L429.63,217.02 L430.06,217" stroke="#f0407a" stroke-width="1.5"/>
<path d="M302.69,332.7 L303.12,332.67 L303.54,332.64 L303.97,332.6 L304.4,332.57 L304.82,332.53 L305.25,332.49 L305.67,332.45 L306.1,332.41 L306.53,332.37 L306.95,332.32 L307.38,332.28 L307.8,332.23 L308.23,332.18 L308.66,332.13 L309.08,332.08 L309.51,332.03 L309.93,331.97 L310.36,331.92 L310.79,331.86 L311.21,331.8 L311.64,331.74 L312.06,331.68 L312.49,331.61 L312.92,331.54 L313.34,331.47 L313.77,331.4 L314.19,331.33 L314.62,331.25 L315.05,331.17 L315.47,331.09 L315.9,331.01 L316.32,330.93 L316.75,330.84 L317.18,330.75 L317.6,330.65 L318.03,330.56 L318.45,330.46 L318.88,330.35 L319.31,330.25 L319.73,330.14 L320.16,330.03 L320.58,329.91 L321.01,329.8 L321.44,329.67 L321.86,329.55 L322.29,329.42 L322.71,329.29 L323.14,329.15 L323.57,329.01 L323.99,328.86 L324.42,328.71 L324.84,328.56 L325.27,328.4 L325.69,328.24 L326.12,328.07 L326.55,327.9 L326.97,327.72 L327.4,327.54 L327.82,327.35 L328.25,327.15 L328.68,326.96 L329.1,326.75 L329.53,326.54 L329.95,326.33 L330.38,326.1 L330.81,325.88 L331.23,325.64 L331.66,325.4 L332.08,325.15 L332.51,324.9 L332.94,324.64 L333.36,324.37 L333.79,324.1 L334.21,323.81 L334.64,323.52 L335.07,323.23 L335.49,322.92 L335.92,322.61 L336.34,322.29 L336.77,321.96 L337.2,321.62 L337.62,321.27 L338.05,320.92 L338.47,320.56 L338.9,320.18 L339.33,319.8 L339.75,319.41 L340.18,319.01 L340.6,318.6 L341.03,318.18 L341.46,317.75 L341.88,317.31 L342.31,316.86 L342.73,316.4 L343.16,315.93 L343.59,315.45 L344.01,314.96 L344.44,314.46 L344.86,313.95 L345.29,313.43 L345.72,312.89 L346.14,312.35 L346.57,311.79 L346.99,311.23 L347.42,310.65 L347.85,310.06 L348.27,309.46 L348.7,308.85 L349.12,308.23 L349.55,307.6 L349.98,306.95 L350.4,306.3 L350.83,305.63 L351.25,304.95 L351.68,304.27 L352.11,303.57 L352.53,302.86 L352.96,302.14 L353.38,301.41 L353.81,300.67 L354.23,299.92 L354.66,299.16 L355.09,298.39 L355.51,297.61 L355.94,296.82 L356.36,296.02 L356.79,295.21 L357.22,294.39 L357.64,293.57 L358.07,292.74 L358.49,291.9 L358.92,291.05 L359.35,290.19 L359.77,289.33 L360.2,288.46 L360.62,287.59 L361.05,286.71 L361.48,285.82 L361.9,284.93 L362.33,284.03 L362.75,283.13 L363.18,282.23 L363.61,281.32 L364.03,280.41 L364.46,279.5 L364.88,278.58 L365.31,277.67 L365.74,276.75 L366.16,275.83 L366.59,274.92 L367.01,274 L367.44,273.08 L367.87,272.17 L368.29,271.25 L368.72,270.34 L369.14,269.43 L369.57,268.52 L370,267.62 L370.42,266.72 L370.85,265.82 L371.27,264.93 L371.7,264.04 L372.13,263.16 L372.55,262.29 L372.98,261.42 L373.4,260.56 L373.83,259.7 L374.26,258.85 L374.68,258.01 L375.11,257.18 L375.53,256.36 L375.96,255.54 L376.39,254.73 L376.81,253.93 L377.24,253.14 L377.66,252.36 L378.09,251.59 L378.52,250.83 L378.94,250.08 L379.37,249.34 L379.79,248.61 L380.22,247.89 L380.64,247.18 L381.07,246.48 L381.5,245.8 L381.92,245.12 L382.35,244.45 L382.77,243.8 L383.2,243.15 L383.63,242.52 L384.05,241.9 L384.48,241.29 L384.9,240.69 L385.33,240.1 L385.76,239.52 L386.18,238.96 L386.61,238.4 L387.03,237.86 L387.46,237.32 L387.89,236.8 L388.31,236.29 L388.74,235.79 L389.16,235.3 L389.59,234.82 L390.02,234.35 L390.44,233.89 L390.87,233.44 L391.29,233 L391.72,232.57 L392.15,232.15 L392.57,231.74 L393,231.34 L393.42,230.95 L393.85,230.57 L394.28,230.19 L394.7,229.83 L395.13,229.48 L395.55,229.13 L395.98,228.79 L396.41,228.46 L396.83,228.14 L397.26,227.83 L397.68,227.52 L398.11,227.23 L398.54,226.94 L398.96,226.65 L399.39,226.38 L399.81,226.11 L400.24,225.85 L400.67,225.6 L401.09,225.35 L401.52,225.11 L401.94,224.87 L402.37,224.65 L402.8,224.42 L403.22,224.21 L403.65,224 L404.07,223.79 L404.5,223.6 L404.93,223.4 L405.35,223.21 L405.78,223.03 L406.2,222.85 L406.63,222.68 L407.06,222.51 L407.48,222.35 L407.91,222.19 L408.33,222.04 L408.76,221.89 L409.18,221.74 L409.61,221.6 L410.04,221.46 L410.46,221.33 L410.89,221.2 L411.31,221.08 L411.74,220.95 L412.17,220.84 L412.59,220.72 L413.02,220.61 L413.44,220.5 L413.87,220.4 L414.3,220.29 L414.72,220.19 L415.15,220.1 L415.57,220 L416,219.91 L416.43,219.82 L416.85,219.74 L417.28,219.66 L417.7,219.58 L418.13,219.5 L418.56,219.42 L418.98,219.35 L419.41,219.28 L419.83,219.21 L420.26,219.14 L420.69,219.07 L421.11,219.01 L421.54,218.95 L421.96,218.89 L422.39,218.83 L422.82,218.78 L423.24,218.72 L423.67,218.67 L424.09,218.62 L424.52,218.57 L424.95,218.52 L425.37,218.47 L425.8,218.43 L426.22,218.38 L426.65,218.34 L427.08,218.3 L427.5,218.26 L427.93,218.22 L428.35,218.18 L428.78,218.15 L429.21,218.11 L429.63,218.08 L430.06,218.05" stroke="#1a1aee" stroke-width="1.2"/>
</g>
<circle cx="302.69" cy="333.75" r="1.3" fill="#f0407a" stroke="#c02060" stroke-width="0.4"/>
<circle cx="306.88" cy="333.43" r="1.3" fill="#f0407a" stroke="#c02060" stroke-width="0.4"/>
<circle cx="311.06" cy="332.99" r="1.3" fill="#f0407a" stroke="#c02060" stroke-width="0.4"/>
<circle cx="315.25" cy="332.39" r="1.3" fill="#f0407a" stroke="#c02060" stroke-width="0.4"/>
<circle cx="319.43" cy="331.58" r="1.3" fill="#f0407a" stroke="#c02060" stroke-width="0.4"/>
<circle cx="323.62" cy="330.49" r="1.3" fill="#f0407a" stroke="#c02060" stroke-width="0.4"/>
<circle cx="327.8" cy="329.03" r="1.3" fill="#f0407a" stroke="#c02060" stroke-width="0.4"/>
<circle cx="331.99" cy="327.09" r="1.3" fill="#f0407a" stroke="#c02060" stroke-width="0.4"/>
<circle cx="400.95" cy="223.56" r="1.3" fill="#f0407a" stroke="#c02060" stroke-width="0.4"/>
<circle cx="405.13" cy="221.64" r="1.3" fill="#f0407a" stroke="#c02060" stroke-width="0.4"/>
<circle cx="409.32" cy="220.21" r="1.3" fill="#f0407a" stroke="#c02060" stroke-width="0.4"/>
<circle cx="413.5" cy="219.13" r="1.3" fill="#f0407a" stroke="#c02060" stroke-width="0.4"/>
<circle cx="417.68" cy="218.33" r="1.3" fill="#f0407a" stroke="#c02060" stroke-width="0.4"/>
<circle cx="421.87" cy="217.74" r="1.3" fill="#f0407a" stroke="#c02060" stroke-width="0.4"/>
<circle cx="426.05" cy="217.31" r="1.3" fill="#f0407a" stroke="#c02060" stroke-width="0.4"/>
<circle cx="430.24" cy="216.98" r="1.3" fill="#f0407a" stroke="#c02060" stroke-width="0.4"/>
<line x1="274.82" y1="202.4" x2="457.93" y2="202.4" stroke="#111" stroke-width="1.15"/>
<line x1="274.82" y1="348.35" x2="457.93" y2="348.35" stroke="#111" stroke-width="1.15"/>
<line x1="275.4" y1="202.4" x2="275.4" y2="348.35" stroke="#111" stroke-width="1.15"/>
<line x1="457.35" y1="202.4" x2="457.35" y2="348.35" stroke="#111" stroke-width="1.15"/>
<line x1="293.59" y1="348.35" x2="293.59" y2="345.75" stroke="#111" stroke-width="1.15"/>
<line x1="293.59" y1="202.4" x2="293.59" y2="205" stroke="#111" stroke-width="1.15"/>
<line x1="329.99" y1="348.35" x2="329.99" y2="345.75" stroke="#111" stroke-width="1.15"/>
<line x1="329.99" y1="202.4" x2="329.99" y2="205" stroke="#111" stroke-width="1.15"/>
<line x1="366.38" y1="348.35" x2="366.38" y2="345.75" stroke="#111" stroke-width="1.15"/>
<line x1="366.38" y1="202.4" x2="366.38" y2="205" stroke="#111" stroke-width="1.15"/>
<line x1="402.76" y1="348.35" x2="402.76" y2="345.75" stroke="#111" stroke-width="1.15"/>
<line x1="402.76" y1="202.4" x2="402.76" y2="205" stroke="#111" stroke-width="1.15"/>
<line x1="439.16" y1="348.35" x2="439.16" y2="345.75" stroke="#111" stroke-width="1.15"/>
<line x1="439.16" y1="202.4" x2="439.16" y2="205" stroke="#111" stroke-width="1.15"/>
<line x1="275.4" y1="217" x2="278" y2="217" stroke="#111" stroke-width="1.15"/>
<line x1="457.35" y1="217" x2="454.75" y2="217" stroke="#111" stroke-width="1.15"/>
<line x1="275.4" y1="246.19" x2="278" y2="246.19" stroke="#111" stroke-width="1.15"/>
<line x1="457.35" y1="246.19" x2="454.75" y2="246.19" stroke="#111" stroke-width="1.15"/>
<line x1="275.4" y1="275.38" x2="278" y2="275.38" stroke="#111" stroke-width="1.15"/>
<line x1="457.35" y1="275.38" x2="454.75" y2="275.38" stroke="#111" stroke-width="1.15"/>
<line x1="275.4" y1="304.56" x2="278" y2="304.56" stroke="#111" stroke-width="1.15"/>
<line x1="457.35" y1="304.56" x2="454.75" y2="304.56" stroke="#111" stroke-width="1.15"/>
<line x1="275.4" y1="333.75" x2="278" y2="333.75" stroke="#111" stroke-width="1.15"/>
<line x1="457.35" y1="333.75" x2="454.75" y2="333.75" stroke="#111" stroke-width="1.15"/>
<text x="285.62" y="359.1" font-size="9.4" font-weight="bold" fill="#111" stroke="#111" stroke-width="0.24">−40</text>
<text x="322.01" y="359.1" font-size="9.4" font-weight="bold" fill="#111" stroke="#111" stroke-width="0.24">−20</text>
<text x="363.77" y="359.1" font-size="9.4" font-weight="bold" fill="#111" stroke="#111" stroke-width="0.24">0</text>
<text x="397.57" y="359.1" font-size="9.4" font-weight="bold" fill="#111" stroke="#111" stroke-width="0.24">20</text>
<text x="434.05" y="359.1" font-size="9.4" font-weight="bold" fill="#111" stroke="#111" stroke-width="0.24">40</text>
<text x="259.92" y="220.36" font-size="9.4" font-weight="bold" fill="#111" stroke="#111" stroke-width="0.24">1.0</text>
<text x="259.79" y="249.55" font-size="9.4" font-weight="bold" fill="#111" stroke="#111" stroke-width="0.24">0.5</text>
<text x="259.92" y="278.74" font-size="9.4" font-weight="bold" fill="#111" stroke="#111" stroke-width="0.24">0.0</text>
<text x="254.3" y="307.93" font-size="9.4" font-weight="bold" fill="#111" stroke="#111" stroke-width="0.24">−0.5</text>
<text x="254.43" y="337.12" font-size="9.4" font-weight="bold" fill="#111" stroke="#111" stroke-width="0.24">−1.0</text>
<text x="325.81" y="372.5" font-size="10.6" font-weight="bold" font-style="italic" fill="#111" stroke="#111" stroke-width="0.27">H/T</text>
<text x="346.67" y="372.5" font-size="10.6" font-weight="bold" fill="#111" stroke="#111" stroke-width="0.27">(</text>
<text x="353.43" y="372.5" font-size="10.6" font-weight="bold" fill="#111" stroke="#111" stroke-width="0.27">10</text>
<text x="365.24" y="367.9" font-size="7" font-weight="bold" fill="#111" stroke="#111" stroke-width="0.17">3</text>
<text x="371.77" y="372.5" font-size="10.6" font-weight="bold" fill="#111" stroke="#111" stroke-width="0.27">Oe</text>
<text x="389.39" y="372.5" font-size="10.6" font-weight="bold" fill="#111" stroke="#111" stroke-width="0.27">K</text>
<text x="397.13" y="368.2" font-size="7" font-weight="bold" fill="#111" stroke="#111" stroke-width="0.17">-1</text>
<text x="403.99" y="372.5" font-size="10.6" font-weight="bold" fill="#111" stroke="#111" stroke-width="0.27">)</text>
<text transform="translate(252.8,286.18) rotate(-90)" font-size="10.5" font-weight="bold" font-style="italic" fill="#111" stroke="#111" stroke-width="0.26">M/M</text>
<text transform="translate(255.6,264.68) rotate(-90)" font-size="7" font-weight="bold" font-style="italic" fill="#111" stroke="#111" stroke-width="0.17">s</text>
<text x="244.25" y="191.4" font-size="14" font-weight="bold" fill="#111" stroke="#111" stroke-width="0.35">e</text>
<circle cx="412.8" cy="246.4" r="1.6" fill="#f0407a" stroke="#c02060" stroke-width="0.5"/>
<text x="424.3" y="249.5" font-size="8.7" font-weight="bold" fill="#111" stroke="#111" stroke-width="0.22">2 K</text>
<circle cx="412.8" cy="256.82" r="1.6" fill="#d9708e" stroke="#b04868" stroke-width="0.5"/>
<text x="424.47" y="259.92" font-size="8.7" font-weight="bold" fill="#111" stroke="#111" stroke-width="0.22">4 K</text>
<circle cx="412.8" cy="267.24" r="1.6" fill="#f2a062" stroke="#d07838" stroke-width="0.5"/>
<text x="424.32" y="270.34" font-size="8.7" font-weight="bold" fill="#111" stroke="#111" stroke-width="0.22">8 K</text>
<circle cx="412.8" cy="277.66" r="1.6" fill="#a6ecc6" stroke="#70c898" stroke-width="0.5"/>
<text x="424.05" y="280.76" font-size="8.7" font-weight="bold" fill="#111" stroke="#111" stroke-width="0.22">12 K</text>
<circle cx="412.8" cy="288.08" r="1.6" fill="#6aa6e6" stroke="#4080c8" stroke-width="0.5"/>
<text x="424.05" y="291.18" font-size="8.7" font-weight="bold" fill="#111" stroke="#111" stroke-width="0.22">16 K</text>
<circle cx="412.8" cy="298.5" r="1.6" fill="#7a5cc8" stroke="#5a3ca8" stroke-width="0.5"/>
<text x="424.3" y="301.6" font-size="8.7" font-weight="bold" fill="#111" stroke="#111" stroke-width="0.22">20 K</text>
<line x1="402.9" y1="309.2" x2="420.8" y2="309.2" stroke="#1a1aee" stroke-width="1.2" stroke-dasharray="3,1.9"/>
<line x1="402.9" y1="319.7" x2="420.8" y2="319.7" stroke="#111" stroke-width="1.15" stroke-dasharray="3,1.9"/>
<text x="424.59" y="312.3" font-size="8.7" font-weight="bold" font-style="italic" fill="#111" stroke="#111" stroke-width="0.22">S=1/2</text>
<text x="424.59" y="322.8" font-size="8.7" font-weight="bold" font-style="italic" fill="#111" stroke="#111" stroke-width="0.22">S=1</text>
<line x1="498.93" y1="200.7" x2="683.98" y2="200.7" stroke="#111" stroke-width="1.15"/>
<line x1="498.93" y1="348.9" x2="683.98" y2="348.9" stroke="#111" stroke-width="1.15"/>
<line x1="499.5" y1="200.7" x2="499.5" y2="348.9" stroke="#111" stroke-width="1.15"/>
<line x1="683.4" y1="200.7" x2="683.4" y2="348.9" stroke="#111" stroke-width="1.15"/>
<line x1="512.64" y1="348.9" x2="512.64" y2="346.3" stroke="#111" stroke-width="1.15"/>
<line x1="512.64" y1="200.7" x2="512.64" y2="203.3" stroke="#111" stroke-width="1.15"/>
<line x1="538.91" y1="348.9" x2="538.91" y2="346.3" stroke="#111" stroke-width="1.15"/>
<line x1="538.91" y1="200.7" x2="538.91" y2="203.3" stroke="#111" stroke-width="1.15"/>
<line x1="565.18" y1="348.9" x2="565.18" y2="346.3" stroke="#111" stroke-width="1.15"/>
<line x1="565.18" y1="200.7" x2="565.18" y2="203.3" stroke="#111" stroke-width="1.15"/>
<line x1="591.45" y1="348.9" x2="591.45" y2="346.3" stroke="#111" stroke-width="1.15"/>
<line x1="591.45" y1="200.7" x2="591.45" y2="203.3" stroke="#111" stroke-width="1.15"/>
<line x1="617.72" y1="348.9" x2="617.72" y2="346.3" stroke="#111" stroke-width="1.15"/>
<line x1="617.72" y1="200.7" x2="617.72" y2="203.3" stroke="#111" stroke-width="1.15"/>
<line x1="643.99" y1="348.9" x2="643.99" y2="346.3" stroke="#111" stroke-width="1.15"/>
<line x1="643.99" y1="200.7" x2="643.99" y2="203.3" stroke="#111" stroke-width="1.15"/>
<line x1="670.26" y1="348.9" x2="670.26" y2="346.3" stroke="#111" stroke-width="1.15"/>
<line x1="670.26" y1="200.7" x2="670.26" y2="203.3" stroke="#111" stroke-width="1.15"/>
<line x1="499.5" y1="200.7" x2="502.5" y2="200.7" stroke="#111" stroke-width="1.15"/>
<line x1="683.4" y1="200.7" x2="680.4" y2="200.7" stroke="#111" stroke-width="1.15"/>
<line x1="499.5" y1="274.8" x2="502.5" y2="274.8" stroke="#111" stroke-width="1.15"/>
<line x1="683.4" y1="274.8" x2="680.4" y2="274.8" stroke="#111" stroke-width="1.15"/>
<line x1="499.5" y1="348.9" x2="502.5" y2="348.9" stroke="#111" stroke-width="1.15"/>
<line x1="683.4" y1="348.9" x2="680.4" y2="348.9" stroke="#111" stroke-width="1.15"/>
<line x1="499.5" y1="326.59" x2="501.2" y2="326.59" stroke="#111" stroke-width="0.9"/>
<line x1="683.4" y1="326.59" x2="681.7" y2="326.59" stroke="#111" stroke-width="0.9"/>
<line x1="499.5" y1="313.55" x2="501.2" y2="313.55" stroke="#111" stroke-width="0.9"/>
<line x1="683.4" y1="313.55" x2="681.7" y2="313.55" stroke="#111" stroke-width="0.9"/>
<line x1="499.5" y1="304.29" x2="501.2" y2="304.29" stroke="#111" stroke-width="0.9"/>
<line x1="683.4" y1="304.29" x2="681.7" y2="304.29" stroke="#111" stroke-width="0.9"/>
<line x1="499.5" y1="297.11" x2="501.2" y2="297.11" stroke="#111" stroke-width="0.9"/>
<line x1="683.4" y1="297.11" x2="681.7" y2="297.11" stroke="#111" stroke-width="0.9"/>
<line x1="499.5" y1="291.24" x2="501.2" y2="291.24" stroke="#111" stroke-width="0.9"/>
<line x1="683.4" y1="291.24" x2="681.7" y2="291.24" stroke="#111" stroke-width="0.9"/>
<line x1="499.5" y1="286.28" x2="501.2" y2="286.28" stroke="#111" stroke-width="0.9"/>
<line x1="683.4" y1="286.28" x2="681.7" y2="286.28" stroke="#111" stroke-width="0.9"/>
<line x1="499.5" y1="281.98" x2="501.2" y2="281.98" stroke="#111" stroke-width="0.9"/>
<line x1="683.4" y1="281.98" x2="681.7" y2="281.98" stroke="#111" stroke-width="0.9"/>
<line x1="499.5" y1="278.19" x2="501.2" y2="278.19" stroke="#111" stroke-width="0.9"/>
<line x1="683.4" y1="278.19" x2="681.7" y2="278.19" stroke="#111" stroke-width="0.9"/>
<line x1="499.5" y1="252.49" x2="501.2" y2="252.49" stroke="#111" stroke-width="0.9"/>
<line x1="683.4" y1="252.49" x2="681.7" y2="252.49" stroke="#111" stroke-width="0.9"/>
<line x1="499.5" y1="239.45" x2="501.2" y2="239.45" stroke="#111" stroke-width="0.9"/>
<line x1="683.4" y1="239.45" x2="681.7" y2="239.45" stroke="#111" stroke-width="0.9"/>
<line x1="499.5" y1="230.19" x2="501.2" y2="230.19" stroke="#111" stroke-width="0.9"/>
<line x1="683.4" y1="230.19" x2="681.7" y2="230.19" stroke="#111" stroke-width="0.9"/>
<line x1="499.5" y1="223.01" x2="501.2" y2="223.01" stroke="#111" stroke-width="0.9"/>
<line x1="683.4" y1="223.01" x2="681.7" y2="223.01" stroke="#111" stroke-width="0.9"/>
<line x1="499.5" y1="217.14" x2="501.2" y2="217.14" stroke="#111" stroke-width="0.9"/>
<line x1="683.4" y1="217.14" x2="681.7" y2="217.14" stroke="#111" stroke-width="0.9"/>
<line x1="499.5" y1="212.18" x2="501.2" y2="212.18" stroke="#111" stroke-width="0.9"/>
<line x1="683.4" y1="212.18" x2="681.7" y2="212.18" stroke="#111" stroke-width="0.9"/>
<line x1="499.5" y1="207.88" x2="501.2" y2="207.88" stroke="#111" stroke-width="0.9"/>
<line x1="683.4" y1="207.88" x2="681.7" y2="207.88" stroke="#111" stroke-width="0.9"/>
<line x1="499.5" y1="204.09" x2="501.2" y2="204.09" stroke="#111" stroke-width="0.9"/>
<line x1="683.4" y1="204.09" x2="681.7" y2="204.09" stroke="#111" stroke-width="0.9"/>
<text x="510.03" y="359.9" font-size="9.4" font-weight="bold" fill="#111" stroke="#111" stroke-width="0.24">0</text>
<text x="533.73" y="359.9" font-size="9.4" font-weight="bold" fill="#111" stroke="#111" stroke-width="0.24">50</text>
<text x="557.23" y="359.9" font-size="9.4" font-weight="bold" fill="#111" stroke="#111" stroke-width="0.24">100</text>
<text x="583.5" y="359.9" font-size="9.4" font-weight="bold" fill="#111" stroke="#111" stroke-width="0.24">150</text>
<text x="609.91" y="359.9" font-size="9.4" font-weight="bold" fill="#111" stroke="#111" stroke-width="0.24">200</text>
<text x="636.18" y="359.9" font-size="9.4" font-weight="bold" fill="#111" stroke="#111" stroke-width="0.24">250</text>
<text x="662.51" y="359.9" font-size="9.4" font-weight="bold" fill="#111" stroke="#111" stroke-width="0.24">300</text>
<text x="480.03" y="204.1" font-size="9.4" font-weight="bold" fill="#111" stroke="#111" stroke-width="0.24">10</text>
<text x="490.65" y="200.1" font-size="6.4" font-weight="bold" fill="#111" stroke="#111" stroke-width="0.16">-2</text>
<text x="480.03" y="278.2" font-size="9.4" font-weight="bold" fill="#111" stroke="#111" stroke-width="0.24">10</text>
<text x="490.65" y="274.2" font-size="6.4" font-weight="bold" fill="#111" stroke="#111" stroke-width="0.16">-3</text>
<text x="480.03" y="352.3" font-size="9.4" font-weight="bold" fill="#111" stroke="#111" stroke-width="0.24">10</text>
<text x="490.65" y="348.3" font-size="6.4" font-weight="bold" fill="#111" stroke="#111" stroke-width="0.16">-4</text>
<text x="579.01" y="373.8" font-size="12.5" font-weight="bold" font-style="italic" fill="#111" stroke="#111" stroke-width="0.31">T</text>
<text x="589.48" y="373.8" font-size="12.5" font-weight="bold" fill="#111" stroke="#111" stroke-width="0.31">(k)</text>
<text transform="translate(475.6,303.52) rotate(-90)" font-size="12.5" font-weight="normal" fill="#111" stroke="#111" stroke-width="0.31">σ</text>
<text transform="translate(475.6,294.35) rotate(-90)" font-size="13" font-weight="bold" fill="#111" stroke="#111" stroke-width="0.33">(</text>
<text transform="translate(475.6,282.97) rotate(-90)" font-size="13" font-weight="bold" fill="#111" stroke="#111" stroke-width="0.33">S</text>
<text transform="translate(475.6,272.36) rotate(-90)" font-size="13" font-weight="bold" fill="#111" stroke="#111" stroke-width="0.33">m</text>
<text transform="translate(470,259.75) rotate(-90)" font-size="8.5" font-weight="bold" fill="#111" stroke="#111" stroke-width="0.21">−1</text>
<text transform="translate(475.6,250.21) rotate(-90)" font-size="13" font-weight="bold" fill="#111" stroke="#111" stroke-width="0.33">)</text>
<text x="470.76" y="191.5" font-size="14" font-weight="bold" fill="#111" stroke="#111" stroke-width="0.35">f</text>
<line x1="514.4" y1="247.3" x2="514.4" y2="260.2" stroke="#111" stroke-width="0.9"/>
<line x1="512.6" y1="247.3" x2="516.2" y2="247.3" stroke="#111" stroke-width="0.9"/>
<line x1="512.6" y1="260.2" x2="516.2" y2="260.2" stroke="#111" stroke-width="0.9"/>
<rect x="512.7" y="251.15" width="3.4" height="3.5" fill="#111"/>
<rect x="516.1" y="251.15" width="3.4" height="3.5" fill="#111"/>
<line x1="523" y1="247.6" x2="523" y2="257" stroke="#111" stroke-width="0.9"/>
<line x1="521.2" y1="247.6" x2="524.8" y2="247.6" stroke="#111" stroke-width="0.9"/>
<line x1="521.2" y1="257" x2="524.8" y2="257" stroke="#111" stroke-width="0.9"/>
<rect x="521.3" y="250.15" width="3.4" height="3.5" fill="#111"/>
<line x1="528.6" y1="247.9" x2="528.6" y2="254.5" stroke="#111" stroke-width="0.9"/>
<line x1="526.8" y1="247.9" x2="530.4" y2="247.9" stroke="#111" stroke-width="0.9"/>
<line x1="526.8" y1="254.5" x2="530.4" y2="254.5" stroke="#111" stroke-width="0.9"/>
<rect x="526.9" y="249.35" width="3.4" height="3.5" fill="#111"/>
<line x1="539" y1="246.2" x2="539" y2="255.1" stroke="#111" stroke-width="0.9"/>
<line x1="537.2" y1="246.2" x2="540.8" y2="246.2" stroke="#111" stroke-width="0.9"/>
<line x1="537.2" y1="255.1" x2="540.8" y2="255.1" stroke="#111" stroke-width="0.9"/>
<rect x="537.3" y="248.35" width="3.4" height="3.5" fill="#111"/>
<line x1="549.4" y1="244.1" x2="549.4" y2="256.4" stroke="#111" stroke-width="0.9"/>
<line x1="547.6" y1="244.1" x2="551.2" y2="244.1" stroke="#111" stroke-width="0.9"/>
<line x1="547.6" y1="256.4" x2="551.2" y2="256.4" stroke="#111" stroke-width="0.9"/>
<rect x="547.7" y="247.65" width="3.4" height="3.5" fill="#111"/>
<line x1="565.3" y1="242.3" x2="565.3" y2="256.9" stroke="#111" stroke-width="0.9"/>
<line x1="563.5" y1="242.3" x2="567.1" y2="242.3" stroke="#111" stroke-width="0.9"/>
<line x1="563.5" y1="256.9" x2="567.1" y2="256.9" stroke="#111" stroke-width="0.9"/>
<rect x="563.6" y="246.65" width="3.4" height="3.5" fill="#111"/>
<line x1="575.7" y1="246" x2="575.7" y2="250" stroke="#111" stroke-width="0.9"/>
<line x1="573.9" y1="246" x2="577.5" y2="246" stroke="#111" stroke-width="0.9"/>
<line x1="573.9" y1="250" x2="577.5" y2="250" stroke="#111" stroke-width="0.9"/>
<rect x="574" y="246.25" width="3.4" height="3.5" fill="#111"/>
<line x1="586.6" y1="241.1" x2="586.6" y2="254.4" stroke="#111" stroke-width="0.9"/>
<line x1="584.8" y1="241.1" x2="588.4" y2="241.1" stroke="#111" stroke-width="0.9"/>
<line x1="584.8" y1="254.4" x2="588.4" y2="254.4" stroke="#111" stroke-width="0.9"/>
<rect x="584.9" y="245.55" width="3.4" height="3.5" fill="#111"/>
<line x1="596.9" y1="241.4" x2="596.9" y2="252.3" stroke="#111" stroke-width="0.9"/>
<line x1="595.1" y1="241.4" x2="598.7" y2="241.4" stroke="#111" stroke-width="0.9"/>
<line x1="595.1" y1="252.3" x2="598.7" y2="252.3" stroke="#111" stroke-width="0.9"/>
<rect x="595.2" y="244.75" width="3.4" height="3.5" fill="#111"/>
<line x1="607.3" y1="241.2" x2="607.3" y2="250.1" stroke="#111" stroke-width="0.9"/>
<line x1="605.5" y1="241.2" x2="609.1" y2="241.2" stroke="#111" stroke-width="0.9"/>
<line x1="605.5" y1="250.1" x2="609.1" y2="250.1" stroke="#111" stroke-width="0.9"/>
<rect x="605.6" y="243.75" width="3.4" height="3.5" fill="#111"/>
<line x1="618" y1="239.2" x2="618" y2="250" stroke="#111" stroke-width="0.9"/>
<line x1="616.2" y1="239.2" x2="619.8" y2="239.2" stroke="#111" stroke-width="0.9"/>
<line x1="616.2" y1="250" x2="619.8" y2="250" stroke="#111" stroke-width="0.9"/>
<rect x="616.3" y="242.65" width="3.4" height="3.5" fill="#111"/>
<line x1="628.6" y1="240.3" x2="628.6" y2="246.2" stroke="#111" stroke-width="0.9"/>
<line x1="626.8" y1="240.3" x2="630.4" y2="240.3" stroke="#111" stroke-width="0.9"/>
<line x1="626.8" y1="246.2" x2="630.4" y2="246.2" stroke="#111" stroke-width="0.9"/>
<rect x="626.9" y="241.25" width="3.4" height="3.5" fill="#111"/>
<line x1="638.8" y1="241" x2="638.8" y2="245.5" stroke="#111" stroke-width="0.9"/>
<line x1="637" y1="241" x2="640.6" y2="241" stroke="#111" stroke-width="0.9"/>
<line x1="637" y1="245.5" x2="640.6" y2="245.5" stroke="#111" stroke-width="0.9"/>
<rect x="637.1" y="241.25" width="3.4" height="3.5" fill="#111"/>
<line x1="649.6" y1="237.5" x2="649.6" y2="249.4" stroke="#111" stroke-width="0.9"/>
<line x1="647.8" y1="237.5" x2="651.4" y2="237.5" stroke="#111" stroke-width="0.9"/>
<line x1="647.8" y1="249.4" x2="651.4" y2="249.4" stroke="#111" stroke-width="0.9"/>
<rect x="647.9" y="241.05" width="3.4" height="3.5" fill="#111"/>
<line x1="660.3" y1="239" x2="660.3" y2="246.2" stroke="#111" stroke-width="0.9"/>
<line x1="658.5" y1="239" x2="662.1" y2="239" stroke="#111" stroke-width="0.9"/>
<line x1="658.5" y1="246.2" x2="662.1" y2="246.2" stroke="#111" stroke-width="0.9"/>
<rect x="658.6" y="240.55" width="3.4" height="3.5" fill="#111"/>
<rect x="668.7" y="240.55" width="3.4" height="3.5" fill="#111"/>
<rect x="585.3" y="257.1" width="91.3" height="72.9" fill="#fff"/>
<line x1="594.43" y1="324.53" x2="667.47" y2="262.57" stroke="#3f7fc6" stroke-width="1.1"/>
<line x1="584.85" y1="257.1" x2="677.05" y2="257.1" stroke="#333" stroke-width="0.9"/>
<line x1="584.85" y1="330" x2="677.05" y2="330" stroke="#333" stroke-width="0.9"/>
<line x1="585.3" y1="257.1" x2="585.3" y2="330" stroke="#333" stroke-width="0.9"/>
<line x1="676.6" y1="257.1" x2="676.6" y2="330" stroke="#333" stroke-width="0.9"/>
<line x1="594.43" y1="330" x2="594.43" y2="328.2" stroke="#111" stroke-width="0.7"/>
<line x1="594.43" y1="257.1" x2="594.43" y2="258.9" stroke="#111" stroke-width="0.7"/>
<line x1="612.69" y1="330" x2="612.69" y2="328.2" stroke="#111" stroke-width="0.7"/>
<line x1="612.69" y1="257.1" x2="612.69" y2="258.9" stroke="#111" stroke-width="0.7"/>
<line x1="630.95" y1="330" x2="630.95" y2="328.2" stroke="#111" stroke-width="0.7"/>
<line x1="630.95" y1="257.1" x2="630.95" y2="258.9" stroke="#111" stroke-width="0.7"/>
<line x1="649.21" y1="330" x2="649.21" y2="328.2" stroke="#111" stroke-width="0.7"/>
<line x1="649.21" y1="257.1" x2="649.21" y2="258.9" stroke="#111" stroke-width="0.7"/>
<line x1="667.47" y1="330" x2="667.47" y2="328.2" stroke="#111" stroke-width="0.7"/>
<line x1="667.47" y1="257.1" x2="667.47" y2="258.9" stroke="#111" stroke-width="0.7"/>
<line x1="585.3" y1="264.39" x2="587.1" y2="264.39" stroke="#111" stroke-width="0.7"/>
<line x1="676.6" y1="264.39" x2="674.8" y2="264.39" stroke="#111" stroke-width="0.7"/>
<line x1="585.3" y1="278.97" x2="587.1" y2="278.97" stroke="#111" stroke-width="0.7"/>
<line x1="676.6" y1="278.97" x2="674.8" y2="278.97" stroke="#111" stroke-width="0.7"/>
<line x1="585.3" y1="293.55" x2="587.1" y2="293.55" stroke="#111" stroke-width="0.7"/>
<line x1="676.6" y1="293.55" x2="674.8" y2="293.55" stroke="#111" stroke-width="0.7"/>
<line x1="585.3" y1="308.13" x2="587.1" y2="308.13" stroke="#111" stroke-width="0.7"/>
<line x1="676.6" y1="308.13" x2="674.8" y2="308.13" stroke="#111" stroke-width="0.7"/>
<line x1="585.3" y1="322.71" x2="587.1" y2="322.71" stroke="#111" stroke-width="0.7"/>
<line x1="676.6" y1="322.71" x2="674.8" y2="322.71" stroke="#111" stroke-width="0.7"/>
<text x="590.9" y="337" font-size="6.2" font-weight="normal" fill="#222" stroke="#222" stroke-width="0.15">−2</text>
<text x="609.15" y="337" font-size="6.2" font-weight="normal" fill="#222" stroke="#222" stroke-width="0.15">−1</text>
<text x="629.23" y="337" font-size="6.2" font-weight="normal" fill="#222" stroke="#222" stroke-width="0.15">0</text>
<text x="647.4" y="337" font-size="6.2" font-weight="normal" fill="#222" stroke="#222" stroke-width="0.15">1</text>
<text x="665.75" y="337" font-size="6.2" font-weight="normal" fill="#222" stroke="#222" stroke-width="0.15">2</text>
<text x="579.82" y="266.59" font-size="6.2" font-weight="normal" fill="#222" stroke="#222" stroke-width="0.15">8</text>
<text x="579.73" y="281.17" font-size="6.2" font-weight="normal" fill="#222" stroke="#222" stroke-width="0.15">4</text>
<text x="579.79" y="295.75" font-size="6.2" font-weight="normal" fill="#222" stroke="#222" stroke-width="0.15">0</text>
<text x="576.11" y="310.33" font-size="6.2" font-weight="normal" fill="#222" stroke="#222" stroke-width="0.15">−4</text>
<text x="576.2" y="324.91" font-size="6.2" font-weight="normal" fill="#222" stroke="#222" stroke-width="0.15">−8</text>
<text x="621.49" y="345.1" font-size="8.5" font-weight="bold" font-style="italic" fill="#111" stroke="#111" stroke-width="0.21">V</text>
<text x="630.58" y="345.1" font-size="8.5" font-weight="bold" fill="#111" stroke="#111" stroke-width="0.21">(V)</text>
<text transform="translate(573.4,310.02) rotate(-90)" font-size="6.8" font-weight="bold" font-style="italic" fill="#111" stroke="#111" stroke-width="0.17">I</text>
<text transform="translate(573.4,304.84) rotate(-90)" font-size="6.8" font-weight="bold" fill="#111" stroke="#111" stroke-width="0.17">(</text>
<text transform="translate(573.4,300.83) rotate(-90)" font-size="6.8" font-weight="bold" fill="#111" stroke="#111" stroke-width="0.17">10</text>
<text transform="translate(569.6,292.19) rotate(-90)" font-size="4.6" font-weight="bold" fill="#111" stroke="#111" stroke-width="0.11">−4</text>
<text transform="translate(573.4,286.87) rotate(-90)" font-size="6.8" font-weight="bold" fill="#111" stroke="#111" stroke-width="0.17">A)</text>
</svg>
</body></html>
